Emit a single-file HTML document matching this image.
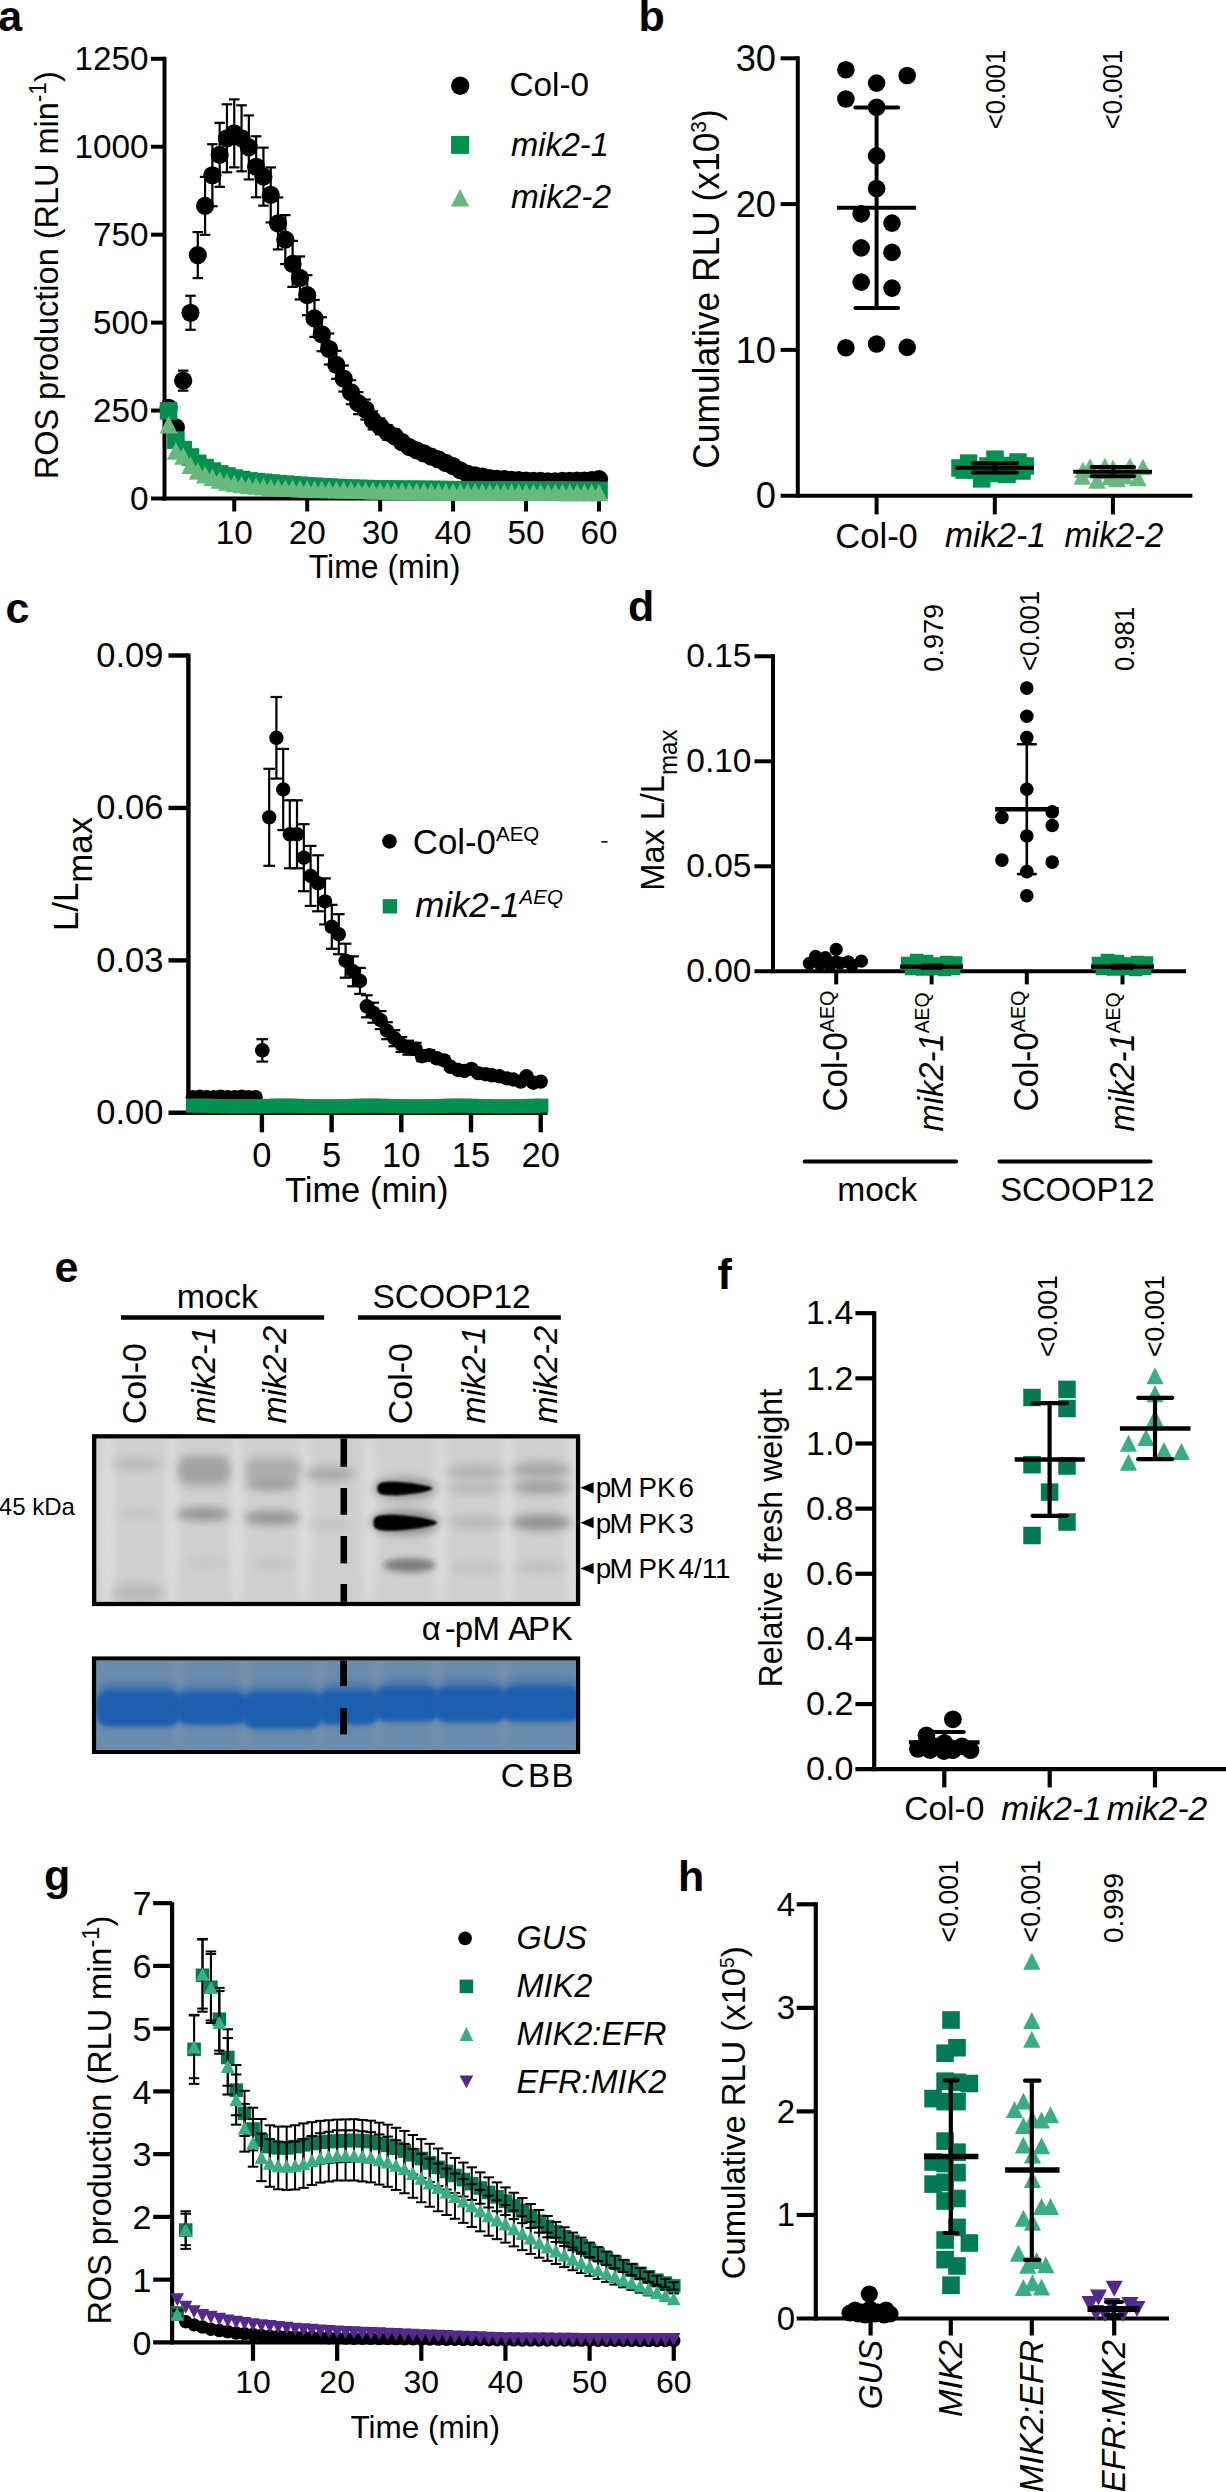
<!DOCTYPE html>
<html><head><meta charset="utf-8"><title>Figure</title>
<style>
html,body{margin:0;padding:0;background:#fff;width:1226px;height:2492px;overflow:hidden}
svg{display:block}
text{font-family:"Liberation Sans",sans-serif}
</style></head><body>
<svg width="1226" height="2492" viewBox="0 0 1226 2492">
<rect width="1226" height="2492" fill="#fff"/>
<text x="-1.8" y="30.5" font-size="43" font-weight="bold">a</text>
<line x1="164.5" y1="56.8" x2="164.5" y2="500.5" stroke="#000" stroke-width="4" stroke-linecap="butt"/>
<line x1="151" y1="498.5" x2="603" y2="498.5" stroke="#000" stroke-width="4" stroke-linecap="butt"/>
<text x="148.5" y="510.1" font-size="33.3" text-anchor="end">0</text>
<line x1="151" y1="410.56" x2="164.5" y2="410.56" stroke="#000" stroke-width="4" stroke-linecap="butt"/>
<text x="148.5" y="422.16" font-size="33.3" text-anchor="end">250</text>
<line x1="151" y1="322.62" x2="164.5" y2="322.62" stroke="#000" stroke-width="4" stroke-linecap="butt"/>
<text x="148.5" y="334.22" font-size="33.3" text-anchor="end">500</text>
<line x1="151" y1="234.68" x2="164.5" y2="234.68" stroke="#000" stroke-width="4" stroke-linecap="butt"/>
<text x="148.5" y="246.28" font-size="33.3" text-anchor="end">750</text>
<line x1="151" y1="146.74" x2="164.5" y2="146.74" stroke="#000" stroke-width="4" stroke-linecap="butt"/>
<text x="148.5" y="158.34" font-size="33.3" text-anchor="end">1000</text>
<line x1="151" y1="58.8" x2="164.5" y2="58.8" stroke="#000" stroke-width="4" stroke-linecap="butt"/>
<text x="148.5" y="70.4" font-size="33.3" text-anchor="end">1250</text>
<line x1="234.25" y1="498.5" x2="234.25" y2="511.5" stroke="#000" stroke-width="4" stroke-linecap="butt"/>
<text x="234.25" y="544.4" font-size="33.3" text-anchor="middle">10</text>
<line x1="307.2" y1="498.5" x2="307.2" y2="511.5" stroke="#000" stroke-width="4" stroke-linecap="butt"/>
<text x="307.2" y="544.4" font-size="33.3" text-anchor="middle">20</text>
<line x1="380.15" y1="498.5" x2="380.15" y2="511.5" stroke="#000" stroke-width="4" stroke-linecap="butt"/>
<text x="380.15" y="544.4" font-size="33.3" text-anchor="middle">30</text>
<line x1="453.1" y1="498.5" x2="453.1" y2="511.5" stroke="#000" stroke-width="4" stroke-linecap="butt"/>
<text x="453.1" y="544.4" font-size="33.3" text-anchor="middle">40</text>
<line x1="526.05" y1="498.5" x2="526.05" y2="511.5" stroke="#000" stroke-width="4" stroke-linecap="butt"/>
<text x="526.05" y="544.4" font-size="33.3" text-anchor="middle">50</text>
<line x1="599" y1="498.5" x2="599" y2="511.5" stroke="#000" stroke-width="4" stroke-linecap="butt"/>
<text x="599" y="544.4" font-size="33.3" text-anchor="middle">60</text>
<text transform="translate(384.5 577.8) scale(0.9610 1)" font-size="33.3" text-anchor="middle">Time (min)</text>
<text transform="translate(58 275.2) rotate(-90) scale(0.9750 1)" font-size="33.3" text-anchor="middle">ROS production (RLU min<tspan font-size="23.4" dy="-12.4">-1</tspan><tspan dy="12.4">)</tspan></text>
<line x1="168.59" y1="404.75" x2="168.59" y2="410.75" stroke="#000" stroke-width="2.2" stroke-linecap="butt"/>
<line x1="163.34" y1="404.75" x2="173.84" y2="404.75" stroke="#000" stroke-width="2.2" stroke-linecap="butt"/>
<line x1="163.34" y1="410.75" x2="173.84" y2="410.75" stroke="#000" stroke-width="2.2" stroke-linecap="butt"/>
<line x1="175.89" y1="424.44" x2="175.89" y2="430.44" stroke="#000" stroke-width="2.2" stroke-linecap="butt"/>
<line x1="170.64" y1="424.44" x2="181.14" y2="424.44" stroke="#000" stroke-width="2.2" stroke-linecap="butt"/>
<line x1="170.64" y1="430.44" x2="181.14" y2="430.44" stroke="#000" stroke-width="2.2" stroke-linecap="butt"/>
<line x1="183.19" y1="370.66" x2="183.19" y2="390.66" stroke="#000" stroke-width="2.2" stroke-linecap="butt"/>
<line x1="177.94" y1="370.66" x2="188.44" y2="370.66" stroke="#000" stroke-width="2.2" stroke-linecap="butt"/>
<line x1="177.94" y1="390.66" x2="188.44" y2="390.66" stroke="#000" stroke-width="2.2" stroke-linecap="butt"/>
<line x1="190.48" y1="295.77" x2="190.48" y2="329.77" stroke="#000" stroke-width="2.2" stroke-linecap="butt"/>
<line x1="185.23" y1="295.77" x2="195.73" y2="295.77" stroke="#000" stroke-width="2.2" stroke-linecap="butt"/>
<line x1="185.23" y1="329.77" x2="195.73" y2="329.77" stroke="#000" stroke-width="2.2" stroke-linecap="butt"/>
<line x1="197.78" y1="232.08" x2="197.78" y2="278.08" stroke="#000" stroke-width="2.2" stroke-linecap="butt"/>
<line x1="192.53" y1="232.08" x2="203.03" y2="232.08" stroke="#000" stroke-width="2.2" stroke-linecap="butt"/>
<line x1="192.53" y1="278.08" x2="203.03" y2="278.08" stroke="#000" stroke-width="2.2" stroke-linecap="butt"/>
<line x1="205.07" y1="176.84" x2="205.07" y2="234.84" stroke="#000" stroke-width="2.2" stroke-linecap="butt"/>
<line x1="199.82" y1="176.84" x2="210.32" y2="176.84" stroke="#000" stroke-width="2.2" stroke-linecap="butt"/>
<line x1="199.82" y1="234.84" x2="210.32" y2="234.84" stroke="#000" stroke-width="2.2" stroke-linecap="butt"/>
<line x1="212.37" y1="144.23" x2="212.37" y2="206.23" stroke="#000" stroke-width="2.2" stroke-linecap="butt"/>
<line x1="207.12" y1="144.23" x2="217.62" y2="144.23" stroke="#000" stroke-width="2.2" stroke-linecap="butt"/>
<line x1="207.12" y1="206.23" x2="217.62" y2="206.23" stroke="#000" stroke-width="2.2" stroke-linecap="butt"/>
<line x1="219.66" y1="122.83" x2="219.66" y2="186.83" stroke="#000" stroke-width="2.2" stroke-linecap="butt"/>
<line x1="214.41" y1="122.83" x2="224.91" y2="122.83" stroke="#000" stroke-width="2.2" stroke-linecap="butt"/>
<line x1="214.41" y1="186.83" x2="224.91" y2="186.83" stroke="#000" stroke-width="2.2" stroke-linecap="butt"/>
<line x1="226.96" y1="104.3" x2="226.96" y2="172.3" stroke="#000" stroke-width="2.2" stroke-linecap="butt"/>
<line x1="221.71" y1="104.3" x2="232.21" y2="104.3" stroke="#000" stroke-width="2.2" stroke-linecap="butt"/>
<line x1="221.71" y1="172.3" x2="232.21" y2="172.3" stroke="#000" stroke-width="2.2" stroke-linecap="butt"/>
<line x1="234.25" y1="99.37" x2="234.25" y2="167.37" stroke="#000" stroke-width="2.2" stroke-linecap="butt"/>
<line x1="229" y1="99.37" x2="239.5" y2="99.37" stroke="#000" stroke-width="2.2" stroke-linecap="butt"/>
<line x1="229" y1="167.37" x2="239.5" y2="167.37" stroke="#000" stroke-width="2.2" stroke-linecap="butt"/>
<line x1="241.55" y1="105.3" x2="241.55" y2="171.3" stroke="#000" stroke-width="2.2" stroke-linecap="butt"/>
<line x1="236.3" y1="105.3" x2="246.8" y2="105.3" stroke="#000" stroke-width="2.2" stroke-linecap="butt"/>
<line x1="236.3" y1="171.3" x2="246.8" y2="171.3" stroke="#000" stroke-width="2.2" stroke-linecap="butt"/>
<line x1="248.84" y1="115.44" x2="248.84" y2="179.44" stroke="#000" stroke-width="2.2" stroke-linecap="butt"/>
<line x1="243.59" y1="115.44" x2="254.09" y2="115.44" stroke="#000" stroke-width="2.2" stroke-linecap="butt"/>
<line x1="243.59" y1="179.44" x2="254.09" y2="179.44" stroke="#000" stroke-width="2.2" stroke-linecap="butt"/>
<line x1="256.13" y1="136.29" x2="256.13" y2="197.29" stroke="#000" stroke-width="2.2" stroke-linecap="butt"/>
<line x1="250.88" y1="136.29" x2="261.38" y2="136.29" stroke="#000" stroke-width="2.2" stroke-linecap="butt"/>
<line x1="250.88" y1="197.29" x2="261.38" y2="197.29" stroke="#000" stroke-width="2.2" stroke-linecap="butt"/>
<line x1="263.43" y1="147.64" x2="263.43" y2="205.64" stroke="#000" stroke-width="2.2" stroke-linecap="butt"/>
<line x1="258.18" y1="147.64" x2="268.68" y2="147.64" stroke="#000" stroke-width="2.2" stroke-linecap="butt"/>
<line x1="258.18" y1="205.64" x2="268.68" y2="205.64" stroke="#000" stroke-width="2.2" stroke-linecap="butt"/>
<line x1="270.73" y1="167.43" x2="270.73" y2="222.43" stroke="#000" stroke-width="2.2" stroke-linecap="butt"/>
<line x1="265.48" y1="167.43" x2="275.98" y2="167.43" stroke="#000" stroke-width="2.2" stroke-linecap="butt"/>
<line x1="265.48" y1="222.43" x2="275.98" y2="222.43" stroke="#000" stroke-width="2.2" stroke-linecap="butt"/>
<line x1="278.02" y1="197.42" x2="278.02" y2="249.42" stroke="#000" stroke-width="2.2" stroke-linecap="butt"/>
<line x1="272.77" y1="197.42" x2="283.27" y2="197.42" stroke="#000" stroke-width="2.2" stroke-linecap="butt"/>
<line x1="272.77" y1="249.42" x2="283.27" y2="249.42" stroke="#000" stroke-width="2.2" stroke-linecap="butt"/>
<line x1="285.31" y1="215.1" x2="285.31" y2="264.1" stroke="#000" stroke-width="2.2" stroke-linecap="butt"/>
<line x1="280.06" y1="215.1" x2="290.56" y2="215.1" stroke="#000" stroke-width="2.2" stroke-linecap="butt"/>
<line x1="280.06" y1="264.1" x2="290.56" y2="264.1" stroke="#000" stroke-width="2.2" stroke-linecap="butt"/>
<line x1="292.61" y1="240.88" x2="292.61" y2="286.88" stroke="#000" stroke-width="2.2" stroke-linecap="butt"/>
<line x1="287.36" y1="240.88" x2="297.86" y2="240.88" stroke="#000" stroke-width="2.2" stroke-linecap="butt"/>
<line x1="287.36" y1="286.88" x2="297.86" y2="286.88" stroke="#000" stroke-width="2.2" stroke-linecap="butt"/>
<line x1="299.9" y1="256.45" x2="299.9" y2="299.45" stroke="#000" stroke-width="2.2" stroke-linecap="butt"/>
<line x1="294.65" y1="256.45" x2="305.15" y2="256.45" stroke="#000" stroke-width="2.2" stroke-linecap="butt"/>
<line x1="294.65" y1="299.45" x2="305.15" y2="299.45" stroke="#000" stroke-width="2.2" stroke-linecap="butt"/>
<line x1="307.2" y1="275.18" x2="307.2" y2="315.18" stroke="#000" stroke-width="2.2" stroke-linecap="butt"/>
<line x1="301.95" y1="275.18" x2="312.45" y2="275.18" stroke="#000" stroke-width="2.2" stroke-linecap="butt"/>
<line x1="301.95" y1="315.18" x2="312.45" y2="315.18" stroke="#000" stroke-width="2.2" stroke-linecap="butt"/>
<line x1="314.5" y1="299.9" x2="314.5" y2="336.9" stroke="#000" stroke-width="2.2" stroke-linecap="butt"/>
<line x1="309.25" y1="299.9" x2="319.75" y2="299.9" stroke="#000" stroke-width="2.2" stroke-linecap="butt"/>
<line x1="309.25" y1="336.9" x2="319.75" y2="336.9" stroke="#000" stroke-width="2.2" stroke-linecap="butt"/>
<line x1="321.79" y1="317.23" x2="321.79" y2="351.23" stroke="#000" stroke-width="2.2" stroke-linecap="butt"/>
<line x1="316.54" y1="317.23" x2="327.04" y2="317.23" stroke="#000" stroke-width="2.2" stroke-linecap="butt"/>
<line x1="316.54" y1="351.23" x2="327.04" y2="351.23" stroke="#000" stroke-width="2.2" stroke-linecap="butt"/>
<line x1="329.09" y1="333.5" x2="329.09" y2="364.5" stroke="#000" stroke-width="2.2" stroke-linecap="butt"/>
<line x1="323.84" y1="333.5" x2="334.34" y2="333.5" stroke="#000" stroke-width="2.2" stroke-linecap="butt"/>
<line x1="323.84" y1="364.5" x2="334.34" y2="364.5" stroke="#000" stroke-width="2.2" stroke-linecap="butt"/>
<line x1="336.38" y1="350.83" x2="336.38" y2="378.83" stroke="#000" stroke-width="2.2" stroke-linecap="butt"/>
<line x1="331.13" y1="350.83" x2="341.63" y2="350.83" stroke="#000" stroke-width="2.2" stroke-linecap="butt"/>
<line x1="331.13" y1="378.83" x2="341.63" y2="378.83" stroke="#000" stroke-width="2.2" stroke-linecap="butt"/>
<line x1="343.68" y1="365.55" x2="343.68" y2="391.55" stroke="#000" stroke-width="2.2" stroke-linecap="butt"/>
<line x1="338.43" y1="365.55" x2="348.93" y2="365.55" stroke="#000" stroke-width="2.2" stroke-linecap="butt"/>
<line x1="338.43" y1="391.55" x2="348.93" y2="391.55" stroke="#000" stroke-width="2.2" stroke-linecap="butt"/>
<line x1="350.97" y1="380.27" x2="350.97" y2="404.27" stroke="#000" stroke-width="2.2" stroke-linecap="butt"/>
<line x1="345.72" y1="380.27" x2="356.22" y2="380.27" stroke="#000" stroke-width="2.2" stroke-linecap="butt"/>
<line x1="345.72" y1="404.27" x2="356.22" y2="404.27" stroke="#000" stroke-width="2.2" stroke-linecap="butt"/>
<line x1="358.26" y1="392.17" x2="358.26" y2="414.17" stroke="#000" stroke-width="2.2" stroke-linecap="butt"/>
<line x1="353.01" y1="392.17" x2="363.51" y2="392.17" stroke="#000" stroke-width="2.2" stroke-linecap="butt"/>
<line x1="353.01" y1="414.17" x2="363.51" y2="414.17" stroke="#000" stroke-width="2.2" stroke-linecap="butt"/>
<line x1="365.56" y1="399.5" x2="365.56" y2="419.5" stroke="#000" stroke-width="2.2" stroke-linecap="butt"/>
<line x1="360.31" y1="399.5" x2="370.81" y2="399.5" stroke="#000" stroke-width="2.2" stroke-linecap="butt"/>
<line x1="360.31" y1="419.5" x2="370.81" y2="419.5" stroke="#000" stroke-width="2.2" stroke-linecap="butt"/>
<line x1="372.86" y1="411.41" x2="372.86" y2="429.41" stroke="#000" stroke-width="2.2" stroke-linecap="butt"/>
<line x1="367.61" y1="411.41" x2="378.11" y2="411.41" stroke="#000" stroke-width="2.2" stroke-linecap="butt"/>
<line x1="367.61" y1="429.41" x2="378.11" y2="429.41" stroke="#000" stroke-width="2.2" stroke-linecap="butt"/>
<line x1="380.15" y1="418.39" x2="380.15" y2="434.39" stroke="#000" stroke-width="2.2" stroke-linecap="butt"/>
<line x1="374.9" y1="418.39" x2="385.4" y2="418.39" stroke="#000" stroke-width="2.2" stroke-linecap="butt"/>
<line x1="374.9" y1="434.39" x2="385.4" y2="434.39" stroke="#000" stroke-width="2.2" stroke-linecap="butt"/>
<line x1="387.45" y1="425.04" x2="387.45" y2="439.7" stroke="#000" stroke-width="2.2" stroke-linecap="butt"/>
<line x1="382.2" y1="425.04" x2="392.7" y2="425.04" stroke="#000" stroke-width="2.2" stroke-linecap="butt"/>
<line x1="382.2" y1="439.7" x2="392.7" y2="439.7" stroke="#000" stroke-width="2.2" stroke-linecap="butt"/>
<line x1="394.74" y1="429.57" x2="394.74" y2="442.91" stroke="#000" stroke-width="2.2" stroke-linecap="butt"/>
<line x1="389.49" y1="429.57" x2="399.99" y2="429.57" stroke="#000" stroke-width="2.2" stroke-linecap="butt"/>
<line x1="389.49" y1="442.91" x2="399.99" y2="442.91" stroke="#000" stroke-width="2.2" stroke-linecap="butt"/>
<line x1="402.03" y1="436.22" x2="402.03" y2="448.22" stroke="#000" stroke-width="2.2" stroke-linecap="butt"/>
<line x1="396.78" y1="436.22" x2="407.28" y2="436.22" stroke="#000" stroke-width="2.2" stroke-linecap="butt"/>
<line x1="396.78" y1="448.22" x2="407.28" y2="448.22" stroke="#000" stroke-width="2.2" stroke-linecap="butt"/>
<line x1="409.33" y1="441.81" x2="409.33" y2="452.48" stroke="#000" stroke-width="2.2" stroke-linecap="butt"/>
<line x1="404.08" y1="441.81" x2="414.58" y2="441.81" stroke="#000" stroke-width="2.2" stroke-linecap="butt"/>
<line x1="404.08" y1="452.48" x2="414.58" y2="452.48" stroke="#000" stroke-width="2.2" stroke-linecap="butt"/>
<line x1="416.62" y1="445.64" x2="416.62" y2="454.98" stroke="#000" stroke-width="2.2" stroke-linecap="butt"/>
<line x1="411.38" y1="445.64" x2="421.88" y2="445.64" stroke="#000" stroke-width="2.2" stroke-linecap="butt"/>
<line x1="411.38" y1="454.98" x2="421.88" y2="454.98" stroke="#000" stroke-width="2.2" stroke-linecap="butt"/>
<line x1="423.92" y1="449.47" x2="423.92" y2="457.47" stroke="#000" stroke-width="2.2" stroke-linecap="butt"/>
<line x1="418.67" y1="449.47" x2="429.17" y2="449.47" stroke="#000" stroke-width="2.2" stroke-linecap="butt"/>
<line x1="418.67" y1="457.47" x2="429.17" y2="457.47" stroke="#000" stroke-width="2.2" stroke-linecap="butt"/>
<line x1="431.22" y1="452.89" x2="431.22" y2="460.39" stroke="#000" stroke-width="2.2" stroke-linecap="butt"/>
<line x1="425.97" y1="452.89" x2="436.47" y2="452.89" stroke="#000" stroke-width="2.2" stroke-linecap="butt"/>
<line x1="425.97" y1="460.39" x2="436.47" y2="460.39" stroke="#000" stroke-width="2.2" stroke-linecap="butt"/>
<line x1="438.51" y1="455.95" x2="438.51" y2="462.95" stroke="#000" stroke-width="2.2" stroke-linecap="butt"/>
<line x1="433.26" y1="455.95" x2="443.76" y2="455.95" stroke="#000" stroke-width="2.2" stroke-linecap="butt"/>
<line x1="433.26" y1="462.95" x2="443.76" y2="462.95" stroke="#000" stroke-width="2.2" stroke-linecap="butt"/>
<line x1="445.81" y1="459.72" x2="445.81" y2="466.22" stroke="#000" stroke-width="2.2" stroke-linecap="butt"/>
<line x1="440.56" y1="459.72" x2="451.06" y2="459.72" stroke="#000" stroke-width="2.2" stroke-linecap="butt"/>
<line x1="440.56" y1="466.22" x2="451.06" y2="466.22" stroke="#000" stroke-width="2.2" stroke-linecap="butt"/>
<line x1="453.1" y1="463.14" x2="453.1" y2="469.14" stroke="#000" stroke-width="2.2" stroke-linecap="butt"/>
<line x1="447.85" y1="463.14" x2="458.35" y2="463.14" stroke="#000" stroke-width="2.2" stroke-linecap="butt"/>
<line x1="447.85" y1="469.14" x2="458.35" y2="469.14" stroke="#000" stroke-width="2.2" stroke-linecap="butt"/>
<line x1="460.39" y1="467.41" x2="460.39" y2="473.31" stroke="#000" stroke-width="2.2" stroke-linecap="butt"/>
<line x1="455.14" y1="467.41" x2="465.64" y2="467.41" stroke="#000" stroke-width="2.2" stroke-linecap="butt"/>
<line x1="455.14" y1="473.31" x2="465.64" y2="473.31" stroke="#000" stroke-width="2.2" stroke-linecap="butt"/>
<line x1="467.69" y1="470.98" x2="467.69" y2="476.78" stroke="#000" stroke-width="2.2" stroke-linecap="butt"/>
<line x1="462.44" y1="470.98" x2="472.94" y2="470.98" stroke="#000" stroke-width="2.2" stroke-linecap="butt"/>
<line x1="462.44" y1="476.78" x2="472.94" y2="476.78" stroke="#000" stroke-width="2.2" stroke-linecap="butt"/>
<line x1="474.99" y1="472.43" x2="474.99" y2="478.13" stroke="#000" stroke-width="2.2" stroke-linecap="butt"/>
<line x1="469.74" y1="472.43" x2="480.24" y2="472.43" stroke="#000" stroke-width="2.2" stroke-linecap="butt"/>
<line x1="469.74" y1="478.13" x2="480.24" y2="478.13" stroke="#000" stroke-width="2.2" stroke-linecap="butt"/>
<line x1="482.28" y1="473.89" x2="482.28" y2="479.49" stroke="#000" stroke-width="2.2" stroke-linecap="butt"/>
<line x1="477.03" y1="473.89" x2="487.53" y2="473.89" stroke="#000" stroke-width="2.2" stroke-linecap="butt"/>
<line x1="477.03" y1="479.49" x2="487.53" y2="479.49" stroke="#000" stroke-width="2.2" stroke-linecap="butt"/>
<line x1="489.57" y1="475.35" x2="489.57" y2="480.85" stroke="#000" stroke-width="2.2" stroke-linecap="butt"/>
<line x1="484.32" y1="475.35" x2="494.82" y2="475.35" stroke="#000" stroke-width="2.2" stroke-linecap="butt"/>
<line x1="484.32" y1="480.85" x2="494.82" y2="480.85" stroke="#000" stroke-width="2.2" stroke-linecap="butt"/>
<line x1="496.87" y1="476.1" x2="496.87" y2="481.5" stroke="#000" stroke-width="2.2" stroke-linecap="butt"/>
<line x1="491.62" y1="476.1" x2="502.12" y2="476.1" stroke="#000" stroke-width="2.2" stroke-linecap="butt"/>
<line x1="491.62" y1="481.5" x2="502.12" y2="481.5" stroke="#000" stroke-width="2.2" stroke-linecap="butt"/>
<line x1="504.17" y1="476.5" x2="504.17" y2="481.8" stroke="#000" stroke-width="2.2" stroke-linecap="butt"/>
<line x1="498.92" y1="476.5" x2="509.42" y2="476.5" stroke="#000" stroke-width="2.2" stroke-linecap="butt"/>
<line x1="498.92" y1="481.8" x2="509.42" y2="481.8" stroke="#000" stroke-width="2.2" stroke-linecap="butt"/>
<line x1="511.46" y1="477.26" x2="511.46" y2="482.46" stroke="#000" stroke-width="2.2" stroke-linecap="butt"/>
<line x1="506.21" y1="477.26" x2="516.71" y2="477.26" stroke="#000" stroke-width="2.2" stroke-linecap="butt"/>
<line x1="506.21" y1="482.46" x2="516.71" y2="482.46" stroke="#000" stroke-width="2.2" stroke-linecap="butt"/>
<line x1="518.75" y1="477.66" x2="518.75" y2="482.76" stroke="#000" stroke-width="2.2" stroke-linecap="butt"/>
<line x1="513.5" y1="477.66" x2="524" y2="477.66" stroke="#000" stroke-width="2.2" stroke-linecap="butt"/>
<line x1="513.5" y1="482.76" x2="524" y2="482.76" stroke="#000" stroke-width="2.2" stroke-linecap="butt"/>
<line x1="526.05" y1="478.06" x2="526.05" y2="483.06" stroke="#000" stroke-width="2.2" stroke-linecap="butt"/>
<line x1="520.8" y1="478.06" x2="531.3" y2="478.06" stroke="#000" stroke-width="2.2" stroke-linecap="butt"/>
<line x1="520.8" y1="483.06" x2="531.3" y2="483.06" stroke="#000" stroke-width="2.2" stroke-linecap="butt"/>
<line x1="533.35" y1="478.46" x2="533.35" y2="483.36" stroke="#000" stroke-width="2.2" stroke-linecap="butt"/>
<line x1="528.1" y1="478.46" x2="538.6" y2="478.46" stroke="#000" stroke-width="2.2" stroke-linecap="butt"/>
<line x1="528.1" y1="483.36" x2="538.6" y2="483.36" stroke="#000" stroke-width="2.2" stroke-linecap="butt"/>
<line x1="540.64" y1="478.51" x2="540.64" y2="483.31" stroke="#000" stroke-width="2.2" stroke-linecap="butt"/>
<line x1="535.39" y1="478.51" x2="545.89" y2="478.51" stroke="#000" stroke-width="2.2" stroke-linecap="butt"/>
<line x1="535.39" y1="483.31" x2="545.89" y2="483.31" stroke="#000" stroke-width="2.2" stroke-linecap="butt"/>
<line x1="547.93" y1="478.91" x2="547.93" y2="483.61" stroke="#000" stroke-width="2.2" stroke-linecap="butt"/>
<line x1="542.68" y1="478.91" x2="553.18" y2="478.91" stroke="#000" stroke-width="2.2" stroke-linecap="butt"/>
<line x1="542.68" y1="483.61" x2="553.18" y2="483.61" stroke="#000" stroke-width="2.2" stroke-linecap="butt"/>
<line x1="555.23" y1="478.96" x2="555.23" y2="483.56" stroke="#000" stroke-width="2.2" stroke-linecap="butt"/>
<line x1="549.98" y1="478.96" x2="560.48" y2="478.96" stroke="#000" stroke-width="2.2" stroke-linecap="butt"/>
<line x1="549.98" y1="483.56" x2="560.48" y2="483.56" stroke="#000" stroke-width="2.2" stroke-linecap="butt"/>
<line x1="562.53" y1="478.66" x2="562.53" y2="483.16" stroke="#000" stroke-width="2.2" stroke-linecap="butt"/>
<line x1="557.28" y1="478.66" x2="567.78" y2="478.66" stroke="#000" stroke-width="2.2" stroke-linecap="butt"/>
<line x1="557.28" y1="483.16" x2="567.78" y2="483.16" stroke="#000" stroke-width="2.2" stroke-linecap="butt"/>
<line x1="569.82" y1="478.71" x2="569.82" y2="483.11" stroke="#000" stroke-width="2.2" stroke-linecap="butt"/>
<line x1="564.57" y1="478.71" x2="575.07" y2="478.71" stroke="#000" stroke-width="2.2" stroke-linecap="butt"/>
<line x1="564.57" y1="483.11" x2="575.07" y2="483.11" stroke="#000" stroke-width="2.2" stroke-linecap="butt"/>
<line x1="577.12" y1="478.41" x2="577.12" y2="482.71" stroke="#000" stroke-width="2.2" stroke-linecap="butt"/>
<line x1="571.87" y1="478.41" x2="582.37" y2="478.41" stroke="#000" stroke-width="2.2" stroke-linecap="butt"/>
<line x1="571.87" y1="482.71" x2="582.37" y2="482.71" stroke="#000" stroke-width="2.2" stroke-linecap="butt"/>
<line x1="584.41" y1="478.46" x2="584.41" y2="482.66" stroke="#000" stroke-width="2.2" stroke-linecap="butt"/>
<line x1="579.16" y1="478.46" x2="589.66" y2="478.46" stroke="#000" stroke-width="2.2" stroke-linecap="butt"/>
<line x1="579.16" y1="482.66" x2="589.66" y2="482.66" stroke="#000" stroke-width="2.2" stroke-linecap="butt"/>
<line x1="591.7" y1="478.16" x2="591.7" y2="482.26" stroke="#000" stroke-width="2.2" stroke-linecap="butt"/>
<line x1="586.45" y1="478.16" x2="596.95" y2="478.16" stroke="#000" stroke-width="2.2" stroke-linecap="butt"/>
<line x1="586.45" y1="482.26" x2="596.95" y2="482.26" stroke="#000" stroke-width="2.2" stroke-linecap="butt"/>
<line x1="599" y1="477.15" x2="599" y2="481.15" stroke="#000" stroke-width="2.2" stroke-linecap="butt"/>
<line x1="593.75" y1="477.15" x2="604.25" y2="477.15" stroke="#000" stroke-width="2.2" stroke-linecap="butt"/>
<line x1="593.75" y1="481.15" x2="604.25" y2="481.15" stroke="#000" stroke-width="2.2" stroke-linecap="butt"/>
<circle cx="168.59" cy="407.75" r="9.1" fill="#000"/>
<circle cx="175.89" cy="427.44" r="9.1" fill="#000"/>
<circle cx="183.19" cy="380.66" r="9.1" fill="#000"/>
<circle cx="190.48" cy="312.77" r="9.1" fill="#000"/>
<circle cx="197.78" cy="255.08" r="9.1" fill="#000"/>
<circle cx="205.07" cy="205.84" r="9.1" fill="#000"/>
<circle cx="212.37" cy="175.23" r="9.1" fill="#000"/>
<circle cx="219.66" cy="154.83" r="9.1" fill="#000"/>
<circle cx="226.96" cy="138.3" r="9.1" fill="#000"/>
<circle cx="234.25" cy="133.37" r="9.1" fill="#000"/>
<circle cx="241.55" cy="138.3" r="9.1" fill="#000"/>
<circle cx="248.84" cy="147.44" r="9.1" fill="#000"/>
<circle cx="256.13" cy="166.79" r="9.1" fill="#000"/>
<circle cx="263.43" cy="176.64" r="9.1" fill="#000"/>
<circle cx="270.73" cy="194.93" r="9.1" fill="#000"/>
<circle cx="278.02" cy="223.42" r="9.1" fill="#000"/>
<circle cx="285.31" cy="239.6" r="9.1" fill="#000"/>
<circle cx="292.61" cy="263.88" r="9.1" fill="#000"/>
<circle cx="299.9" cy="277.95" r="9.1" fill="#000"/>
<circle cx="307.2" cy="295.18" r="9.1" fill="#000"/>
<circle cx="314.5" cy="318.4" r="9.1" fill="#000"/>
<circle cx="321.79" cy="334.23" r="9.1" fill="#000"/>
<circle cx="329.09" cy="349" r="9.1" fill="#000"/>
<circle cx="336.38" cy="364.83" r="9.1" fill="#000"/>
<circle cx="343.68" cy="378.55" r="9.1" fill="#000"/>
<circle cx="350.97" cy="392.27" r="9.1" fill="#000"/>
<circle cx="358.26" cy="403.17" r="9.1" fill="#000"/>
<circle cx="365.56" cy="409.5" r="9.1" fill="#000"/>
<circle cx="372.86" cy="420.41" r="9.1" fill="#000"/>
<circle cx="380.15" cy="426.39" r="9.1" fill="#000"/>
<circle cx="387.45" cy="432.37" r="9.1" fill="#000"/>
<circle cx="394.74" cy="436.24" r="9.1" fill="#000"/>
<circle cx="402.03" cy="442.22" r="9.1" fill="#000"/>
<circle cx="409.33" cy="447.14" r="9.1" fill="#000"/>
<circle cx="416.62" cy="450.31" r="9.1" fill="#000"/>
<circle cx="423.92" cy="453.47" r="9.1" fill="#000"/>
<circle cx="431.22" cy="456.64" r="9.1" fill="#000"/>
<circle cx="438.51" cy="459.45" r="9.1" fill="#000"/>
<circle cx="445.81" cy="462.97" r="9.1" fill="#000"/>
<circle cx="453.1" cy="466.14" r="9.1" fill="#000"/>
<circle cx="460.39" cy="470.36" r="9.1" fill="#000"/>
<circle cx="467.69" cy="473.88" r="9.1" fill="#000"/>
<circle cx="474.99" cy="475.28" r="9.1" fill="#000"/>
<circle cx="482.28" cy="476.69" r="9.1" fill="#000"/>
<circle cx="489.57" cy="478.1" r="9.1" fill="#000"/>
<circle cx="496.87" cy="478.8" r="9.1" fill="#000"/>
<circle cx="504.17" cy="479.15" r="9.1" fill="#000"/>
<circle cx="511.46" cy="479.86" r="9.1" fill="#000"/>
<circle cx="518.75" cy="480.21" r="9.1" fill="#000"/>
<circle cx="526.05" cy="480.56" r="9.1" fill="#000"/>
<circle cx="533.35" cy="480.91" r="9.1" fill="#000"/>
<circle cx="540.64" cy="480.91" r="9.1" fill="#000"/>
<circle cx="547.93" cy="481.26" r="9.1" fill="#000"/>
<circle cx="555.23" cy="481.26" r="9.1" fill="#000"/>
<circle cx="562.53" cy="480.91" r="9.1" fill="#000"/>
<circle cx="569.82" cy="480.91" r="9.1" fill="#000"/>
<circle cx="577.12" cy="480.56" r="9.1" fill="#000"/>
<circle cx="584.41" cy="480.56" r="9.1" fill="#000"/>
<circle cx="591.7" cy="480.21" r="9.1" fill="#000"/>
<circle cx="599" cy="479.15" r="9.1" fill="#000"/>
<rect x="159.79" y="402.11" width="17.6" height="17.6" fill="#029050"/>
<rect x="167.09" y="431.31" width="17.6" height="17.6" fill="#029050"/>
<rect x="174.38" y="440.81" width="17.6" height="17.6" fill="#029050"/>
<rect x="181.68" y="448.19" width="17.6" height="17.6" fill="#029050"/>
<rect x="188.97" y="454.52" width="17.6" height="17.6" fill="#029050"/>
<rect x="196.27" y="458.75" width="17.6" height="17.6" fill="#029050"/>
<rect x="203.56" y="462.26" width="17.6" height="17.6" fill="#029050"/>
<rect x="210.86" y="465.08" width="17.6" height="17.6" fill="#029050"/>
<rect x="218.16" y="467.19" width="17.6" height="17.6" fill="#029050"/>
<rect x="225.45" y="469.3" width="17.6" height="17.6" fill="#029050"/>
<rect x="232.75" y="470.7" width="17.6" height="17.6" fill="#029050"/>
<rect x="240.04" y="472.11" width="17.6" height="17.6" fill="#029050"/>
<rect x="247.33" y="472.82" width="17.6" height="17.6" fill="#029050"/>
<rect x="254.63" y="473.52" width="17.6" height="17.6" fill="#029050"/>
<rect x="261.93" y="474.22" width="17.6" height="17.6" fill="#029050"/>
<rect x="269.22" y="474.79" width="17.6" height="17.6" fill="#029050"/>
<rect x="276.51" y="475.35" width="17.6" height="17.6" fill="#029050"/>
<rect x="283.81" y="475.91" width="17.6" height="17.6" fill="#029050"/>
<rect x="291.1" y="476.47" width="17.6" height="17.6" fill="#029050"/>
<rect x="298.4" y="477.04" width="17.6" height="17.6" fill="#029050"/>
<rect x="305.69" y="477.46" width="17.6" height="17.6" fill="#029050"/>
<rect x="312.99" y="477.88" width="17.6" height="17.6" fill="#029050"/>
<rect x="320.29" y="478.3" width="17.6" height="17.6" fill="#029050"/>
<rect x="327.58" y="478.73" width="17.6" height="17.6" fill="#029050"/>
<rect x="334.88" y="479.15" width="17.6" height="17.6" fill="#029050"/>
<rect x="342.17" y="479.36" width="17.6" height="17.6" fill="#029050"/>
<rect x="349.46" y="479.57" width="17.6" height="17.6" fill="#029050"/>
<rect x="356.76" y="479.78" width="17.6" height="17.6" fill="#029050"/>
<rect x="364.06" y="479.99" width="17.6" height="17.6" fill="#029050"/>
<rect x="371.35" y="480.2" width="17.6" height="17.6" fill="#029050"/>
<rect x="378.65" y="480.27" width="17.6" height="17.6" fill="#029050"/>
<rect x="385.94" y="480.34" width="17.6" height="17.6" fill="#029050"/>
<rect x="393.23" y="480.41" width="17.6" height="17.6" fill="#029050"/>
<rect x="400.53" y="480.48" width="17.6" height="17.6" fill="#029050"/>
<rect x="407.82" y="480.55" width="17.6" height="17.6" fill="#029050"/>
<rect x="415.12" y="480.62" width="17.6" height="17.6" fill="#029050"/>
<rect x="422.42" y="480.69" width="17.6" height="17.6" fill="#029050"/>
<rect x="429.71" y="480.77" width="17.6" height="17.6" fill="#029050"/>
<rect x="437" y="480.84" width="17.6" height="17.6" fill="#029050"/>
<rect x="444.3" y="480.91" width="17.6" height="17.6" fill="#029050"/>
<rect x="451.59" y="480.94" width="17.6" height="17.6" fill="#029050"/>
<rect x="458.89" y="480.98" width="17.6" height="17.6" fill="#029050"/>
<rect x="466.19" y="481.01" width="17.6" height="17.6" fill="#029050"/>
<rect x="473.48" y="481.05" width="17.6" height="17.6" fill="#029050"/>
<rect x="480.77" y="481.08" width="17.6" height="17.6" fill="#029050"/>
<rect x="488.07" y="481.12" width="17.6" height="17.6" fill="#029050"/>
<rect x="495.37" y="481.15" width="17.6" height="17.6" fill="#029050"/>
<rect x="502.66" y="481.19" width="17.6" height="17.6" fill="#029050"/>
<rect x="509.95" y="481.22" width="17.6" height="17.6" fill="#029050"/>
<rect x="517.25" y="481.26" width="17.6" height="17.6" fill="#029050"/>
<rect x="524.55" y="481.29" width="17.6" height="17.6" fill="#029050"/>
<rect x="531.84" y="481.33" width="17.6" height="17.6" fill="#029050"/>
<rect x="539.13" y="481.36" width="17.6" height="17.6" fill="#029050"/>
<rect x="546.43" y="481.4" width="17.6" height="17.6" fill="#029050"/>
<rect x="553.73" y="481.43" width="17.6" height="17.6" fill="#029050"/>
<rect x="561.02" y="481.47" width="17.6" height="17.6" fill="#029050"/>
<rect x="568.32" y="481.5" width="17.6" height="17.6" fill="#029050"/>
<rect x="575.61" y="481.54" width="17.6" height="17.6" fill="#029050"/>
<rect x="582.9" y="481.57" width="17.6" height="17.6" fill="#029050"/>
<rect x="590.2" y="481.61" width="17.6" height="17.6" fill="#029050"/>
<polygon points="168.59,415.83 177.59,433.43 159.59,433.43" fill="#68b97d"/>
<polygon points="175.89,442.21 184.89,459.81 166.89,459.81" fill="#68b97d"/>
<polygon points="183.19,447.14 192.19,464.74 174.19,464.74" fill="#68b97d"/>
<polygon points="190.48,456.28 199.48,473.88 181.48,473.88" fill="#68b97d"/>
<polygon points="197.78,462.26 206.78,479.86 188.78,479.86" fill="#68b97d"/>
<polygon points="205.07,465.78 214.07,483.38 196.07,483.38" fill="#68b97d"/>
<polygon points="212.37,468.59 221.37,486.19 203.37,486.19" fill="#68b97d"/>
<polygon points="219.66,471.06 228.66,488.66 210.66,488.66" fill="#68b97d"/>
<polygon points="226.96,473.17 235.96,490.77 217.96,490.77" fill="#68b97d"/>
<polygon points="234.25,474.57 243.25,492.17 225.25,492.17" fill="#68b97d"/>
<polygon points="241.55,475.63 250.55,493.23 232.55,493.23" fill="#68b97d"/>
<polygon points="248.84,476.68 257.84,494.28 239.84,494.28" fill="#68b97d"/>
<polygon points="256.13,477.27 265.13,494.87 247.13,494.87" fill="#68b97d"/>
<polygon points="263.43,477.86 272.43,495.46 254.43,495.46" fill="#68b97d"/>
<polygon points="270.73,478.44 279.73,496.04 261.73,496.04" fill="#68b97d"/>
<polygon points="278.02,478.8 287.02,496.4 269.02,496.4" fill="#68b97d"/>
<polygon points="285.31,479.15 294.31,496.75 276.31,496.75" fill="#68b97d"/>
<polygon points="292.61,479.5 301.61,497.1 283.61,497.1" fill="#68b97d"/>
<polygon points="299.9,479.85 308.9,497.45 290.9,497.45" fill="#68b97d"/>
<polygon points="307.2,480.2 316.2,497.8 298.2,497.8" fill="#68b97d"/>
<polygon points="314.5,480.38 323.5,497.98 305.5,497.98" fill="#68b97d"/>
<polygon points="321.79,480.55 330.79,498.15 312.79,498.15" fill="#68b97d"/>
<polygon points="329.09,480.73 338.09,498.33 320.09,498.33" fill="#68b97d"/>
<polygon points="336.38,480.91 345.38,498.51 327.38,498.51" fill="#68b97d"/>
<polygon points="343.68,481.08 352.68,498.68 334.68,498.68" fill="#68b97d"/>
<polygon points="350.97,481.26 359.97,498.86 341.97,498.86" fill="#68b97d"/>
<polygon points="358.26,481.43 367.26,499.03 349.26,499.03" fill="#68b97d"/>
<polygon points="365.56,481.61 374.56,499.21 356.56,499.21" fill="#68b97d"/>
<polygon points="372.86,481.79 381.86,499.39 363.86,499.39" fill="#68b97d"/>
<polygon points="380.15,481.96 389.15,499.56 371.15,499.56" fill="#68b97d"/>
<polygon points="387.45,482.07 396.45,499.67 378.45,499.67" fill="#68b97d"/>
<polygon points="394.74,482.17 403.74,499.77 385.74,499.77" fill="#68b97d"/>
<polygon points="402.03,482.28 411.03,499.88 393.03,499.88" fill="#68b97d"/>
<polygon points="409.33,482.38 418.33,499.98 400.33,499.98" fill="#68b97d"/>
<polygon points="416.62,482.49 425.62,500.09 407.62,500.09" fill="#68b97d"/>
<polygon points="423.92,482.59 432.92,500.19 414.92,500.19" fill="#68b97d"/>
<polygon points="431.22,482.7 440.22,500.3 422.22,500.3" fill="#68b97d"/>
<polygon points="438.51,482.81 447.51,500.41 429.51,500.41" fill="#68b97d"/>
<polygon points="445.81,482.91 454.81,500.51 436.81,500.51" fill="#68b97d"/>
<polygon points="453.1,483.02 462.1,500.62 444.1,500.62" fill="#68b97d"/>
<polygon points="460.39,483.05 469.39,500.65 451.39,500.65" fill="#68b97d"/>
<polygon points="467.69,483.09 476.69,500.69 458.69,500.69" fill="#68b97d"/>
<polygon points="474.99,483.12 483.99,500.72 465.99,500.72" fill="#68b97d"/>
<polygon points="482.28,483.16 491.28,500.76 473.28,500.76" fill="#68b97d"/>
<polygon points="489.57,483.19 498.57,500.79 480.57,500.79" fill="#68b97d"/>
<polygon points="496.87,483.23 505.87,500.83 487.87,500.83" fill="#68b97d"/>
<polygon points="504.17,483.26 513.16,500.86 495.17,500.86" fill="#68b97d"/>
<polygon points="511.46,483.3 520.46,500.9 502.46,500.9" fill="#68b97d"/>
<polygon points="518.75,483.33 527.75,500.93 509.75,500.93" fill="#68b97d"/>
<polygon points="526.05,483.37 535.05,500.97 517.05,500.97" fill="#68b97d"/>
<polygon points="533.35,483.4 542.35,501 524.35,501" fill="#68b97d"/>
<polygon points="540.64,483.44 549.64,501.04 531.64,501.04" fill="#68b97d"/>
<polygon points="547.93,483.47 556.93,501.07 538.93,501.07" fill="#68b97d"/>
<polygon points="555.23,483.51 564.23,501.11 546.23,501.11" fill="#68b97d"/>
<polygon points="562.53,483.54 571.53,501.14 553.53,501.14" fill="#68b97d"/>
<polygon points="569.82,483.58 578.82,501.18 560.82,501.18" fill="#68b97d"/>
<polygon points="577.12,483.61 586.12,501.21 568.12,501.21" fill="#68b97d"/>
<polygon points="584.41,483.65 593.41,501.25 575.41,501.25" fill="#68b97d"/>
<polygon points="591.7,483.68 600.7,501.28 582.7,501.28" fill="#68b97d"/>
<polygon points="599,483.72 608,501.32 590,501.32" fill="#68b97d"/>
<circle cx="460.2" cy="85.7" r="9.2" fill="#000"/>
<rect x="451.1" y="135.9" width="18" height="18" fill="#029050"/>
<polygon points="460.1,188.9 469.2,206.5 451,206.5" fill="#68b97d"/>
<text x="509.5" y="96.4" font-size="33.3">Col-0</text>
<text transform="translate(511 156.2) scale(0.9800 1)" font-size="33.3" font-style="italic">mik2-1</text>
<text x="511" y="208.3" font-size="33.3" font-style="italic">mik2-2</text>
<text x="638.5" y="30.8" font-size="43" font-weight="bold">b</text>
<line x1="797.8" y1="56.2" x2="797.8" y2="497.7" stroke="#000" stroke-width="4" stroke-linecap="butt"/>
<line x1="780.6" y1="495.7" x2="1192.4" y2="495.7" stroke="#000" stroke-width="4" stroke-linecap="butt"/>
<text x="776" y="508.3" font-size="36.3" text-anchor="end">0</text>
<line x1="780.6" y1="349.9" x2="797.8" y2="349.9" stroke="#000" stroke-width="4" stroke-linecap="butt"/>
<text x="776" y="362.5" font-size="36.3" text-anchor="end">10</text>
<line x1="780.6" y1="204.1" x2="797.8" y2="204.1" stroke="#000" stroke-width="4" stroke-linecap="butt"/>
<text x="776" y="216.7" font-size="36.3" text-anchor="end">20</text>
<line x1="780.6" y1="58.3" x2="797.8" y2="58.3" stroke="#000" stroke-width="4" stroke-linecap="butt"/>
<text x="776" y="70.9" font-size="36.3" text-anchor="end">30</text>
<line x1="876.6" y1="495.7" x2="876.6" y2="514.4" stroke="#000" stroke-width="4" stroke-linecap="butt"/>
<line x1="994.8" y1="495.7" x2="994.8" y2="514.4" stroke="#000" stroke-width="4" stroke-linecap="butt"/>
<line x1="1112.9" y1="495.7" x2="1112.9" y2="514.4" stroke="#000" stroke-width="4" stroke-linecap="butt"/>
<text x="876.6" y="547.6" font-size="34.5" text-anchor="middle">Col-0</text>
<text transform="translate(995.4 546.6) scale(0.9750 1)" font-size="34.5" text-anchor="middle" font-style="italic">mik2-1</text>
<text transform="translate(1113.9 546.6) scale(0.9570 1)" font-size="34.5" text-anchor="middle" font-style="italic">mik2-2</text>
<text transform="translate(718.7 289) rotate(-90) scale(0.9750 1)" font-size="36.3" text-anchor="middle">Cumulative RLU (x10<tspan font-size="21.5" dy="-12.3">3</tspan><tspan dy="12.3">)</tspan></text>
<text transform="translate(1004.9 89.5) rotate(-90) scale(0.9250 1)" font-size="27.9" text-anchor="middle">&lt;0.001</text>
<text transform="translate(1122 89.5) rotate(-90) scale(0.9250 1)" font-size="27.9" text-anchor="middle">&lt;0.001</text>
<circle cx="845.9" cy="69.8" r="8.8" fill="#000"/>
<circle cx="876.6" cy="83.1" r="8.8" fill="#000"/>
<circle cx="907.2" cy="75.5" r="8.8" fill="#000"/>
<circle cx="845.9" cy="99" r="8.8" fill="#000"/>
<circle cx="876.6" cy="107.2" r="8.8" fill="#000"/>
<circle cx="876.6" cy="155.9" r="8.8" fill="#000"/>
<circle cx="876.6" cy="188.5" r="8.8" fill="#000"/>
<circle cx="861.2" cy="213.9" r="8.8" fill="#000"/>
<circle cx="892" cy="223.1" r="8.8" fill="#000"/>
<circle cx="861.2" cy="247.9" r="8.8" fill="#000"/>
<circle cx="892" cy="252.4" r="8.8" fill="#000"/>
<circle cx="861.2" cy="282.1" r="8.8" fill="#000"/>
<circle cx="892" cy="288.1" r="8.8" fill="#000"/>
<circle cx="845.9" cy="347.7" r="8.8" fill="#000"/>
<circle cx="876.6" cy="344" r="8.8" fill="#000"/>
<circle cx="907.2" cy="347.4" r="8.8" fill="#000"/>
<line x1="837" y1="207.7" x2="916.1" y2="207.7" stroke="#000" stroke-width="4" stroke-linecap="butt"/>
<line x1="876.6" y1="107.6" x2="876.6" y2="307.9" stroke="#000" stroke-width="4" stroke-linecap="butt"/>
<line x1="855.4" y1="107.6" x2="898.1" y2="107.6" stroke="#000" stroke-width="4" stroke-linecap="round"/>
<line x1="855.4" y1="307.9" x2="898.1" y2="307.9" stroke="#000" stroke-width="4" stroke-linecap="round"/>
<rect x="986.25" y="450.45" width="17.5" height="17.5" fill="#029050"/>
<rect x="959.85" y="454.35" width="17.5" height="17.5" fill="#029050"/>
<rect x="955.35" y="461.35" width="17.5" height="17.5" fill="#029050"/>
<rect x="972.95" y="470.15" width="17.5" height="17.5" fill="#029050"/>
<rect x="1016.45" y="457.25" width="17.5" height="17.5" fill="#029050"/>
<rect x="1001.25" y="456.75" width="17.5" height="17.5" fill="#029050"/>
<rect x="991.25" y="462.25" width="17.5" height="17.5" fill="#029050"/>
<rect x="966.25" y="461.25" width="17.5" height="17.5" fill="#029050"/>
<rect x="1013.25" y="462.25" width="17.5" height="17.5" fill="#029050"/>
<rect x="979.25" y="457.25" width="17.5" height="17.5" fill="#029050"/>
<rect x="998.25" y="465.75" width="17.5" height="17.5" fill="#029050"/>
<rect x="1009.25" y="453.25" width="17.5" height="17.5" fill="#029050"/>
<rect x="976.25" y="461.25" width="17.5" height="17.5" fill="#029050"/>
<rect x="986.25" y="464.75" width="17.5" height="17.5" fill="#029050"/>
<rect x="951.25" y="459.25" width="17.5" height="17.5" fill="#029050"/>
<line x1="955.2" y1="467.7" x2="1033.9" y2="467.7" stroke="#000" stroke-width="4" stroke-linecap="butt"/>
<line x1="994.8" y1="463.2" x2="994.8" y2="472.6" stroke="#000" stroke-width="4" stroke-linecap="butt"/>
<line x1="973.1" y1="463.2" x2="1016.8" y2="463.2" stroke="#000" stroke-width="4" stroke-linecap="round"/>
<line x1="973.1" y1="472.6" x2="1016.8" y2="472.6" stroke="#000" stroke-width="4" stroke-linecap="round"/>
<polygon points="1082.2,468.25 1090.95,484.75 1073.45,484.75" fill="#68b97d"/>
<polygon points="1090,458.35 1098.75,474.85 1081.25,474.85" fill="#68b97d"/>
<polygon points="1102,462.75 1110.75,479.25 1093.25,479.25" fill="#68b97d"/>
<polygon points="1113,459.75 1121.75,476.25 1104.25,476.25" fill="#68b97d"/>
<polygon points="1120,464.75 1128.75,481.25 1111.25,481.25" fill="#68b97d"/>
<polygon points="1132,461.75 1140.75,478.25 1123.25,478.25" fill="#68b97d"/>
<polygon points="1143,458.75 1151.75,475.25 1134.25,475.25" fill="#68b97d"/>
<polygon points="1097,472.25 1105.75,488.75 1088.25,488.75" fill="#68b97d"/>
<polygon points="1110,468.75 1118.75,485.25 1101.25,485.25" fill="#68b97d"/>
<polygon points="1125,467.75 1133.75,484.25 1116.25,484.25" fill="#68b97d"/>
<polygon points="1138,469.75 1146.75,486.25 1129.25,486.25" fill="#68b97d"/>
<polygon points="1083,461.75 1091.75,478.25 1074.25,478.25" fill="#68b97d"/>
<polygon points="1105,457.75 1113.75,474.25 1096.25,474.25" fill="#68b97d"/>
<polygon points="1117,470.75 1125.75,487.25 1108.25,487.25" fill="#68b97d"/>
<polygon points="1130,457.75 1138.75,474.25 1121.25,474.25" fill="#68b97d"/>
<line x1="1073.2" y1="471.8" x2="1152" y2="471.8" stroke="#000" stroke-width="4" stroke-linecap="butt"/>
<line x1="1112.9" y1="467.1" x2="1112.9" y2="476.2" stroke="#000" stroke-width="4" stroke-linecap="butt"/>
<line x1="1091.6" y1="467.1" x2="1134" y2="467.1" stroke="#000" stroke-width="4" stroke-linecap="round"/>
<line x1="1091.6" y1="476.2" x2="1134" y2="476.2" stroke="#000" stroke-width="4" stroke-linecap="round"/>
<text x="5.5" y="622.5" font-size="43" font-weight="bold">c</text>
<line x1="188.4" y1="653.5" x2="188.4" y2="1114.8" stroke="#000" stroke-width="4.4" stroke-linecap="butt"/>
<line x1="168.5" y1="1112.8" x2="547.5" y2="1112.8" stroke="#000" stroke-width="4.4" stroke-linecap="butt"/>
<text x="163.5" y="1124.3" font-size="34.5" text-anchor="end">0.00</text>
<line x1="168.5" y1="960.37" x2="188.4" y2="960.37" stroke="#000" stroke-width="4.4" stroke-linecap="butt"/>
<text x="163.5" y="971.87" font-size="34.5" text-anchor="end">0.03</text>
<line x1="168.5" y1="807.93" x2="188.4" y2="807.93" stroke="#000" stroke-width="4.4" stroke-linecap="butt"/>
<text x="163.5" y="819.43" font-size="34.5" text-anchor="end">0.06</text>
<line x1="168.5" y1="655.5" x2="188.4" y2="655.5" stroke="#000" stroke-width="4.4" stroke-linecap="butt"/>
<text x="163.5" y="667" font-size="34.5" text-anchor="end">0.09</text>
<line x1="261.9" y1="1112.8" x2="261.9" y2="1132.3" stroke="#000" stroke-width="4.4" stroke-linecap="butt"/>
<text x="261.9" y="1166.5" font-size="34.5" text-anchor="middle">0</text>
<line x1="331.6" y1="1112.8" x2="331.6" y2="1132.3" stroke="#000" stroke-width="4.4" stroke-linecap="butt"/>
<text x="331.6" y="1166.5" font-size="34.5" text-anchor="middle">5</text>
<line x1="401.3" y1="1112.8" x2="401.3" y2="1132.3" stroke="#000" stroke-width="4.4" stroke-linecap="butt"/>
<text x="401.3" y="1166.5" font-size="34.5" text-anchor="middle">10</text>
<line x1="471" y1="1112.8" x2="471" y2="1132.3" stroke="#000" stroke-width="4.4" stroke-linecap="butt"/>
<text x="471" y="1166.5" font-size="34.5" text-anchor="middle">15</text>
<line x1="540.7" y1="1112.8" x2="540.7" y2="1132.3" stroke="#000" stroke-width="4.4" stroke-linecap="butt"/>
<text x="540.7" y="1166.5" font-size="34.5" text-anchor="middle">20</text>
<text x="366.7" y="1201.5" font-size="34.5" text-anchor="middle">Time (min)</text>
<text transform="translate(77.8 874) rotate(-90)" font-size="34.8" text-anchor="middle">L/L<tspan dy="13.7">max</tspan></text>
<circle cx="192.9" cy="1097.2" r="7.2" fill="#000"/>
<circle cx="199.87" cy="1096.6" r="7.2" fill="#000"/>
<circle cx="206.84" cy="1097.2" r="7.2" fill="#000"/>
<circle cx="213.81" cy="1097.2" r="7.2" fill="#000"/>
<circle cx="220.78" cy="1096.6" r="7.2" fill="#000"/>
<circle cx="227.75" cy="1097.2" r="7.2" fill="#000"/>
<circle cx="234.72" cy="1097.2" r="7.2" fill="#000"/>
<circle cx="241.69" cy="1096.6" r="7.2" fill="#000"/>
<circle cx="248.66" cy="1097.2" r="7.2" fill="#000"/>
<circle cx="255.63" cy="1097.2" r="7.2" fill="#000"/>
<line x1="262.3" y1="1039.2" x2="262.3" y2="1061.6" stroke="#000" stroke-width="2.2" stroke-linecap="butt"/>
<line x1="256.45" y1="1039.2" x2="268.15" y2="1039.2" stroke="#000" stroke-width="2.2" stroke-linecap="butt"/>
<line x1="256.45" y1="1061.6" x2="268.15" y2="1061.6" stroke="#000" stroke-width="2.2" stroke-linecap="butt"/>
<circle cx="262.3" cy="1050.4" r="7.3" fill="#000"/>
<line x1="269.2" y1="768.8" x2="269.2" y2="865.8" stroke="#000" stroke-width="2.2" stroke-linecap="butt"/>
<line x1="263.35" y1="768.8" x2="275.05" y2="768.8" stroke="#000" stroke-width="2.2" stroke-linecap="butt"/>
<line x1="263.35" y1="865.8" x2="275.05" y2="865.8" stroke="#000" stroke-width="2.2" stroke-linecap="butt"/>
<line x1="276.4" y1="697" x2="276.4" y2="778.6" stroke="#000" stroke-width="2.2" stroke-linecap="butt"/>
<line x1="270.55" y1="697" x2="282.25" y2="697" stroke="#000" stroke-width="2.2" stroke-linecap="butt"/>
<line x1="270.55" y1="778.6" x2="282.25" y2="778.6" stroke="#000" stroke-width="2.2" stroke-linecap="butt"/>
<line x1="283.2" y1="748.9" x2="283.2" y2="830.1" stroke="#000" stroke-width="2.2" stroke-linecap="butt"/>
<line x1="277.35" y1="748.9" x2="289.05" y2="748.9" stroke="#000" stroke-width="2.2" stroke-linecap="butt"/>
<line x1="277.35" y1="830.1" x2="289.05" y2="830.1" stroke="#000" stroke-width="2.2" stroke-linecap="butt"/>
<line x1="289.8" y1="800.3" x2="289.8" y2="868.3" stroke="#000" stroke-width="2.2" stroke-linecap="butt"/>
<line x1="283.95" y1="800.3" x2="295.65" y2="800.3" stroke="#000" stroke-width="2.2" stroke-linecap="butt"/>
<line x1="283.95" y1="868.3" x2="295.65" y2="868.3" stroke="#000" stroke-width="2.2" stroke-linecap="butt"/>
<line x1="297" y1="800.3" x2="297" y2="868.3" stroke="#000" stroke-width="2.2" stroke-linecap="butt"/>
<line x1="291.15" y1="800.3" x2="302.85" y2="800.3" stroke="#000" stroke-width="2.2" stroke-linecap="butt"/>
<line x1="291.15" y1="868.3" x2="302.85" y2="868.3" stroke="#000" stroke-width="2.2" stroke-linecap="butt"/>
<line x1="303.8" y1="824.2" x2="303.8" y2="891.2" stroke="#000" stroke-width="2.2" stroke-linecap="butt"/>
<line x1="297.95" y1="824.2" x2="309.65" y2="824.2" stroke="#000" stroke-width="2.2" stroke-linecap="butt"/>
<line x1="297.95" y1="891.2" x2="309.65" y2="891.2" stroke="#000" stroke-width="2.2" stroke-linecap="butt"/>
<line x1="310.6" y1="845.9" x2="310.6" y2="905.9" stroke="#000" stroke-width="2.2" stroke-linecap="butt"/>
<line x1="304.75" y1="845.9" x2="316.45" y2="845.9" stroke="#000" stroke-width="2.2" stroke-linecap="butt"/>
<line x1="304.75" y1="905.9" x2="316.45" y2="905.9" stroke="#000" stroke-width="2.2" stroke-linecap="butt"/>
<line x1="318" y1="855.3" x2="318" y2="911.3" stroke="#000" stroke-width="2.2" stroke-linecap="butt"/>
<line x1="312.15" y1="855.3" x2="323.85" y2="855.3" stroke="#000" stroke-width="2.2" stroke-linecap="butt"/>
<line x1="312.15" y1="911.3" x2="323.85" y2="911.3" stroke="#000" stroke-width="2.2" stroke-linecap="butt"/>
<line x1="325" y1="878.4" x2="325" y2="924.4" stroke="#000" stroke-width="2.2" stroke-linecap="butt"/>
<line x1="319.15" y1="878.4" x2="330.85" y2="878.4" stroke="#000" stroke-width="2.2" stroke-linecap="butt"/>
<line x1="319.15" y1="924.4" x2="330.85" y2="924.4" stroke="#000" stroke-width="2.2" stroke-linecap="butt"/>
<line x1="331.8" y1="904.8" x2="331.8" y2="948.8" stroke="#000" stroke-width="2.2" stroke-linecap="butt"/>
<line x1="325.95" y1="904.8" x2="337.65" y2="904.8" stroke="#000" stroke-width="2.2" stroke-linecap="butt"/>
<line x1="325.95" y1="948.8" x2="337.65" y2="948.8" stroke="#000" stroke-width="2.2" stroke-linecap="butt"/>
<line x1="338.8" y1="914.2" x2="338.8" y2="954.2" stroke="#000" stroke-width="2.2" stroke-linecap="butt"/>
<line x1="332.95" y1="914.2" x2="344.65" y2="914.2" stroke="#000" stroke-width="2.2" stroke-linecap="butt"/>
<line x1="332.95" y1="954.2" x2="344.65" y2="954.2" stroke="#000" stroke-width="2.2" stroke-linecap="butt"/>
<line x1="345.6" y1="943.7" x2="345.6" y2="977.7" stroke="#000" stroke-width="2.2" stroke-linecap="butt"/>
<line x1="339.75" y1="943.7" x2="351.45" y2="943.7" stroke="#000" stroke-width="2.2" stroke-linecap="butt"/>
<line x1="339.75" y1="977.7" x2="351.45" y2="977.7" stroke="#000" stroke-width="2.2" stroke-linecap="butt"/>
<line x1="353" y1="956.3" x2="353" y2="986.3" stroke="#000" stroke-width="2.2" stroke-linecap="butt"/>
<line x1="347.15" y1="956.3" x2="358.85" y2="956.3" stroke="#000" stroke-width="2.2" stroke-linecap="butt"/>
<line x1="347.15" y1="986.3" x2="358.85" y2="986.3" stroke="#000" stroke-width="2.2" stroke-linecap="butt"/>
<line x1="360" y1="967.9" x2="360" y2="993.9" stroke="#000" stroke-width="2.2" stroke-linecap="butt"/>
<line x1="354.15" y1="967.9" x2="365.85" y2="967.9" stroke="#000" stroke-width="2.2" stroke-linecap="butt"/>
<line x1="354.15" y1="993.9" x2="365.85" y2="993.9" stroke="#000" stroke-width="2.2" stroke-linecap="butt"/>
<line x1="366.8" y1="995.3" x2="366.8" y2="1017.3" stroke="#000" stroke-width="2.2" stroke-linecap="butt"/>
<line x1="360.95" y1="995.3" x2="372.65" y2="995.3" stroke="#000" stroke-width="2.2" stroke-linecap="butt"/>
<line x1="360.95" y1="1017.3" x2="372.65" y2="1017.3" stroke="#000" stroke-width="2.2" stroke-linecap="butt"/>
<line x1="373.2" y1="1002.7" x2="373.2" y2="1022.7" stroke="#000" stroke-width="2.2" stroke-linecap="butt"/>
<line x1="367.35" y1="1002.7" x2="379.05" y2="1002.7" stroke="#000" stroke-width="2.2" stroke-linecap="butt"/>
<line x1="367.35" y1="1022.7" x2="379.05" y2="1022.7" stroke="#000" stroke-width="2.2" stroke-linecap="butt"/>
<line x1="380.6" y1="1011.1" x2="380.6" y2="1029.1" stroke="#000" stroke-width="2.2" stroke-linecap="butt"/>
<line x1="374.75" y1="1011.1" x2="386.45" y2="1011.1" stroke="#000" stroke-width="2.2" stroke-linecap="butt"/>
<line x1="374.75" y1="1029.1" x2="386.45" y2="1029.1" stroke="#000" stroke-width="2.2" stroke-linecap="butt"/>
<line x1="387" y1="1022.2" x2="387" y2="1039.2" stroke="#000" stroke-width="2.2" stroke-linecap="butt"/>
<line x1="381.15" y1="1022.2" x2="392.85" y2="1022.2" stroke="#000" stroke-width="2.2" stroke-linecap="butt"/>
<line x1="381.15" y1="1039.2" x2="392.85" y2="1039.2" stroke="#000" stroke-width="2.2" stroke-linecap="butt"/>
<line x1="394.4" y1="1030.2" x2="394.4" y2="1046.2" stroke="#000" stroke-width="2.2" stroke-linecap="butt"/>
<line x1="388.55" y1="1030.2" x2="400.25" y2="1030.2" stroke="#000" stroke-width="2.2" stroke-linecap="butt"/>
<line x1="388.55" y1="1046.2" x2="400.25" y2="1046.2" stroke="#000" stroke-width="2.2" stroke-linecap="butt"/>
<line x1="401.4" y1="1037" x2="401.4" y2="1052" stroke="#000" stroke-width="2.2" stroke-linecap="butt"/>
<line x1="395.55" y1="1037" x2="407.25" y2="1037" stroke="#000" stroke-width="2.2" stroke-linecap="butt"/>
<line x1="395.55" y1="1052" x2="407.25" y2="1052" stroke="#000" stroke-width="2.2" stroke-linecap="butt"/>
<line x1="408.2" y1="1040.7" x2="408.2" y2="1054.7" stroke="#000" stroke-width="2.2" stroke-linecap="butt"/>
<line x1="402.35" y1="1040.7" x2="414.05" y2="1040.7" stroke="#000" stroke-width="2.2" stroke-linecap="butt"/>
<line x1="402.35" y1="1054.7" x2="414.05" y2="1054.7" stroke="#000" stroke-width="2.2" stroke-linecap="butt"/>
<line x1="415.6" y1="1042.8" x2="415.6" y2="1054.8" stroke="#000" stroke-width="2.2" stroke-linecap="butt"/>
<line x1="409.75" y1="1042.8" x2="421.45" y2="1042.8" stroke="#000" stroke-width="2.2" stroke-linecap="butt"/>
<line x1="409.75" y1="1054.8" x2="421.45" y2="1054.8" stroke="#000" stroke-width="2.2" stroke-linecap="butt"/>
<line x1="422" y1="1051.2" x2="422" y2="1061.2" stroke="#000" stroke-width="2.2" stroke-linecap="butt"/>
<line x1="416.15" y1="1051.2" x2="427.85" y2="1051.2" stroke="#000" stroke-width="2.2" stroke-linecap="butt"/>
<line x1="416.15" y1="1061.2" x2="427.85" y2="1061.2" stroke="#000" stroke-width="2.2" stroke-linecap="butt"/>
<line x1="429.4" y1="1050.1" x2="429.4" y2="1060.1" stroke="#000" stroke-width="2.2" stroke-linecap="butt"/>
<line x1="423.55" y1="1050.1" x2="435.25" y2="1050.1" stroke="#000" stroke-width="2.2" stroke-linecap="butt"/>
<line x1="423.55" y1="1060.1" x2="435.25" y2="1060.1" stroke="#000" stroke-width="2.2" stroke-linecap="butt"/>
<line x1="436.8" y1="1054.3" x2="436.8" y2="1062.3" stroke="#000" stroke-width="2.2" stroke-linecap="butt"/>
<line x1="430.95" y1="1054.3" x2="442.65" y2="1054.3" stroke="#000" stroke-width="2.2" stroke-linecap="butt"/>
<line x1="430.95" y1="1062.3" x2="442.65" y2="1062.3" stroke="#000" stroke-width="2.2" stroke-linecap="butt"/>
<line x1="444.2" y1="1056.4" x2="444.2" y2="1064.4" stroke="#000" stroke-width="2.2" stroke-linecap="butt"/>
<line x1="438.35" y1="1056.4" x2="450.05" y2="1056.4" stroke="#000" stroke-width="2.2" stroke-linecap="butt"/>
<line x1="438.35" y1="1064.4" x2="450.05" y2="1064.4" stroke="#000" stroke-width="2.2" stroke-linecap="butt"/>
<line x1="450.6" y1="1063.8" x2="450.6" y2="1069.8" stroke="#000" stroke-width="2.2" stroke-linecap="butt"/>
<line x1="444.75" y1="1063.8" x2="456.45" y2="1063.8" stroke="#000" stroke-width="2.2" stroke-linecap="butt"/>
<line x1="444.75" y1="1069.8" x2="456.45" y2="1069.8" stroke="#000" stroke-width="2.2" stroke-linecap="butt"/>
<line x1="458" y1="1067" x2="458" y2="1073" stroke="#000" stroke-width="2.2" stroke-linecap="butt"/>
<line x1="452.15" y1="1067" x2="463.85" y2="1067" stroke="#000" stroke-width="2.2" stroke-linecap="butt"/>
<line x1="452.15" y1="1073" x2="463.85" y2="1073" stroke="#000" stroke-width="2.2" stroke-linecap="butt"/>
<line x1="464.4" y1="1068" x2="464.4" y2="1074" stroke="#000" stroke-width="2.2" stroke-linecap="butt"/>
<line x1="458.55" y1="1068" x2="470.25" y2="1068" stroke="#000" stroke-width="2.2" stroke-linecap="butt"/>
<line x1="458.55" y1="1074" x2="470.25" y2="1074" stroke="#000" stroke-width="2.2" stroke-linecap="butt"/>
<line x1="471.4" y1="1065.9" x2="471.4" y2="1071.9" stroke="#000" stroke-width="2.2" stroke-linecap="butt"/>
<line x1="465.55" y1="1065.9" x2="477.25" y2="1065.9" stroke="#000" stroke-width="2.2" stroke-linecap="butt"/>
<line x1="465.55" y1="1071.9" x2="477.25" y2="1071.9" stroke="#000" stroke-width="2.2" stroke-linecap="butt"/>
<line x1="478.2" y1="1070.1" x2="478.2" y2="1076.1" stroke="#000" stroke-width="2.2" stroke-linecap="butt"/>
<line x1="472.35" y1="1070.1" x2="484.05" y2="1070.1" stroke="#000" stroke-width="2.2" stroke-linecap="butt"/>
<line x1="472.35" y1="1076.1" x2="484.05" y2="1076.1" stroke="#000" stroke-width="2.2" stroke-linecap="butt"/>
<line x1="485.6" y1="1071.2" x2="485.6" y2="1077.2" stroke="#000" stroke-width="2.2" stroke-linecap="butt"/>
<line x1="479.75" y1="1071.2" x2="491.45" y2="1071.2" stroke="#000" stroke-width="2.2" stroke-linecap="butt"/>
<line x1="479.75" y1="1077.2" x2="491.45" y2="1077.2" stroke="#000" stroke-width="2.2" stroke-linecap="butt"/>
<line x1="492" y1="1072.3" x2="492" y2="1078.3" stroke="#000" stroke-width="2.2" stroke-linecap="butt"/>
<line x1="486.15" y1="1072.3" x2="497.85" y2="1072.3" stroke="#000" stroke-width="2.2" stroke-linecap="butt"/>
<line x1="486.15" y1="1078.3" x2="497.85" y2="1078.3" stroke="#000" stroke-width="2.2" stroke-linecap="butt"/>
<line x1="499.4" y1="1073.3" x2="499.4" y2="1079.3" stroke="#000" stroke-width="2.2" stroke-linecap="butt"/>
<line x1="493.55" y1="1073.3" x2="505.25" y2="1073.3" stroke="#000" stroke-width="2.2" stroke-linecap="butt"/>
<line x1="493.55" y1="1079.3" x2="505.25" y2="1079.3" stroke="#000" stroke-width="2.2" stroke-linecap="butt"/>
<line x1="506.8" y1="1075.4" x2="506.8" y2="1081.4" stroke="#000" stroke-width="2.2" stroke-linecap="butt"/>
<line x1="500.95" y1="1075.4" x2="512.65" y2="1075.4" stroke="#000" stroke-width="2.2" stroke-linecap="butt"/>
<line x1="500.95" y1="1081.4" x2="512.65" y2="1081.4" stroke="#000" stroke-width="2.2" stroke-linecap="butt"/>
<line x1="513.2" y1="1076.5" x2="513.2" y2="1082.5" stroke="#000" stroke-width="2.2" stroke-linecap="butt"/>
<line x1="507.35" y1="1076.5" x2="519.05" y2="1076.5" stroke="#000" stroke-width="2.2" stroke-linecap="butt"/>
<line x1="507.35" y1="1082.5" x2="519.05" y2="1082.5" stroke="#000" stroke-width="2.2" stroke-linecap="butt"/>
<line x1="520.6" y1="1078.6" x2="520.6" y2="1084.6" stroke="#000" stroke-width="2.2" stroke-linecap="butt"/>
<line x1="514.75" y1="1078.6" x2="526.45" y2="1078.6" stroke="#000" stroke-width="2.2" stroke-linecap="butt"/>
<line x1="514.75" y1="1084.6" x2="526.45" y2="1084.6" stroke="#000" stroke-width="2.2" stroke-linecap="butt"/>
<line x1="526.5" y1="1073.3" x2="526.5" y2="1079.3" stroke="#000" stroke-width="2.2" stroke-linecap="butt"/>
<line x1="520.65" y1="1073.3" x2="532.35" y2="1073.3" stroke="#000" stroke-width="2.2" stroke-linecap="butt"/>
<line x1="520.65" y1="1079.3" x2="532.35" y2="1079.3" stroke="#000" stroke-width="2.2" stroke-linecap="butt"/>
<line x1="533.3" y1="1079.7" x2="533.3" y2="1085.7" stroke="#000" stroke-width="2.2" stroke-linecap="butt"/>
<line x1="527.45" y1="1079.7" x2="539.15" y2="1079.7" stroke="#000" stroke-width="2.2" stroke-linecap="butt"/>
<line x1="527.45" y1="1085.7" x2="539.15" y2="1085.7" stroke="#000" stroke-width="2.2" stroke-linecap="butt"/>
<line x1="540.7" y1="1078.6" x2="540.7" y2="1084.6" stroke="#000" stroke-width="2.2" stroke-linecap="butt"/>
<line x1="534.85" y1="1078.6" x2="546.55" y2="1078.6" stroke="#000" stroke-width="2.2" stroke-linecap="butt"/>
<line x1="534.85" y1="1084.6" x2="546.55" y2="1084.6" stroke="#000" stroke-width="2.2" stroke-linecap="butt"/>
<circle cx="269.2" cy="817.3" r="7.2" fill="#000"/>
<circle cx="276.4" cy="737.8" r="7.2" fill="#000"/>
<circle cx="283.2" cy="789.5" r="7.2" fill="#000"/>
<circle cx="289.8" cy="834.3" r="7.2" fill="#000"/>
<circle cx="297" cy="834.3" r="7.2" fill="#000"/>
<circle cx="303.8" cy="857.7" r="7.2" fill="#000"/>
<circle cx="310.6" cy="875.9" r="7.2" fill="#000"/>
<circle cx="318" cy="883.3" r="7.2" fill="#000"/>
<circle cx="325" cy="901.4" r="7.2" fill="#000"/>
<circle cx="331.8" cy="926.8" r="7.2" fill="#000"/>
<circle cx="338.8" cy="934.2" r="7.2" fill="#000"/>
<circle cx="345.6" cy="960.7" r="7.2" fill="#000"/>
<circle cx="353" cy="971.3" r="7.2" fill="#000"/>
<circle cx="360" cy="980.9" r="7.2" fill="#000"/>
<circle cx="366.8" cy="1006.3" r="7.2" fill="#000"/>
<circle cx="373.2" cy="1012.7" r="7.2" fill="#000"/>
<circle cx="380.6" cy="1020.1" r="7.2" fill="#000"/>
<circle cx="387" cy="1030.7" r="7.2" fill="#000"/>
<circle cx="394.4" cy="1038.2" r="7.2" fill="#000"/>
<circle cx="401.4" cy="1044.5" r="7.2" fill="#000"/>
<circle cx="408.2" cy="1047.7" r="7.2" fill="#000"/>
<circle cx="415.6" cy="1048.8" r="7.2" fill="#000"/>
<circle cx="422" cy="1056.2" r="7.2" fill="#000"/>
<circle cx="429.4" cy="1055.1" r="7.2" fill="#000"/>
<circle cx="436.8" cy="1058.3" r="7.2" fill="#000"/>
<circle cx="444.2" cy="1060.4" r="7.2" fill="#000"/>
<circle cx="450.6" cy="1066.8" r="7.2" fill="#000"/>
<circle cx="458" cy="1070" r="7.2" fill="#000"/>
<circle cx="464.4" cy="1071" r="7.2" fill="#000"/>
<circle cx="471.4" cy="1068.9" r="7.2" fill="#000"/>
<circle cx="478.2" cy="1073.1" r="7.2" fill="#000"/>
<circle cx="485.6" cy="1074.2" r="7.2" fill="#000"/>
<circle cx="492" cy="1075.3" r="7.2" fill="#000"/>
<circle cx="499.4" cy="1076.3" r="7.2" fill="#000"/>
<circle cx="506.8" cy="1078.4" r="7.2" fill="#000"/>
<circle cx="513.2" cy="1079.5" r="7.2" fill="#000"/>
<circle cx="520.6" cy="1081.6" r="7.2" fill="#000"/>
<circle cx="526.5" cy="1076.3" r="7.2" fill="#000"/>
<circle cx="533.3" cy="1082.7" r="7.2" fill="#000"/>
<circle cx="540.7" cy="1081.6" r="7.2" fill="#000"/>
<rect x="185.9" y="1098.61" width="14" height="14" fill="#029050"/>
<rect x="192.87" y="1098.61" width="14" height="14" fill="#029050"/>
<rect x="199.84" y="1098.71" width="14" height="14" fill="#029050"/>
<rect x="206.81" y="1098.88" width="14" height="14" fill="#029050"/>
<rect x="213.78" y="1099.08" width="14" height="14" fill="#029050"/>
<rect x="220.75" y="1099.26" width="14" height="14" fill="#029050"/>
<rect x="227.72" y="1099.37" width="14" height="14" fill="#029050"/>
<rect x="234.69" y="1099.4" width="14" height="14" fill="#029050"/>
<rect x="241.66" y="1099.33" width="14" height="14" fill="#029050"/>
<rect x="248.63" y="1099.17" width="14" height="14" fill="#029050"/>
<rect x="255.6" y="1098.98" width="14" height="14" fill="#029050"/>
<rect x="262.57" y="1098.79" width="14" height="14" fill="#029050"/>
<rect x="269.54" y="1098.65" width="14" height="14" fill="#029050"/>
<rect x="276.51" y="1098.6" width="14" height="14" fill="#029050"/>
<rect x="283.48" y="1098.65" width="14" height="14" fill="#029050"/>
<rect x="290.45" y="1098.78" width="14" height="14" fill="#029050"/>
<rect x="297.42" y="1098.96" width="14" height="14" fill="#029050"/>
<rect x="304.39" y="1099.16" width="14" height="14" fill="#029050"/>
<rect x="311.36" y="1099.32" width="14" height="14" fill="#029050"/>
<rect x="318.33" y="1099.39" width="14" height="14" fill="#029050"/>
<rect x="325.3" y="1099.38" width="14" height="14" fill="#029050"/>
<rect x="332.27" y="1099.27" width="14" height="14" fill="#029050"/>
<rect x="339.24" y="1099.09" width="14" height="14" fill="#029050"/>
<rect x="346.21" y="1098.89" width="14" height="14" fill="#029050"/>
<rect x="353.18" y="1098.72" width="14" height="14" fill="#029050"/>
<rect x="360.15" y="1098.62" width="14" height="14" fill="#029050"/>
<rect x="367.12" y="1098.61" width="14" height="14" fill="#029050"/>
<rect x="374.09" y="1098.69" width="14" height="14" fill="#029050"/>
<rect x="381.06" y="1098.85" width="14" height="14" fill="#029050"/>
<rect x="388.03" y="1099.05" width="14" height="14" fill="#029050"/>
<rect x="395" y="1099.23" width="14" height="14" fill="#029050"/>
<rect x="401.97" y="1099.36" width="14" height="14" fill="#029050"/>
<rect x="408.94" y="1099.4" width="14" height="14" fill="#029050"/>
<rect x="415.91" y="1099.34" width="14" height="14" fill="#029050"/>
<rect x="422.88" y="1099.2" width="14" height="14" fill="#029050"/>
<rect x="429.85" y="1099.01" width="14" height="14" fill="#029050"/>
<rect x="436.82" y="1098.81" width="14" height="14" fill="#029050"/>
<rect x="443.79" y="1098.67" width="14" height="14" fill="#029050"/>
<rect x="450.76" y="1098.6" width="14" height="14" fill="#029050"/>
<rect x="457.73" y="1098.63" width="14" height="14" fill="#029050"/>
<rect x="464.7" y="1098.76" width="14" height="14" fill="#029050"/>
<rect x="471.67" y="1098.94" width="14" height="14" fill="#029050"/>
<rect x="478.64" y="1099.13" width="14" height="14" fill="#029050"/>
<rect x="485.61" y="1099.3" width="14" height="14" fill="#029050"/>
<rect x="492.58" y="1099.39" width="14" height="14" fill="#029050"/>
<rect x="499.55" y="1099.39" width="14" height="14" fill="#029050"/>
<rect x="506.52" y="1099.29" width="14" height="14" fill="#029050"/>
<rect x="513.49" y="1099.12" width="14" height="14" fill="#029050"/>
<rect x="520.46" y="1098.92" width="14" height="14" fill="#029050"/>
<rect x="527.43" y="1098.74" width="14" height="14" fill="#029050"/>
<rect x="534.4" y="1098.63" width="14" height="14" fill="#029050"/>
<circle cx="389.5" cy="841.4" r="7.3" fill="#000"/>
<rect x="382.7" y="899.1" width="14.4" height="14.4" fill="#029050"/>
<text x="412.8" y="853.7" font-size="34.8">Col-0<tspan font-size="20.5" dy="-13">AEQ</tspan></text>
<text x="415.2" y="917.3" font-size="34.8" font-style="italic">mik2-1<tspan font-size="20.5" dy="-13">AEQ</tspan></text>
<line x1="601.5" y1="841.8" x2="607.5" y2="841.8" stroke="#000" stroke-width="1.6" stroke-linecap="butt"/>
<text x="628" y="620.5" font-size="43" font-weight="bold">d</text>
<line x1="773" y1="654.3" x2="773" y2="973.3" stroke="#000" stroke-width="4" stroke-linecap="butt"/>
<line x1="754.5" y1="971.3" x2="1186" y2="971.3" stroke="#000" stroke-width="4" stroke-linecap="butt"/>
<text x="751.5" y="982.3" font-size="33.5" text-anchor="end">0.00</text>
<line x1="754.5" y1="866.3" x2="773" y2="866.3" stroke="#000" stroke-width="4" stroke-linecap="butt"/>
<text x="751.5" y="877.3" font-size="33.5" text-anchor="end">0.05</text>
<line x1="754.5" y1="761.3" x2="773" y2="761.3" stroke="#000" stroke-width="4" stroke-linecap="butt"/>
<text x="751.5" y="772.3" font-size="33.5" text-anchor="end">0.10</text>
<line x1="754.5" y1="656.3" x2="773" y2="656.3" stroke="#000" stroke-width="4" stroke-linecap="butt"/>
<text x="751.5" y="667.3" font-size="33.5" text-anchor="end">0.15</text>
<line x1="836.2" y1="971.3" x2="836.2" y2="984.4" stroke="#000" stroke-width="4" stroke-linecap="butt"/>
<line x1="931.6" y1="971.3" x2="931.6" y2="984.4" stroke="#000" stroke-width="4" stroke-linecap="butt"/>
<line x1="1026.8" y1="971.3" x2="1026.8" y2="984.4" stroke="#000" stroke-width="4" stroke-linecap="butt"/>
<line x1="1122.5" y1="971.3" x2="1122.5" y2="984.4" stroke="#000" stroke-width="4" stroke-linecap="butt"/>
<text transform="translate(847.3 1111.5) rotate(-90) scale(0.9620 1)" font-size="34.5">Col-0<tspan font-size="20.5" dy="-13.5">AEQ</tspan></text>
<text transform="translate(942.5 1131.5) rotate(-90) scale(0.9480 1)" font-size="34.5" font-style="italic">mik2-1<tspan font-size="20.5" dy="-13.5" font-style="normal">AEQ</tspan></text>
<text transform="translate(1038 1111.5) rotate(-90) scale(0.9620 1)" font-size="34.5">Col-0<tspan font-size="20.5" dy="-13.5">AEQ</tspan></text>
<text transform="translate(1133.5 1131.5) rotate(-90) scale(0.9480 1)" font-size="34.5" font-style="italic">mik2-1<tspan font-size="20.5" dy="-13.5" font-style="normal">AEQ</tspan></text>
<line x1="804.7" y1="1161.5" x2="956" y2="1161.5" stroke="#000" stroke-width="4.2" stroke-linecap="round"/>
<line x1="999.5" y1="1161.5" x2="1150.5" y2="1161.5" stroke="#000" stroke-width="4.2" stroke-linecap="round"/>
<text x="877.3" y="1201.1" font-size="33.5" text-anchor="middle">mock</text>
<text transform="translate(1077.4 1201.1) scale(0.9760 1)" font-size="33.5" text-anchor="middle">SCOOP12</text>
<text transform="translate(664.1 810) rotate(-90) scale(0.9700 1)" font-size="33.5" text-anchor="middle">Max L/L<tspan font-size="25" dy="12.8">max</tspan></text>
<text transform="translate(943 637.8) rotate(-90) scale(0.9850 1)" font-size="27.5" text-anchor="middle">0.979</text>
<text transform="translate(1038.5 630.9) rotate(-90) scale(0.9480 1)" font-size="27.5" text-anchor="middle">&lt;0.001</text>
<text transform="translate(1133.5 638.9) rotate(-90) scale(0.9360 1)" font-size="27.5" text-anchor="middle">0.981</text>
<circle cx="1026.8" cy="688.1" r="6.8" fill="#000"/>
<circle cx="1026.8" cy="716.3" r="6.8" fill="#000"/>
<circle cx="1026.8" cy="737.5" r="6.8" fill="#000"/>
<circle cx="1026.8" cy="789.2" r="6.8" fill="#000"/>
<circle cx="1001.9" cy="817.4" r="6.8" fill="#000"/>
<circle cx="1052.2" cy="811.9" r="6.8" fill="#000"/>
<circle cx="1052.2" cy="825.5" r="6.8" fill="#000"/>
<circle cx="1026.8" cy="836" r="6.8" fill="#000"/>
<circle cx="1001.9" cy="860.1" r="6.8" fill="#000"/>
<circle cx="1052.2" cy="862.1" r="6.8" fill="#000"/>
<circle cx="1026.8" cy="871.6" r="6.8" fill="#000"/>
<circle cx="1026.8" cy="895.7" r="6.8" fill="#000"/>
<line x1="995.2" y1="809.2" x2="1058.7" y2="809.2" stroke="#000" stroke-width="4.4" stroke-linecap="butt"/>
<line x1="1026.8" y1="744.2" x2="1026.8" y2="874.1" stroke="#000" stroke-width="2.6" stroke-linecap="butt"/>
<line x1="1018.1" y1="744.2" x2="1035.7" y2="744.2" stroke="#000" stroke-width="2.6" stroke-linecap="round"/>
<line x1="1018.1" y1="874.1" x2="1035.7" y2="874.1" stroke="#000" stroke-width="2.6" stroke-linecap="round"/>
<circle cx="836.2" cy="949.4" r="6.6" fill="#000"/>
<circle cx="815.6" cy="956.3" r="6.6" fill="#000"/>
<circle cx="825.4" cy="957.7" r="6.6" fill="#000"/>
<circle cx="848.2" cy="961.9" r="6.6" fill="#000"/>
<circle cx="861.4" cy="961.2" r="6.6" fill="#000"/>
<circle cx="809.4" cy="963.3" r="6.6" fill="#000"/>
<circle cx="820" cy="964" r="6.6" fill="#000"/>
<circle cx="830" cy="964.5" r="6.6" fill="#000"/>
<circle cx="840" cy="963" r="6.6" fill="#000"/>
<circle cx="852" cy="965" r="6.6" fill="#000"/>
<circle cx="836" cy="962" r="6.6" fill="#000"/>
<line x1="808" y1="965.5" x2="864" y2="965.5" stroke="#000" stroke-width="3" stroke-linecap="butt"/>
<rect x="900.85" y="956.75" width="13.5" height="13.5" fill="#029050"/>
<rect x="909.85" y="953.75" width="13.5" height="13.5" fill="#029050"/>
<rect x="919.85" y="954.75" width="13.5" height="13.5" fill="#029050"/>
<rect x="929.85" y="957.25" width="13.5" height="13.5" fill="#029050"/>
<rect x="939.85" y="955.75" width="13.5" height="13.5" fill="#029050"/>
<rect x="948.85" y="956.25" width="13.5" height="13.5" fill="#029050"/>
<rect x="904.85" y="961.75" width="13.5" height="13.5" fill="#029050"/>
<rect x="915.85" y="962.25" width="13.5" height="13.5" fill="#029050"/>
<rect x="927.85" y="961.75" width="13.5" height="13.5" fill="#029050"/>
<rect x="937.85" y="962.75" width="13.5" height="13.5" fill="#029050"/>
<rect x="946.85" y="961.55" width="13.5" height="13.5" fill="#029050"/>
<rect x="924.85" y="959.75" width="13.5" height="13.5" fill="#029050"/>
<rect x="911.85" y="958.25" width="13.5" height="13.5" fill="#029050"/>
<rect x="934.85" y="958.75" width="13.5" height="13.5" fill="#029050"/>
<line x1="900.1" y1="966.7" x2="963.1" y2="966.7" stroke="#000" stroke-width="4.2" stroke-linecap="butt"/>
<line x1="920.6" y1="966.7" x2="942.6" y2="966.7" stroke="#000" stroke-width="6" stroke-linecap="butt"/>
<rect x="1091.75" y="956.75" width="13.5" height="13.5" fill="#029050"/>
<rect x="1100.75" y="953.75" width="13.5" height="13.5" fill="#029050"/>
<rect x="1110.75" y="954.75" width="13.5" height="13.5" fill="#029050"/>
<rect x="1120.75" y="957.25" width="13.5" height="13.5" fill="#029050"/>
<rect x="1130.75" y="955.75" width="13.5" height="13.5" fill="#029050"/>
<rect x="1139.75" y="956.25" width="13.5" height="13.5" fill="#029050"/>
<rect x="1095.75" y="961.75" width="13.5" height="13.5" fill="#029050"/>
<rect x="1106.75" y="962.25" width="13.5" height="13.5" fill="#029050"/>
<rect x="1118.75" y="961.75" width="13.5" height="13.5" fill="#029050"/>
<rect x="1128.75" y="962.75" width="13.5" height="13.5" fill="#029050"/>
<rect x="1137.75" y="961.55" width="13.5" height="13.5" fill="#029050"/>
<rect x="1115.75" y="959.75" width="13.5" height="13.5" fill="#029050"/>
<rect x="1102.75" y="958.25" width="13.5" height="13.5" fill="#029050"/>
<rect x="1125.75" y="958.75" width="13.5" height="13.5" fill="#029050"/>
<line x1="1091" y1="966.7" x2="1154" y2="966.7" stroke="#000" stroke-width="4.2" stroke-linecap="butt"/>
<line x1="1111.5" y1="966.7" x2="1133.5" y2="966.7" stroke="#000" stroke-width="6" stroke-linecap="butt"/>
<defs>
<filter id="b1" x="-50%" y="-50%" width="200%" height="200%"><feGaussianBlur stdDeviation="1.2"/></filter>
<filter id="b2" x="-50%" y="-50%" width="200%" height="200%"><feGaussianBlur stdDeviation="2"/></filter>
<filter id="b3" x="-50%" y="-50%" width="200%" height="200%"><feGaussianBlur stdDeviation="3.2"/></filter>
<filter id="b5" x="-50%" y="-50%" width="200%" height="200%"><feGaussianBlur stdDeviation="5"/></filter>
<filter id="b8" x="-50%" y="-50%" width="200%" height="200%"><feGaussianBlur stdDeviation="8"/></filter>
<clipPath id="cb1"><rect x="96" y="1438.5" width="480.2" height="163.3"/></clipPath>
<clipPath id="cb2"><rect x="96" y="1660.6" width="480.2" height="89.2"/></clipPath>
<linearGradient id="gcbb" x1="0" y1="0" x2="0" y2="1">
<stop offset="0" stop-color="#6f8fae"/><stop offset="1" stop-color="#6a8db0"/></linearGradient>
</defs>
<text x="54.5" y="1282" font-size="43" font-weight="bold">e</text>
<text x="217.4" y="1308.1" font-size="34" text-anchor="middle">mock</text>
<text x="451.6" y="1308.1" font-size="33.5" text-anchor="middle">SCOOP12</text>
<line x1="121" y1="1317.5" x2="324.1" y2="1317.5" stroke="#000" stroke-width="4.6" stroke-linecap="butt"/>
<line x1="358" y1="1317.5" x2="560.8" y2="1317.5" stroke="#000" stroke-width="4.6" stroke-linecap="butt"/>
<text transform="translate(145.5 1424.3) rotate(-90)" font-size="34">Col-0</text>
<text transform="translate(214.8 1423.5) rotate(-90) scale(0.9500 1)" font-size="34" font-style="italic">mik2-1</text>
<text transform="translate(285.8 1423.5) rotate(-90) scale(0.9580 1)" font-size="34" font-style="italic">mik2-2</text>
<text transform="translate(411.8 1424.3) rotate(-90)" font-size="34">Col-0</text>
<text transform="translate(484.8 1423.5) rotate(-90) scale(0.9500 1)" font-size="34" font-style="italic">mik2-1</text>
<text transform="translate(556.6 1423.5) rotate(-90) scale(0.9580 1)" font-size="34" font-style="italic">mik2-2</text>
<g clip-path="url(#cb1)">
<rect x="96" y="1438.5" width="480.2" height="163.3" fill="#cfcfcf"/>
<ellipse cx="108" cy="1520" rx="7" ry="95" fill="#dddddd" filter="url(#b5)"/>
<ellipse cx="172" cy="1520" rx="7" ry="95" fill="#dddddd" filter="url(#b5)"/>
<ellipse cx="237" cy="1520" rx="7" ry="95" fill="#dddddd" filter="url(#b5)"/>
<ellipse cx="305" cy="1520" rx="7" ry="95" fill="#dddddd" filter="url(#b5)"/>
<ellipse cx="370" cy="1520" rx="7" ry="95" fill="#dddddd" filter="url(#b5)"/>
<ellipse cx="440" cy="1520" rx="7" ry="95" fill="#dddddd" filter="url(#b5)"/>
<ellipse cx="508" cy="1520" rx="7" ry="95" fill="#dddddd" filter="url(#b5)"/>
<ellipse cx="572" cy="1520" rx="7" ry="95" fill="#dddddd" filter="url(#b5)"/>
<ellipse cx="137" cy="1464" rx="25" ry="7" fill="#bbbbbb" filter="url(#b5)"/>
<ellipse cx="139" cy="1514" rx="22" ry="4.5" fill="#c2c2c2" filter="url(#b5)"/>
<ellipse cx="138" cy="1593" rx="26" ry="10" fill="#b9b9b9" filter="url(#b5)"/>
<rect x="178" y="1456" width="52" height="29" rx="9" fill="#a2a2a2" filter="url(#b5)"/>
<ellipse cx="203.3" cy="1514" rx="27" ry="6" fill="#8c8c8c" filter="url(#b5)"/>
<ellipse cx="205" cy="1562" rx="22" ry="6" fill="#c8c8c8" filter="url(#b5)"/>
<rect x="246" y="1458" width="54" height="22" rx="8" fill="#acacac" filter="url(#b5)"/>
<ellipse cx="272" cy="1484" rx="27" ry="6" fill="#999999" filter="url(#b5)"/>
<ellipse cx="272" cy="1518" rx="28" ry="6.5" fill="#8f8f8f" filter="url(#b5)"/>
<ellipse cx="274" cy="1564" rx="22" ry="6" fill="#c5c5c5" filter="url(#b5)"/>
<ellipse cx="330" cy="1474" rx="25" ry="7.5" fill="#a9a9a9" filter="url(#b5)"/>
<ellipse cx="330" cy="1525" rx="21" ry="5" fill="#c2c2c2" filter="url(#b5)"/>
<ellipse cx="476" cy="1472" rx="30" ry="7.5" fill="#b3b3b3" filter="url(#b5)"/>
<ellipse cx="476" cy="1488" rx="29" ry="5.5" fill="#b8b8b8" filter="url(#b5)"/>
<ellipse cx="476" cy="1522.4" rx="29" ry="6" fill="#b6b6b6" filter="url(#b5)"/>
<ellipse cx="476" cy="1567.5" rx="26" ry="6" fill="#c2c2c2" filter="url(#b5)"/>
<ellipse cx="541.4" cy="1470" rx="30" ry="8" fill="#a6a6a6" filter="url(#b5)"/>
<ellipse cx="541.4" cy="1487.2" rx="29" ry="6" fill="#999999" filter="url(#b5)"/>
<ellipse cx="541.4" cy="1522.4" rx="30" ry="7.5" fill="#8e8e8e" filter="url(#b5)"/>
<ellipse cx="541.4" cy="1567" rx="26" ry="6" fill="#bfbfbf" filter="url(#b5)"/>
<ellipse cx="405" cy="1488.3" rx="32" ry="11" fill="#999999" filter="url(#b5)"/>
<ellipse cx="405" cy="1522.6" rx="34" ry="12" fill="#8a8a8a" filter="url(#b5)"/>
<path d="M 377.3 1488.6 C 377.3 1481.8 383.3 1481.8 396.58 1481.8 C 410.58 1482.48 432.4 1485.88 432.4 1488.6 C 432.4 1491.32 410.58 1494.72 396.58 1495.4 C 383.3 1495.4 377.3 1495.4 377.3 1488.6 Z" fill="#000" filter="url(#b1)"/>
<path d="M 373.5 1522.8 C 373.5 1514.8 379.5 1514.8 395.73 1514.8 C 409.73 1515.6 437 1519.6 437 1522.8 C 437 1526 409.73 1530 395.73 1530.8 C 379.5 1530.8 373.5 1530.8 373.5 1522.8 Z" fill="#000" filter="url(#b1)"/>
<ellipse cx="409.5" cy="1565.3" rx="26" ry="7" fill="#7c7c7c" filter="url(#b3)"/>
</g>
<rect x="94.15" y="1436.35" width="483.95" height="167.6" fill="none" stroke="#000" stroke-width="4.3"/>
<line x1="343.8" y1="1438.5" x2="343.8" y2="1466.8" stroke="#000" stroke-width="6.6" stroke-linecap="butt"/>
<line x1="343.8" y1="1488" x2="343.8" y2="1514.8" stroke="#000" stroke-width="6.6" stroke-linecap="butt"/>
<line x1="343.8" y1="1536" x2="343.8" y2="1563.4" stroke="#000" stroke-width="6.6" stroke-linecap="butt"/>
<line x1="343.8" y1="1584" x2="343.8" y2="1601.8" stroke="#000" stroke-width="6.6" stroke-linecap="butt"/>
<polygon points="580.4,1487.8 593.6,1482.2 593.6,1493.4" fill="#000"/>
<polygon points="580.4,1522.7 593.6,1517.1 593.6,1528.3" fill="#000"/>
<polygon points="580.4,1568.5 593.6,1562.9 593.6,1574.1" fill="#000"/>
<text x="595.8" y="1497.2" font-size="27.8">p<tspan x="609.5">M</tspan><tspan x="638.5">PK</tspan><tspan x="678.5">6</tspan></text>
<text x="595.8" y="1532.8" font-size="27.8">p<tspan x="609.5">M</tspan><tspan x="638.5">PK</tspan><tspan x="678.5">3</tspan></text>
<text x="595.8" y="1577.9" font-size="27.8">p<tspan x="609.5">M</tspan><tspan x="638.5">PK</tspan><tspan x="678.5">4/11</tspan></text>
<text x="-1.2" y="1514.7" font-size="24">45 kDa</text>
<text x="421.8" y="1640" font-size="33">&#945;<tspan x="444.7">-</tspan><tspan x="454.8">p</tspan><tspan x="472.5">M</tspan><tspan x="508.3">A</tspan><tspan x="527.9">P</tspan><tspan x="550.7">K</tspan></text>
<g clip-path="url(#cb2)">
<rect x="96" y="1660.6" width="480.2" height="89.2" fill="#6a8bab"/>
<ellipse cx="178" cy="1700" rx="5" ry="55" fill="#8299ad" filter="url(#b5)" opacity="0.7"/>
<ellipse cx="245" cy="1700" rx="5" ry="55" fill="#8299ad" filter="url(#b5)" opacity="0.7"/>
<ellipse cx="320" cy="1700" rx="5" ry="55" fill="#8299ad" filter="url(#b5)" opacity="0.7"/>
<ellipse cx="377" cy="1700" rx="5" ry="55" fill="#8299ad" filter="url(#b5)" opacity="0.7"/>
<ellipse cx="437" cy="1700" rx="5" ry="55" fill="#8299ad" filter="url(#b5)" opacity="0.7"/>
<ellipse cx="504" cy="1700" rx="5" ry="55" fill="#8299ad" filter="url(#b5)" opacity="0.7"/>
<rect x="98" y="1685" width="81" height="39" rx="12" ry="12" fill="#2a68b0" filter="url(#b5)" opacity="0.8"/>
<rect x="177" y="1687" width="69" height="35" rx="12" ry="12" fill="#2a68b0" filter="url(#b5)" opacity="0.8"/>
<rect x="244" y="1687" width="77" height="39" rx="12" ry="12" fill="#2a68b0" filter="url(#b5)" opacity="0.8"/>
<rect x="319" y="1685" width="59" height="37" rx="12" ry="12" fill="#2a68b0" filter="url(#b5)" opacity="0.8"/>
<rect x="376" y="1682" width="62" height="37" rx="12" ry="12" fill="#2a68b0" filter="url(#b5)" opacity="0.8"/>
<rect x="436" y="1682" width="69" height="38" rx="12" ry="12" fill="#2a68b0" filter="url(#b5)" opacity="0.8"/>
<rect x="503" y="1681" width="76" height="38" rx="12" ry="12" fill="#2a68b0" filter="url(#b5)" opacity="0.8"/>
<rect x="97" y="1691" width="83" height="35" rx="11" ry="11" fill="#1d5eaf" filter="url(#b2)"/>
<rect x="176" y="1693" width="71" height="31" rx="11" ry="11" fill="#1d5eaf" filter="url(#b2)"/>
<rect x="243" y="1693" width="79" height="35" rx="11" ry="11" fill="#1d5eaf" filter="url(#b2)"/>
<rect x="318" y="1691" width="61" height="33" rx="11" ry="11" fill="#1d5eaf" filter="url(#b2)"/>
<rect x="375" y="1688" width="64" height="33" rx="11" ry="11" fill="#1d5eaf" filter="url(#b2)"/>
<rect x="435" y="1688" width="71" height="34" rx="11" ry="11" fill="#1d5eaf" filter="url(#b2)"/>
<rect x="502" y="1687" width="78" height="34" rx="11" ry="11" fill="#1d5eaf" filter="url(#b2)"/>
</g>
<rect x="94" y="1658.5" width="484.1" height="93.4" fill="none" stroke="#000" stroke-width="4.2"/>
<line x1="343.6" y1="1660.6" x2="343.6" y2="1686.2" stroke="#000" stroke-width="6.8" stroke-linecap="butt"/>
<line x1="343.6" y1="1708" x2="343.6" y2="1734.4" stroke="#000" stroke-width="6.8" stroke-linecap="butt"/>
<text x="500.8" y="1786.8" font-size="33">C<tspan x="527.9">B</tspan><tspan x="551.6">B</tspan></text>
<text x="717.5" y="1289.3" font-size="43" font-weight="bold">f</text>
<line x1="874.2" y1="1311.2" x2="874.2" y2="1771.2" stroke="#000" stroke-width="4.2" stroke-linecap="butt"/>
<line x1="855.4" y1="1769.2" x2="1226" y2="1769.2" stroke="#000" stroke-width="4.2" stroke-linecap="butt"/>
<text x="853.3" y="1780.4" font-size="34" text-anchor="end">0.0</text>
<line x1="855.4" y1="1704.06" x2="874.2" y2="1704.06" stroke="#000" stroke-width="4.2" stroke-linecap="butt"/>
<text x="853.3" y="1715.26" font-size="34" text-anchor="end">0.2</text>
<line x1="855.4" y1="1638.91" x2="874.2" y2="1638.91" stroke="#000" stroke-width="4.2" stroke-linecap="butt"/>
<text x="853.3" y="1650.11" font-size="34" text-anchor="end">0.4</text>
<line x1="855.4" y1="1573.77" x2="874.2" y2="1573.77" stroke="#000" stroke-width="4.2" stroke-linecap="butt"/>
<text x="853.3" y="1584.97" font-size="34" text-anchor="end">0.6</text>
<line x1="855.4" y1="1508.63" x2="874.2" y2="1508.63" stroke="#000" stroke-width="4.2" stroke-linecap="butt"/>
<text x="853.3" y="1519.83" font-size="34" text-anchor="end">0.8</text>
<line x1="855.4" y1="1443.49" x2="874.2" y2="1443.49" stroke="#000" stroke-width="4.2" stroke-linecap="butt"/>
<text x="853.3" y="1454.69" font-size="34" text-anchor="end">1.0</text>
<line x1="855.4" y1="1378.34" x2="874.2" y2="1378.34" stroke="#000" stroke-width="4.2" stroke-linecap="butt"/>
<text x="853.3" y="1389.54" font-size="34" text-anchor="end">1.2</text>
<line x1="855.4" y1="1313.2" x2="874.2" y2="1313.2" stroke="#000" stroke-width="4.2" stroke-linecap="butt"/>
<text x="853.3" y="1324.4" font-size="34" text-anchor="end">1.4</text>
<line x1="944.3" y1="1769.2" x2="944.3" y2="1787.4" stroke="#000" stroke-width="4.2" stroke-linecap="butt"/>
<line x1="1049.7" y1="1769.2" x2="1049.7" y2="1787.4" stroke="#000" stroke-width="4.2" stroke-linecap="butt"/>
<line x1="1155" y1="1769.2" x2="1155" y2="1787.4" stroke="#000" stroke-width="4.2" stroke-linecap="butt"/>
<text x="944.3" y="1820.3" font-size="33.5" text-anchor="middle">Col-0</text>
<text x="1051.5" y="1820.3" font-size="33.5" text-anchor="middle" font-style="italic">mik2-1</text>
<text x="1157" y="1820.3" font-size="33.5" text-anchor="middle" font-style="italic">mik2-2</text>
<text transform="translate(782 1538.2) rotate(-90) scale(0.9610 1)" font-size="33.5" text-anchor="middle">Relative fresh weight</text>
<text transform="translate(1057.1 1316.2) rotate(-90) scale(0.9450 1)" font-size="28" text-anchor="middle">&lt;0.001</text>
<text transform="translate(1164 1316.2) rotate(-90) scale(0.9450 1)" font-size="28" text-anchor="middle">&lt;0.001</text>
<circle cx="952.9" cy="1719.3" r="8.9" fill="#000"/>
<circle cx="926.4" cy="1735.5" r="8.9" fill="#000"/>
<circle cx="917.9" cy="1748.9" r="8.9" fill="#000"/>
<circle cx="935.3" cy="1746.3" r="8.9" fill="#000"/>
<circle cx="944.4" cy="1743.1" r="8.9" fill="#000"/>
<circle cx="952.9" cy="1750.2" r="8.9" fill="#000"/>
<circle cx="962" cy="1746.3" r="8.9" fill="#000"/>
<circle cx="970.5" cy="1750.2" r="8.9" fill="#000"/>
<circle cx="930" cy="1750" r="8.9" fill="#000"/>
<circle cx="944" cy="1751" r="8.9" fill="#000"/>
<line x1="908.9" y1="1742.4" x2="979.6" y2="1742.4" stroke="#000" stroke-width="4.4" stroke-linecap="butt"/>
<line x1="931.4" y1="1732" x2="963.7" y2="1732" stroke="#000" stroke-width="4.2" stroke-linecap="round"/>
<line x1="944.4" y1="1732" x2="944.4" y2="1742" stroke="#000" stroke-width="4.2" stroke-linecap="butt"/>
<rect x="1023.25" y="1388.75" width="17.5" height="17.5" fill="#027a56"/>
<rect x="1058.25" y="1380.65" width="17.5" height="17.5" fill="#027a56"/>
<rect x="1058.25" y="1399.75" width="17.5" height="17.5" fill="#027a56"/>
<rect x="1023.25" y="1455.95" width="17.5" height="17.5" fill="#027a56"/>
<rect x="1058.25" y="1457.25" width="17.5" height="17.5" fill="#027a56"/>
<rect x="1040.85" y="1483.35" width="17.5" height="17.5" fill="#027a56"/>
<rect x="1058.25" y="1513.25" width="17.5" height="17.5" fill="#027a56"/>
<rect x="1023.25" y="1526.75" width="17.5" height="17.5" fill="#027a56"/>
<line x1="1014.7" y1="1459.5" x2="1084.8" y2="1459.5" stroke="#000" stroke-width="4.6" stroke-linecap="butt"/>
<line x1="1049.6" y1="1403.2" x2="1049.6" y2="1515.8" stroke="#000" stroke-width="4.2" stroke-linecap="butt"/>
<line x1="1032.5" y1="1403.2" x2="1066.8" y2="1403.2" stroke="#000" stroke-width="4.2" stroke-linecap="round"/>
<line x1="1032.5" y1="1515.8" x2="1066.8" y2="1515.8" stroke="#000" stroke-width="4.2" stroke-linecap="round"/>
<polygon points="1155,1367.3 1163.6,1384.3 1146.4,1384.3" fill="#3aae83"/>
<polygon points="1155,1385.2 1163.6,1402.2 1146.4,1402.2" fill="#3aae83"/>
<polygon points="1155,1409.5 1163.6,1426.5 1146.4,1426.5" fill="#3aae83"/>
<polygon points="1146,1429.1 1154.6,1446.1 1137.4,1446.1" fill="#3aae83"/>
<polygon points="1128.5,1434.7 1137.1,1451.7 1119.9,1451.7" fill="#3aae83"/>
<polygon points="1164,1442.1 1172.6,1459.1 1155.4,1459.1" fill="#3aae83"/>
<polygon points="1181.4,1443 1190,1460 1172.8,1460" fill="#3aae83"/>
<polygon points="1128.5,1453.8 1137.1,1470.8 1119.9,1470.8" fill="#3aae83"/>
<line x1="1119.9" y1="1428.5" x2="1190.5" y2="1428.5" stroke="#000" stroke-width="4.6" stroke-linecap="butt"/>
<line x1="1155" y1="1397.8" x2="1155" y2="1459.2" stroke="#000" stroke-width="4.2" stroke-linecap="butt"/>
<line x1="1138.2" y1="1397.8" x2="1172.2" y2="1397.8" stroke="#000" stroke-width="4.2" stroke-linecap="round"/>
<line x1="1138.2" y1="1459.2" x2="1172.2" y2="1459.2" stroke="#000" stroke-width="4.2" stroke-linecap="round"/>
<text x="44" y="1890" font-size="43" font-weight="bold">g</text>
<line x1="172.1" y1="1902.2" x2="172.1" y2="2344.4" stroke="#000" stroke-width="4.2" stroke-linecap="butt"/>
<line x1="153.2" y1="2342.4" x2="679.5" y2="2342.4" stroke="#000" stroke-width="4.2" stroke-linecap="butt"/>
<text x="151.5" y="2354.6" font-size="34" text-anchor="end">0</text>
<line x1="153.2" y1="2279.65" x2="172.1" y2="2279.65" stroke="#000" stroke-width="4.2" stroke-linecap="butt"/>
<text x="151.5" y="2291.85" font-size="34" text-anchor="end">1</text>
<line x1="153.2" y1="2216.9" x2="172.1" y2="2216.9" stroke="#000" stroke-width="4.2" stroke-linecap="butt"/>
<text x="151.5" y="2229.1" font-size="34" text-anchor="end">2</text>
<line x1="153.2" y1="2154.15" x2="172.1" y2="2154.15" stroke="#000" stroke-width="4.2" stroke-linecap="butt"/>
<text x="151.5" y="2166.35" font-size="34" text-anchor="end">3</text>
<line x1="153.2" y1="2091.4" x2="172.1" y2="2091.4" stroke="#000" stroke-width="4.2" stroke-linecap="butt"/>
<text x="151.5" y="2103.6" font-size="34" text-anchor="end">4</text>
<line x1="153.2" y1="2028.65" x2="172.1" y2="2028.65" stroke="#000" stroke-width="4.2" stroke-linecap="butt"/>
<text x="151.5" y="2040.85" font-size="34" text-anchor="end">5</text>
<line x1="153.2" y1="1965.9" x2="172.1" y2="1965.9" stroke="#000" stroke-width="4.2" stroke-linecap="butt"/>
<text x="151.5" y="1978.1" font-size="34" text-anchor="end">6</text>
<line x1="153.2" y1="1903.15" x2="172.1" y2="1903.15" stroke="#000" stroke-width="4.2" stroke-linecap="butt"/>
<text x="151.5" y="1915.35" font-size="34" text-anchor="end">7</text>
<line x1="253" y1="2342.4" x2="253" y2="2360.8" stroke="#000" stroke-width="4.2" stroke-linecap="butt"/>
<text x="253" y="2393.1" font-size="32" text-anchor="middle">10</text>
<line x1="337.15" y1="2342.4" x2="337.15" y2="2360.8" stroke="#000" stroke-width="4.2" stroke-linecap="butt"/>
<text x="337.15" y="2393.1" font-size="32" text-anchor="middle">20</text>
<line x1="421.3" y1="2342.4" x2="421.3" y2="2360.8" stroke="#000" stroke-width="4.2" stroke-linecap="butt"/>
<text x="421.3" y="2393.1" font-size="32" text-anchor="middle">30</text>
<line x1="505.45" y1="2342.4" x2="505.45" y2="2360.8" stroke="#000" stroke-width="4.2" stroke-linecap="butt"/>
<text x="505.45" y="2393.1" font-size="32" text-anchor="middle">40</text>
<line x1="589.6" y1="2342.4" x2="589.6" y2="2360.8" stroke="#000" stroke-width="4.2" stroke-linecap="butt"/>
<text x="589.6" y="2393.1" font-size="32" text-anchor="middle">50</text>
<line x1="673.75" y1="2342.4" x2="673.75" y2="2360.8" stroke="#000" stroke-width="4.2" stroke-linecap="butt"/>
<text x="673.75" y="2393.1" font-size="32" text-anchor="middle">60</text>
<text transform="translate(425.2 2438.4) scale(0.9850 1)" font-size="32" text-anchor="middle">Time (min)</text>
<text transform="translate(110.8 2120.1) rotate(-90) scale(0.9750 1)" font-size="33.3" text-anchor="middle">ROS production (RLU min<tspan font-size="24.4" dy="-12.3">-1</tspan><tspan dy="12.3">)</tspan></text>
<circle cx="177.26" cy="2314.16" r="6.7" fill="#000"/>
<circle cx="185.68" cy="2321.69" r="6.7" fill="#000"/>
<circle cx="194.09" cy="2324.83" r="6.7" fill="#000"/>
<circle cx="202.51" cy="2327.03" r="6.7" fill="#000"/>
<circle cx="210.92" cy="2329.22" r="6.7" fill="#000"/>
<circle cx="219.34" cy="2330.48" r="6.7" fill="#000"/>
<circle cx="227.75" cy="2331.73" r="6.7" fill="#000"/>
<circle cx="236.17" cy="2332.99" r="6.7" fill="#000"/>
<circle cx="244.58" cy="2333.77" r="6.7" fill="#000"/>
<circle cx="253" cy="2334.56" r="6.7" fill="#000"/>
<circle cx="261.41" cy="2335.34" r="6.7" fill="#000"/>
<circle cx="269.83" cy="2336.12" r="6.7" fill="#000"/>
<circle cx="278.25" cy="2336.36" r="6.7" fill="#000"/>
<circle cx="286.66" cy="2336.6" r="6.7" fill="#000"/>
<circle cx="295.07" cy="2336.83" r="6.7" fill="#000"/>
<circle cx="303.49" cy="2337.07" r="6.7" fill="#000"/>
<circle cx="311.9" cy="2337.3" r="6.7" fill="#000"/>
<circle cx="320.32" cy="2337.54" r="6.7" fill="#000"/>
<circle cx="328.74" cy="2337.77" r="6.7" fill="#000"/>
<circle cx="337.15" cy="2338.01" r="6.7" fill="#000"/>
<circle cx="345.56" cy="2338.1" r="6.7" fill="#000"/>
<circle cx="353.98" cy="2338.2" r="6.7" fill="#000"/>
<circle cx="362.39" cy="2338.29" r="6.7" fill="#000"/>
<circle cx="370.81" cy="2338.38" r="6.7" fill="#000"/>
<circle cx="379.22" cy="2338.48" r="6.7" fill="#000"/>
<circle cx="387.64" cy="2338.57" r="6.7" fill="#000"/>
<circle cx="396.05" cy="2338.67" r="6.7" fill="#000"/>
<circle cx="404.47" cy="2338.76" r="6.7" fill="#000"/>
<circle cx="412.88" cy="2338.85" r="6.7" fill="#000"/>
<circle cx="421.3" cy="2338.95" r="6.7" fill="#000"/>
<circle cx="429.71" cy="2339.04" r="6.7" fill="#000"/>
<circle cx="438.13" cy="2339.14" r="6.7" fill="#000"/>
<circle cx="446.54" cy="2339.23" r="6.7" fill="#000"/>
<circle cx="454.96" cy="2339.33" r="6.7" fill="#000"/>
<circle cx="463.38" cy="2339.42" r="6.7" fill="#000"/>
<circle cx="471.79" cy="2339.51" r="6.7" fill="#000"/>
<circle cx="480.2" cy="2339.61" r="6.7" fill="#000"/>
<circle cx="488.62" cy="2339.7" r="6.7" fill="#000"/>
<circle cx="497.03" cy="2339.8" r="6.7" fill="#000"/>
<circle cx="505.45" cy="2339.89" r="6.7" fill="#000"/>
<circle cx="513.87" cy="2339.92" r="6.7" fill="#000"/>
<circle cx="522.28" cy="2339.95" r="6.7" fill="#000"/>
<circle cx="530.69" cy="2339.98" r="6.7" fill="#000"/>
<circle cx="539.11" cy="2340.02" r="6.7" fill="#000"/>
<circle cx="547.52" cy="2340.05" r="6.7" fill="#000"/>
<circle cx="555.94" cy="2340.08" r="6.7" fill="#000"/>
<circle cx="564.35" cy="2340.11" r="6.7" fill="#000"/>
<circle cx="572.77" cy="2340.14" r="6.7" fill="#000"/>
<circle cx="581.18" cy="2340.17" r="6.7" fill="#000"/>
<circle cx="589.6" cy="2340.2" r="6.7" fill="#000"/>
<circle cx="598.01" cy="2340.24" r="6.7" fill="#000"/>
<circle cx="606.43" cy="2340.27" r="6.7" fill="#000"/>
<circle cx="614.84" cy="2340.3" r="6.7" fill="#000"/>
<circle cx="623.26" cy="2340.33" r="6.7" fill="#000"/>
<circle cx="631.67" cy="2340.36" r="6.7" fill="#000"/>
<circle cx="640.09" cy="2340.39" r="6.7" fill="#000"/>
<circle cx="648.5" cy="2340.42" r="6.7" fill="#000"/>
<circle cx="656.92" cy="2340.45" r="6.7" fill="#000"/>
<circle cx="665.33" cy="2340.49" r="6.7" fill="#000"/>
<circle cx="673.75" cy="2340.52" r="6.7" fill="#000"/>
<polygon points="177.26,2306.23 183.96,2293.23 170.56,2293.23" fill="#53298c"/>
<polygon points="185.68,2313.76 192.38,2300.76 178.98,2300.76" fill="#53298c"/>
<polygon points="194.09,2318.15 200.79,2305.15 187.4,2305.15" fill="#53298c"/>
<polygon points="202.51,2321.92 209.21,2308.92 195.81,2308.92" fill="#53298c"/>
<polygon points="210.92,2323.8 217.62,2310.8 204.22,2310.8" fill="#53298c"/>
<polygon points="219.34,2325.68 226.04,2312.68 212.64,2312.68" fill="#53298c"/>
<polygon points="227.75,2327.57 234.45,2314.57 221.06,2314.57" fill="#53298c"/>
<polygon points="236.17,2328.82 242.87,2315.82 229.47,2315.82" fill="#53298c"/>
<polygon points="244.58,2330.08 251.28,2317.08 237.88,2317.08" fill="#53298c"/>
<polygon points="253,2331.33 259.7,2318.33 246.3,2318.33" fill="#53298c"/>
<polygon points="261.41,2332.21 268.11,2319.21 254.71,2319.21" fill="#53298c"/>
<polygon points="269.83,2333.09 276.53,2320.09 263.13,2320.09" fill="#53298c"/>
<polygon points="278.25,2333.97 284.94,2320.97 271.55,2320.97" fill="#53298c"/>
<polygon points="286.66,2334.84 293.36,2321.84 279.96,2321.84" fill="#53298c"/>
<polygon points="295.07,2335.72 301.77,2322.72 288.38,2322.72" fill="#53298c"/>
<polygon points="303.49,2336.29 310.19,2323.29 296.79,2323.29" fill="#53298c"/>
<polygon points="311.9,2336.85 318.6,2323.85 305.2,2323.85" fill="#53298c"/>
<polygon points="320.32,2337.42 327.02,2324.42 313.62,2324.42" fill="#53298c"/>
<polygon points="328.74,2337.98 335.44,2324.98 322.04,2324.98" fill="#53298c"/>
<polygon points="337.15,2338.55 343.85,2325.55 330.45,2325.55" fill="#53298c"/>
<polygon points="345.56,2338.91 352.26,2325.91 338.86,2325.91" fill="#53298c"/>
<polygon points="353.98,2339.27 360.68,2326.27 347.28,2326.27" fill="#53298c"/>
<polygon points="362.39,2339.64 369.09,2326.64 355.69,2326.64" fill="#53298c"/>
<polygon points="370.81,2340 377.51,2327 364.11,2327" fill="#53298c"/>
<polygon points="379.22,2340.37 385.92,2327.37 372.52,2327.37" fill="#53298c"/>
<polygon points="387.64,2340.73 394.34,2327.73 380.94,2327.73" fill="#53298c"/>
<polygon points="396.05,2341.09 402.75,2328.09 389.35,2328.09" fill="#53298c"/>
<polygon points="404.47,2341.46 411.17,2328.46 397.77,2328.46" fill="#53298c"/>
<polygon points="412.88,2341.82 419.58,2328.82 406.19,2328.82" fill="#53298c"/>
<polygon points="421.3,2342.19 428,2329.19 414.6,2329.19" fill="#53298c"/>
<polygon points="429.71,2342.49 436.41,2329.49 423.01,2329.49" fill="#53298c"/>
<polygon points="438.13,2342.8 444.83,2329.8 431.43,2329.8" fill="#53298c"/>
<polygon points="446.54,2343.11 453.24,2330.11 439.84,2330.11" fill="#53298c"/>
<polygon points="454.96,2343.42 461.66,2330.42 448.26,2330.42" fill="#53298c"/>
<polygon points="463.38,2343.72 470.07,2330.72 456.68,2330.72" fill="#53298c"/>
<polygon points="471.79,2344.03 478.49,2331.03 465.09,2331.03" fill="#53298c"/>
<polygon points="480.2,2344.34 486.9,2331.34 473.5,2331.34" fill="#53298c"/>
<polygon points="488.62,2344.65 495.32,2331.65 481.92,2331.65" fill="#53298c"/>
<polygon points="497.03,2344.95 503.73,2331.95 490.33,2331.95" fill="#53298c"/>
<polygon points="505.45,2345.26 512.15,2332.26 498.75,2332.26" fill="#53298c"/>
<polygon points="513.87,2345.33 520.57,2332.33 507.17,2332.33" fill="#53298c"/>
<polygon points="522.28,2345.4 528.98,2332.4 515.58,2332.4" fill="#53298c"/>
<polygon points="530.69,2345.47 537.39,2332.47 523.99,2332.47" fill="#53298c"/>
<polygon points="539.11,2345.54 545.81,2332.54 532.41,2332.54" fill="#53298c"/>
<polygon points="547.52,2345.61 554.23,2332.61 540.82,2332.61" fill="#53298c"/>
<polygon points="555.94,2345.67 562.64,2332.67 549.24,2332.67" fill="#53298c"/>
<polygon points="564.35,2345.74 571.05,2332.74 557.65,2332.74" fill="#53298c"/>
<polygon points="572.77,2345.81 579.47,2332.81 566.07,2332.81" fill="#53298c"/>
<polygon points="581.18,2345.88 587.88,2332.88 574.48,2332.88" fill="#53298c"/>
<polygon points="589.6,2345.95 596.3,2332.95 582.9,2332.95" fill="#53298c"/>
<polygon points="598.01,2345.96 604.72,2332.96 591.31,2332.96" fill="#53298c"/>
<polygon points="606.43,2345.96 613.13,2332.96 599.73,2332.96" fill="#53298c"/>
<polygon points="614.84,2345.97 621.54,2332.97 608.14,2332.97" fill="#53298c"/>
<polygon points="623.26,2345.98 629.96,2332.98 616.56,2332.98" fill="#53298c"/>
<polygon points="631.67,2345.98 638.38,2332.98 624.97,2332.98" fill="#53298c"/>
<polygon points="640.09,2345.99 646.79,2332.99 633.39,2332.99" fill="#53298c"/>
<polygon points="648.5,2345.99 655.21,2332.99 641.8,2332.99" fill="#53298c"/>
<polygon points="656.92,2346 663.62,2333 650.22,2333" fill="#53298c"/>
<polygon points="665.33,2346.01 672.03,2333.01 658.63,2333.01" fill="#53298c"/>
<polygon points="673.75,2346.01 680.45,2333.01 667.05,2333.01" fill="#53298c"/>
<rect x="170.46" y="2306.11" width="13.6" height="13.6" fill="#027a56"/>
<rect x="178.88" y="2223.28" width="13.6" height="13.6" fill="#027a56"/>
<rect x="187.29" y="2042.56" width="13.6" height="13.6" fill="#027a56"/>
<rect x="195.71" y="1968.51" width="13.6" height="13.6" fill="#027a56"/>
<rect x="204.12" y="1980.44" width="13.6" height="13.6" fill="#027a56"/>
<rect x="212.54" y="2012.44" width="13.6" height="13.6" fill="#027a56"/>
<rect x="220.95" y="2050.72" width="13.6" height="13.6" fill="#027a56"/>
<rect x="229.37" y="2083.34" width="13.6" height="13.6" fill="#027a56"/>
<rect x="237.78" y="2106.56" width="13.6" height="13.6" fill="#027a56"/>
<rect x="246.2" y="2122.25" width="13.6" height="13.6" fill="#027a56"/>
<rect x="254.61" y="2133.55" width="13.6" height="13.6" fill="#027a56"/>
<rect x="263.03" y="2139.82" width="13.6" height="13.6" fill="#027a56"/>
<rect x="271.44" y="2141.07" width="13.6" height="13.6" fill="#027a56"/>
<rect x="279.86" y="2141.07" width="13.6" height="13.6" fill="#027a56"/>
<rect x="288.27" y="2139.82" width="13.6" height="13.6" fill="#027a56"/>
<rect x="296.69" y="2137.94" width="13.6" height="13.6" fill="#027a56"/>
<rect x="305.1" y="2136.68" width="13.6" height="13.6" fill="#027a56"/>
<rect x="313.52" y="2135.43" width="13.6" height="13.6" fill="#027a56"/>
<rect x="321.94" y="2134.8" width="13.6" height="13.6" fill="#027a56"/>
<rect x="330.35" y="2134.17" width="13.6" height="13.6" fill="#027a56"/>
<rect x="338.76" y="2133.86" width="13.6" height="13.6" fill="#027a56"/>
<rect x="347.18" y="2133.55" width="13.6" height="13.6" fill="#027a56"/>
<rect x="355.59" y="2134.17" width="13.6" height="13.6" fill="#027a56"/>
<rect x="364.01" y="2134.8" width="13.6" height="13.6" fill="#027a56"/>
<rect x="372.42" y="2136.68" width="13.6" height="13.6" fill="#027a56"/>
<rect x="380.84" y="2138.57" width="13.6" height="13.6" fill="#027a56"/>
<rect x="389.25" y="2141.39" width="13.6" height="13.6" fill="#027a56"/>
<rect x="397.67" y="2144.21" width="13.6" height="13.6" fill="#027a56"/>
<rect x="406.08" y="2147.98" width="13.6" height="13.6" fill="#027a56"/>
<rect x="414.5" y="2151.74" width="13.6" height="13.6" fill="#027a56"/>
<rect x="422.91" y="2156.13" width="13.6" height="13.6" fill="#027a56"/>
<rect x="431.33" y="2160.53" width="13.6" height="13.6" fill="#027a56"/>
<rect x="439.74" y="2164.61" width="13.6" height="13.6" fill="#027a56"/>
<rect x="448.16" y="2168.68" width="13.6" height="13.6" fill="#027a56"/>
<rect x="456.57" y="2172.76" width="13.6" height="13.6" fill="#027a56"/>
<rect x="464.99" y="2176.84" width="13.6" height="13.6" fill="#027a56"/>
<rect x="473.4" y="2181.23" width="13.6" height="13.6" fill="#027a56"/>
<rect x="481.82" y="2185.63" width="13.6" height="13.6" fill="#027a56"/>
<rect x="490.23" y="2190.02" width="13.6" height="13.6" fill="#027a56"/>
<rect x="498.65" y="2194.41" width="13.6" height="13.6" fill="#027a56"/>
<rect x="507.06" y="2199.12" width="13.6" height="13.6" fill="#027a56"/>
<rect x="515.48" y="2203.82" width="13.6" height="13.6" fill="#027a56"/>
<rect x="523.89" y="2209.16" width="13.6" height="13.6" fill="#027a56"/>
<rect x="532.31" y="2214.49" width="13.6" height="13.6" fill="#027a56"/>
<rect x="540.73" y="2219.83" width="13.6" height="13.6" fill="#027a56"/>
<rect x="549.14" y="2225.16" width="13.6" height="13.6" fill="#027a56"/>
<rect x="557.55" y="2229.87" width="13.6" height="13.6" fill="#027a56"/>
<rect x="565.97" y="2234.57" width="13.6" height="13.6" fill="#027a56"/>
<rect x="574.38" y="2238.96" width="13.6" height="13.6" fill="#027a56"/>
<rect x="582.8" y="2243.36" width="13.6" height="13.6" fill="#027a56"/>
<rect x="591.22" y="2247.44" width="13.6" height="13.6" fill="#027a56"/>
<rect x="599.63" y="2251.51" width="13.6" height="13.6" fill="#027a56"/>
<rect x="608.04" y="2255.28" width="13.6" height="13.6" fill="#027a56"/>
<rect x="616.46" y="2259.05" width="13.6" height="13.6" fill="#027a56"/>
<rect x="624.88" y="2262.81" width="13.6" height="13.6" fill="#027a56"/>
<rect x="633.29" y="2266.57" width="13.6" height="13.6" fill="#027a56"/>
<rect x="641.71" y="2270.03" width="13.6" height="13.6" fill="#027a56"/>
<rect x="650.12" y="2273.48" width="13.6" height="13.6" fill="#027a56"/>
<rect x="658.53" y="2276.3" width="13.6" height="13.6" fill="#027a56"/>
<rect x="666.95" y="2279.12" width="13.6" height="13.6" fill="#027a56"/>
<line x1="177.26" y1="2309.77" x2="177.26" y2="2316.05" stroke="#000" stroke-width="2" stroke-linecap="butt"/>
<line x1="172.01" y1="2309.77" x2="182.51" y2="2309.77" stroke="#000" stroke-width="2" stroke-linecap="butt"/>
<line x1="172.01" y1="2316.05" x2="182.51" y2="2316.05" stroke="#000" stroke-width="2" stroke-linecap="butt"/>
<line x1="185.68" y1="2211.25" x2="185.68" y2="2248.9" stroke="#000" stroke-width="2" stroke-linecap="butt"/>
<line x1="180.43" y1="2211.25" x2="190.93" y2="2211.25" stroke="#000" stroke-width="2" stroke-linecap="butt"/>
<line x1="180.43" y1="2248.9" x2="190.93" y2="2248.9" stroke="#000" stroke-width="2" stroke-linecap="butt"/>
<line x1="194.09" y1="2014.85" x2="194.09" y2="2083.87" stroke="#000" stroke-width="2" stroke-linecap="butt"/>
<line x1="188.84" y1="2014.85" x2="199.34" y2="2014.85" stroke="#000" stroke-width="2" stroke-linecap="butt"/>
<line x1="188.84" y1="2083.87" x2="199.34" y2="2083.87" stroke="#000" stroke-width="2" stroke-linecap="butt"/>
<line x1="202.51" y1="1938.92" x2="202.51" y2="2011.71" stroke="#000" stroke-width="2" stroke-linecap="butt"/>
<line x1="197.26" y1="1938.92" x2="207.76" y2="1938.92" stroke="#000" stroke-width="2" stroke-linecap="butt"/>
<line x1="197.26" y1="2011.71" x2="207.76" y2="2011.71" stroke="#000" stroke-width="2" stroke-linecap="butt"/>
<line x1="210.92" y1="1951.47" x2="210.92" y2="2023" stroke="#000" stroke-width="2" stroke-linecap="butt"/>
<line x1="205.67" y1="1951.47" x2="216.17" y2="1951.47" stroke="#000" stroke-width="2" stroke-linecap="butt"/>
<line x1="205.67" y1="2023" x2="216.17" y2="2023" stroke="#000" stroke-width="2" stroke-linecap="butt"/>
<line x1="219.34" y1="1987.86" x2="219.34" y2="2050.61" stroke="#000" stroke-width="2" stroke-linecap="butt"/>
<line x1="214.09" y1="1987.86" x2="224.59" y2="1987.86" stroke="#000" stroke-width="2" stroke-linecap="butt"/>
<line x1="214.09" y1="2050.61" x2="224.59" y2="2050.61" stroke="#000" stroke-width="2" stroke-linecap="butt"/>
<line x1="227.75" y1="2029.28" x2="227.75" y2="2085.75" stroke="#000" stroke-width="2" stroke-linecap="butt"/>
<line x1="222.5" y1="2029.28" x2="233" y2="2029.28" stroke="#000" stroke-width="2" stroke-linecap="butt"/>
<line x1="222.5" y1="2085.75" x2="233" y2="2085.75" stroke="#000" stroke-width="2" stroke-linecap="butt"/>
<line x1="236.17" y1="2065.05" x2="236.17" y2="2115.24" stroke="#000" stroke-width="2" stroke-linecap="butt"/>
<line x1="230.92" y1="2065.05" x2="241.42" y2="2065.05" stroke="#000" stroke-width="2" stroke-linecap="butt"/>
<line x1="230.92" y1="2115.24" x2="241.42" y2="2115.24" stroke="#000" stroke-width="2" stroke-linecap="butt"/>
<line x1="244.58" y1="2090.77" x2="244.58" y2="2135.95" stroke="#000" stroke-width="2" stroke-linecap="butt"/>
<line x1="239.33" y1="2090.77" x2="249.83" y2="2090.77" stroke="#000" stroke-width="2" stroke-linecap="butt"/>
<line x1="239.33" y1="2135.95" x2="249.83" y2="2135.95" stroke="#000" stroke-width="2" stroke-linecap="butt"/>
<line x1="253" y1="2107.72" x2="253" y2="2150.39" stroke="#000" stroke-width="2" stroke-linecap="butt"/>
<line x1="247.75" y1="2107.72" x2="258.25" y2="2107.72" stroke="#000" stroke-width="2" stroke-linecap="butt"/>
<line x1="247.75" y1="2150.39" x2="258.25" y2="2150.39" stroke="#000" stroke-width="2" stroke-linecap="butt"/>
<line x1="261.41" y1="2119.01" x2="261.41" y2="2161.68" stroke="#000" stroke-width="2" stroke-linecap="butt"/>
<line x1="256.16" y1="2119.01" x2="266.66" y2="2119.01" stroke="#000" stroke-width="2" stroke-linecap="butt"/>
<line x1="256.16" y1="2161.68" x2="266.66" y2="2161.68" stroke="#000" stroke-width="2" stroke-linecap="butt"/>
<line x1="269.83" y1="2125.28" x2="269.83" y2="2167.95" stroke="#000" stroke-width="2" stroke-linecap="butt"/>
<line x1="264.58" y1="2125.28" x2="275.08" y2="2125.28" stroke="#000" stroke-width="2" stroke-linecap="butt"/>
<line x1="264.58" y1="2167.95" x2="275.08" y2="2167.95" stroke="#000" stroke-width="2" stroke-linecap="butt"/>
<line x1="278.25" y1="2126.54" x2="278.25" y2="2169.21" stroke="#000" stroke-width="2" stroke-linecap="butt"/>
<line x1="273" y1="2126.54" x2="283.5" y2="2126.54" stroke="#000" stroke-width="2" stroke-linecap="butt"/>
<line x1="273" y1="2169.21" x2="283.5" y2="2169.21" stroke="#000" stroke-width="2" stroke-linecap="butt"/>
<line x1="286.66" y1="2126.54" x2="286.66" y2="2169.21" stroke="#000" stroke-width="2" stroke-linecap="butt"/>
<line x1="281.41" y1="2126.54" x2="291.91" y2="2126.54" stroke="#000" stroke-width="2" stroke-linecap="butt"/>
<line x1="281.41" y1="2169.21" x2="291.91" y2="2169.21" stroke="#000" stroke-width="2" stroke-linecap="butt"/>
<line x1="295.07" y1="2125.28" x2="295.07" y2="2167.95" stroke="#000" stroke-width="2" stroke-linecap="butt"/>
<line x1="289.82" y1="2125.28" x2="300.32" y2="2125.28" stroke="#000" stroke-width="2" stroke-linecap="butt"/>
<line x1="289.82" y1="2167.95" x2="300.32" y2="2167.95" stroke="#000" stroke-width="2" stroke-linecap="butt"/>
<line x1="303.49" y1="2123.4" x2="303.49" y2="2166.07" stroke="#000" stroke-width="2" stroke-linecap="butt"/>
<line x1="298.24" y1="2123.4" x2="308.74" y2="2123.4" stroke="#000" stroke-width="2" stroke-linecap="butt"/>
<line x1="298.24" y1="2166.07" x2="308.74" y2="2166.07" stroke="#000" stroke-width="2" stroke-linecap="butt"/>
<line x1="311.9" y1="2122.15" x2="311.9" y2="2164.82" stroke="#000" stroke-width="2" stroke-linecap="butt"/>
<line x1="306.65" y1="2122.15" x2="317.15" y2="2122.15" stroke="#000" stroke-width="2" stroke-linecap="butt"/>
<line x1="306.65" y1="2164.82" x2="317.15" y2="2164.82" stroke="#000" stroke-width="2" stroke-linecap="butt"/>
<line x1="320.32" y1="2120.89" x2="320.32" y2="2163.56" stroke="#000" stroke-width="2" stroke-linecap="butt"/>
<line x1="315.07" y1="2120.89" x2="325.57" y2="2120.89" stroke="#000" stroke-width="2" stroke-linecap="butt"/>
<line x1="315.07" y1="2163.56" x2="325.57" y2="2163.56" stroke="#000" stroke-width="2" stroke-linecap="butt"/>
<line x1="328.74" y1="2120.26" x2="328.74" y2="2162.93" stroke="#000" stroke-width="2" stroke-linecap="butt"/>
<line x1="323.49" y1="2120.26" x2="333.99" y2="2120.26" stroke="#000" stroke-width="2" stroke-linecap="butt"/>
<line x1="323.49" y1="2162.93" x2="333.99" y2="2162.93" stroke="#000" stroke-width="2" stroke-linecap="butt"/>
<line x1="337.15" y1="2119.64" x2="337.15" y2="2162.31" stroke="#000" stroke-width="2" stroke-linecap="butt"/>
<line x1="331.9" y1="2119.64" x2="342.4" y2="2119.64" stroke="#000" stroke-width="2" stroke-linecap="butt"/>
<line x1="331.9" y1="2162.31" x2="342.4" y2="2162.31" stroke="#000" stroke-width="2" stroke-linecap="butt"/>
<line x1="345.56" y1="2119.43" x2="345.56" y2="2161.89" stroke="#000" stroke-width="2" stroke-linecap="butt"/>
<line x1="340.31" y1="2119.43" x2="350.81" y2="2119.43" stroke="#000" stroke-width="2" stroke-linecap="butt"/>
<line x1="340.31" y1="2161.89" x2="350.81" y2="2161.89" stroke="#000" stroke-width="2" stroke-linecap="butt"/>
<line x1="353.98" y1="2119.22" x2="353.98" y2="2161.47" stroke="#000" stroke-width="2" stroke-linecap="butt"/>
<line x1="348.73" y1="2119.22" x2="359.23" y2="2119.22" stroke="#000" stroke-width="2" stroke-linecap="butt"/>
<line x1="348.73" y1="2161.47" x2="359.23" y2="2161.47" stroke="#000" stroke-width="2" stroke-linecap="butt"/>
<line x1="362.39" y1="2119.95" x2="362.39" y2="2161.99" stroke="#000" stroke-width="2" stroke-linecap="butt"/>
<line x1="357.14" y1="2119.95" x2="367.64" y2="2119.95" stroke="#000" stroke-width="2" stroke-linecap="butt"/>
<line x1="357.14" y1="2161.99" x2="367.64" y2="2161.99" stroke="#000" stroke-width="2" stroke-linecap="butt"/>
<line x1="370.81" y1="2120.68" x2="370.81" y2="2162.52" stroke="#000" stroke-width="2" stroke-linecap="butt"/>
<line x1="365.56" y1="2120.68" x2="376.06" y2="2120.68" stroke="#000" stroke-width="2" stroke-linecap="butt"/>
<line x1="365.56" y1="2162.52" x2="376.06" y2="2162.52" stroke="#000" stroke-width="2" stroke-linecap="butt"/>
<line x1="379.22" y1="2122.67" x2="379.22" y2="2164.29" stroke="#000" stroke-width="2" stroke-linecap="butt"/>
<line x1="373.97" y1="2122.67" x2="384.47" y2="2122.67" stroke="#000" stroke-width="2" stroke-linecap="butt"/>
<line x1="373.97" y1="2164.29" x2="384.47" y2="2164.29" stroke="#000" stroke-width="2" stroke-linecap="butt"/>
<line x1="387.64" y1="2124.66" x2="387.64" y2="2166.07" stroke="#000" stroke-width="2" stroke-linecap="butt"/>
<line x1="382.39" y1="2124.66" x2="392.89" y2="2124.66" stroke="#000" stroke-width="2" stroke-linecap="butt"/>
<line x1="382.39" y1="2166.07" x2="392.89" y2="2166.07" stroke="#000" stroke-width="2" stroke-linecap="butt"/>
<line x1="396.05" y1="2127.8" x2="396.05" y2="2168.58" stroke="#000" stroke-width="2" stroke-linecap="butt"/>
<line x1="390.8" y1="2127.8" x2="401.3" y2="2127.8" stroke="#000" stroke-width="2" stroke-linecap="butt"/>
<line x1="390.8" y1="2168.58" x2="401.3" y2="2168.58" stroke="#000" stroke-width="2" stroke-linecap="butt"/>
<line x1="404.47" y1="2130.93" x2="404.47" y2="2171.09" stroke="#000" stroke-width="2" stroke-linecap="butt"/>
<line x1="399.22" y1="2130.93" x2="409.72" y2="2130.93" stroke="#000" stroke-width="2" stroke-linecap="butt"/>
<line x1="399.22" y1="2171.09" x2="409.72" y2="2171.09" stroke="#000" stroke-width="2" stroke-linecap="butt"/>
<line x1="412.88" y1="2135.01" x2="412.88" y2="2174.54" stroke="#000" stroke-width="2" stroke-linecap="butt"/>
<line x1="407.63" y1="2135.01" x2="418.13" y2="2135.01" stroke="#000" stroke-width="2" stroke-linecap="butt"/>
<line x1="407.63" y1="2174.54" x2="418.13" y2="2174.54" stroke="#000" stroke-width="2" stroke-linecap="butt"/>
<line x1="421.3" y1="2139.09" x2="421.3" y2="2177.99" stroke="#000" stroke-width="2" stroke-linecap="butt"/>
<line x1="416.05" y1="2139.09" x2="426.55" y2="2139.09" stroke="#000" stroke-width="2" stroke-linecap="butt"/>
<line x1="416.05" y1="2177.99" x2="426.55" y2="2177.99" stroke="#000" stroke-width="2" stroke-linecap="butt"/>
<line x1="429.71" y1="2143.8" x2="429.71" y2="2182.07" stroke="#000" stroke-width="2" stroke-linecap="butt"/>
<line x1="424.46" y1="2143.8" x2="434.96" y2="2143.8" stroke="#000" stroke-width="2" stroke-linecap="butt"/>
<line x1="424.46" y1="2182.07" x2="434.96" y2="2182.07" stroke="#000" stroke-width="2" stroke-linecap="butt"/>
<line x1="438.13" y1="2148.5" x2="438.13" y2="2186.15" stroke="#000" stroke-width="2" stroke-linecap="butt"/>
<line x1="432.88" y1="2148.5" x2="443.38" y2="2148.5" stroke="#000" stroke-width="2" stroke-linecap="butt"/>
<line x1="432.88" y1="2186.15" x2="443.38" y2="2186.15" stroke="#000" stroke-width="2" stroke-linecap="butt"/>
<line x1="446.54" y1="2153.21" x2="446.54" y2="2189.6" stroke="#000" stroke-width="2" stroke-linecap="butt"/>
<line x1="441.29" y1="2153.21" x2="451.79" y2="2153.21" stroke="#000" stroke-width="2" stroke-linecap="butt"/>
<line x1="441.29" y1="2189.6" x2="451.79" y2="2189.6" stroke="#000" stroke-width="2" stroke-linecap="butt"/>
<line x1="454.96" y1="2157.91" x2="454.96" y2="2193.06" stroke="#000" stroke-width="2" stroke-linecap="butt"/>
<line x1="449.71" y1="2157.91" x2="460.21" y2="2157.91" stroke="#000" stroke-width="2" stroke-linecap="butt"/>
<line x1="449.71" y1="2193.06" x2="460.21" y2="2193.06" stroke="#000" stroke-width="2" stroke-linecap="butt"/>
<line x1="463.38" y1="2162.62" x2="463.38" y2="2196.51" stroke="#000" stroke-width="2" stroke-linecap="butt"/>
<line x1="458.12" y1="2162.62" x2="468.62" y2="2162.62" stroke="#000" stroke-width="2" stroke-linecap="butt"/>
<line x1="458.12" y1="2196.51" x2="468.62" y2="2196.51" stroke="#000" stroke-width="2" stroke-linecap="butt"/>
<line x1="471.79" y1="2167.33" x2="471.79" y2="2199.96" stroke="#000" stroke-width="2" stroke-linecap="butt"/>
<line x1="466.54" y1="2167.33" x2="477.04" y2="2167.33" stroke="#000" stroke-width="2" stroke-linecap="butt"/>
<line x1="466.54" y1="2199.96" x2="477.04" y2="2199.96" stroke="#000" stroke-width="2" stroke-linecap="butt"/>
<line x1="480.2" y1="2172.35" x2="480.2" y2="2203.72" stroke="#000" stroke-width="2" stroke-linecap="butt"/>
<line x1="474.95" y1="2172.35" x2="485.45" y2="2172.35" stroke="#000" stroke-width="2" stroke-linecap="butt"/>
<line x1="474.95" y1="2203.72" x2="485.45" y2="2203.72" stroke="#000" stroke-width="2" stroke-linecap="butt"/>
<line x1="488.62" y1="2177.37" x2="488.62" y2="2207.49" stroke="#000" stroke-width="2" stroke-linecap="butt"/>
<line x1="483.37" y1="2177.37" x2="493.87" y2="2177.37" stroke="#000" stroke-width="2" stroke-linecap="butt"/>
<line x1="483.37" y1="2207.49" x2="493.87" y2="2207.49" stroke="#000" stroke-width="2" stroke-linecap="butt"/>
<line x1="497.03" y1="2182.39" x2="497.03" y2="2211.25" stroke="#000" stroke-width="2" stroke-linecap="butt"/>
<line x1="491.78" y1="2182.39" x2="502.28" y2="2182.39" stroke="#000" stroke-width="2" stroke-linecap="butt"/>
<line x1="491.78" y1="2211.25" x2="502.28" y2="2211.25" stroke="#000" stroke-width="2" stroke-linecap="butt"/>
<line x1="505.45" y1="2187.41" x2="505.45" y2="2215.02" stroke="#000" stroke-width="2" stroke-linecap="butt"/>
<line x1="500.2" y1="2187.41" x2="510.7" y2="2187.41" stroke="#000" stroke-width="2" stroke-linecap="butt"/>
<line x1="500.2" y1="2215.02" x2="510.7" y2="2215.02" stroke="#000" stroke-width="2" stroke-linecap="butt"/>
<line x1="513.87" y1="2192.74" x2="513.87" y2="2219.1" stroke="#000" stroke-width="2" stroke-linecap="butt"/>
<line x1="508.62" y1="2192.74" x2="519.12" y2="2192.74" stroke="#000" stroke-width="2" stroke-linecap="butt"/>
<line x1="508.62" y1="2219.1" x2="519.12" y2="2219.1" stroke="#000" stroke-width="2" stroke-linecap="butt"/>
<line x1="522.28" y1="2198.07" x2="522.28" y2="2223.18" stroke="#000" stroke-width="2" stroke-linecap="butt"/>
<line x1="517.03" y1="2198.07" x2="527.53" y2="2198.07" stroke="#000" stroke-width="2" stroke-linecap="butt"/>
<line x1="517.03" y1="2223.18" x2="527.53" y2="2223.18" stroke="#000" stroke-width="2" stroke-linecap="butt"/>
<line x1="530.69" y1="2204.04" x2="530.69" y2="2227.88" stroke="#000" stroke-width="2" stroke-linecap="butt"/>
<line x1="525.44" y1="2204.04" x2="535.94" y2="2204.04" stroke="#000" stroke-width="2" stroke-linecap="butt"/>
<line x1="525.44" y1="2227.88" x2="535.94" y2="2227.88" stroke="#000" stroke-width="2" stroke-linecap="butt"/>
<line x1="539.11" y1="2210" x2="539.11" y2="2232.59" stroke="#000" stroke-width="2" stroke-linecap="butt"/>
<line x1="533.86" y1="2210" x2="544.36" y2="2210" stroke="#000" stroke-width="2" stroke-linecap="butt"/>
<line x1="533.86" y1="2232.59" x2="544.36" y2="2232.59" stroke="#000" stroke-width="2" stroke-linecap="butt"/>
<line x1="547.52" y1="2215.96" x2="547.52" y2="2237.29" stroke="#000" stroke-width="2" stroke-linecap="butt"/>
<line x1="542.27" y1="2215.96" x2="552.77" y2="2215.96" stroke="#000" stroke-width="2" stroke-linecap="butt"/>
<line x1="542.27" y1="2237.29" x2="552.77" y2="2237.29" stroke="#000" stroke-width="2" stroke-linecap="butt"/>
<line x1="555.94" y1="2221.92" x2="555.94" y2="2242" stroke="#000" stroke-width="2" stroke-linecap="butt"/>
<line x1="550.69" y1="2221.92" x2="561.19" y2="2221.92" stroke="#000" stroke-width="2" stroke-linecap="butt"/>
<line x1="550.69" y1="2242" x2="561.19" y2="2242" stroke="#000" stroke-width="2" stroke-linecap="butt"/>
<line x1="564.35" y1="2227.25" x2="564.35" y2="2246.08" stroke="#000" stroke-width="2" stroke-linecap="butt"/>
<line x1="559.1" y1="2227.25" x2="569.6" y2="2227.25" stroke="#000" stroke-width="2" stroke-linecap="butt"/>
<line x1="559.1" y1="2246.08" x2="569.6" y2="2246.08" stroke="#000" stroke-width="2" stroke-linecap="butt"/>
<line x1="572.77" y1="2232.59" x2="572.77" y2="2250.16" stroke="#000" stroke-width="2" stroke-linecap="butt"/>
<line x1="567.52" y1="2232.59" x2="578.02" y2="2232.59" stroke="#000" stroke-width="2" stroke-linecap="butt"/>
<line x1="567.52" y1="2250.16" x2="578.02" y2="2250.16" stroke="#000" stroke-width="2" stroke-linecap="butt"/>
<line x1="581.18" y1="2237.61" x2="581.18" y2="2253.92" stroke="#000" stroke-width="2" stroke-linecap="butt"/>
<line x1="575.93" y1="2237.61" x2="586.43" y2="2237.61" stroke="#000" stroke-width="2" stroke-linecap="butt"/>
<line x1="575.93" y1="2253.92" x2="586.43" y2="2253.92" stroke="#000" stroke-width="2" stroke-linecap="butt"/>
<line x1="589.6" y1="2242.63" x2="589.6" y2="2257.69" stroke="#000" stroke-width="2" stroke-linecap="butt"/>
<line x1="584.35" y1="2242.63" x2="594.85" y2="2242.63" stroke="#000" stroke-width="2" stroke-linecap="butt"/>
<line x1="584.35" y1="2257.69" x2="594.85" y2="2257.69" stroke="#000" stroke-width="2" stroke-linecap="butt"/>
<line x1="598.01" y1="2247.08" x2="598.01" y2="2261.39" stroke="#000" stroke-width="2" stroke-linecap="butt"/>
<line x1="592.76" y1="2247.08" x2="603.26" y2="2247.08" stroke="#000" stroke-width="2" stroke-linecap="butt"/>
<line x1="592.76" y1="2261.39" x2="603.26" y2="2261.39" stroke="#000" stroke-width="2" stroke-linecap="butt"/>
<line x1="606.43" y1="2251.54" x2="606.43" y2="2265.09" stroke="#000" stroke-width="2" stroke-linecap="butt"/>
<line x1="601.18" y1="2251.54" x2="611.68" y2="2251.54" stroke="#000" stroke-width="2" stroke-linecap="butt"/>
<line x1="601.18" y1="2265.09" x2="611.68" y2="2265.09" stroke="#000" stroke-width="2" stroke-linecap="butt"/>
<line x1="614.84" y1="2255.68" x2="614.84" y2="2268.48" stroke="#000" stroke-width="2" stroke-linecap="butt"/>
<line x1="609.59" y1="2255.68" x2="620.09" y2="2255.68" stroke="#000" stroke-width="2" stroke-linecap="butt"/>
<line x1="609.59" y1="2268.48" x2="620.09" y2="2268.48" stroke="#000" stroke-width="2" stroke-linecap="butt"/>
<line x1="623.26" y1="2259.82" x2="623.26" y2="2271.87" stroke="#000" stroke-width="2" stroke-linecap="butt"/>
<line x1="618.01" y1="2259.82" x2="628.51" y2="2259.82" stroke="#000" stroke-width="2" stroke-linecap="butt"/>
<line x1="618.01" y1="2271.87" x2="628.51" y2="2271.87" stroke="#000" stroke-width="2" stroke-linecap="butt"/>
<line x1="631.67" y1="2263.96" x2="631.67" y2="2275.26" stroke="#000" stroke-width="2" stroke-linecap="butt"/>
<line x1="626.42" y1="2263.96" x2="636.92" y2="2263.96" stroke="#000" stroke-width="2" stroke-linecap="butt"/>
<line x1="626.42" y1="2275.26" x2="636.92" y2="2275.26" stroke="#000" stroke-width="2" stroke-linecap="butt"/>
<line x1="640.09" y1="2268.1" x2="640.09" y2="2278.65" stroke="#000" stroke-width="2" stroke-linecap="butt"/>
<line x1="634.84" y1="2268.1" x2="645.34" y2="2268.1" stroke="#000" stroke-width="2" stroke-linecap="butt"/>
<line x1="634.84" y1="2278.65" x2="645.34" y2="2278.65" stroke="#000" stroke-width="2" stroke-linecap="butt"/>
<line x1="648.5" y1="2271.93" x2="648.5" y2="2281.72" stroke="#000" stroke-width="2" stroke-linecap="butt"/>
<line x1="643.25" y1="2271.93" x2="653.75" y2="2271.93" stroke="#000" stroke-width="2" stroke-linecap="butt"/>
<line x1="643.25" y1="2281.72" x2="653.75" y2="2281.72" stroke="#000" stroke-width="2" stroke-linecap="butt"/>
<line x1="656.92" y1="2275.76" x2="656.92" y2="2284.8" stroke="#000" stroke-width="2" stroke-linecap="butt"/>
<line x1="651.67" y1="2275.76" x2="662.17" y2="2275.76" stroke="#000" stroke-width="2" stroke-linecap="butt"/>
<line x1="651.67" y1="2284.8" x2="662.17" y2="2284.8" stroke="#000" stroke-width="2" stroke-linecap="butt"/>
<line x1="665.33" y1="2278.96" x2="665.33" y2="2287.24" stroke="#000" stroke-width="2" stroke-linecap="butt"/>
<line x1="660.08" y1="2278.96" x2="670.58" y2="2278.96" stroke="#000" stroke-width="2" stroke-linecap="butt"/>
<line x1="660.08" y1="2287.24" x2="670.58" y2="2287.24" stroke="#000" stroke-width="2" stroke-linecap="butt"/>
<line x1="673.75" y1="2282.16" x2="673.75" y2="2289.69" stroke="#000" stroke-width="2" stroke-linecap="butt"/>
<line x1="668.5" y1="2282.16" x2="679" y2="2282.16" stroke="#000" stroke-width="2" stroke-linecap="butt"/>
<line x1="668.5" y1="2289.69" x2="679" y2="2289.69" stroke="#000" stroke-width="2" stroke-linecap="butt"/>
<line x1="177.26" y1="2311.03" x2="177.26" y2="2317.3" stroke="#000" stroke-width="2" stroke-linecap="butt"/>
<line x1="172.01" y1="2311.03" x2="182.51" y2="2311.03" stroke="#000" stroke-width="2" stroke-linecap="butt"/>
<line x1="172.01" y1="2317.3" x2="182.51" y2="2317.3" stroke="#000" stroke-width="2" stroke-linecap="butt"/>
<line x1="185.68" y1="2213.76" x2="185.68" y2="2245.14" stroke="#000" stroke-width="2" stroke-linecap="butt"/>
<line x1="180.43" y1="2213.76" x2="190.93" y2="2213.76" stroke="#000" stroke-width="2" stroke-linecap="butt"/>
<line x1="180.43" y1="2245.14" x2="190.93" y2="2245.14" stroke="#000" stroke-width="2" stroke-linecap="butt"/>
<line x1="194.09" y1="2015.47" x2="194.09" y2="2078.22" stroke="#000" stroke-width="2" stroke-linecap="butt"/>
<line x1="188.84" y1="2015.47" x2="199.34" y2="2015.47" stroke="#000" stroke-width="2" stroke-linecap="butt"/>
<line x1="188.84" y1="2078.22" x2="199.34" y2="2078.22" stroke="#000" stroke-width="2" stroke-linecap="butt"/>
<line x1="202.51" y1="1939.55" x2="202.51" y2="2008.57" stroke="#000" stroke-width="2" stroke-linecap="butt"/>
<line x1="197.26" y1="1939.55" x2="207.76" y2="1939.55" stroke="#000" stroke-width="2" stroke-linecap="butt"/>
<line x1="197.26" y1="2008.57" x2="207.76" y2="2008.57" stroke="#000" stroke-width="2" stroke-linecap="butt"/>
<line x1="210.92" y1="1953.98" x2="210.92" y2="2020.49" stroke="#000" stroke-width="2" stroke-linecap="butt"/>
<line x1="205.67" y1="1953.98" x2="216.17" y2="1953.98" stroke="#000" stroke-width="2" stroke-linecap="butt"/>
<line x1="205.67" y1="2020.49" x2="216.17" y2="2020.49" stroke="#000" stroke-width="2" stroke-linecap="butt"/>
<line x1="219.34" y1="1991" x2="219.34" y2="2053.75" stroke="#000" stroke-width="2" stroke-linecap="butt"/>
<line x1="214.09" y1="1991" x2="224.59" y2="1991" stroke="#000" stroke-width="2" stroke-linecap="butt"/>
<line x1="214.09" y1="2053.75" x2="224.59" y2="2053.75" stroke="#000" stroke-width="2" stroke-linecap="butt"/>
<line x1="227.75" y1="2038.06" x2="227.75" y2="2094.54" stroke="#000" stroke-width="2" stroke-linecap="butt"/>
<line x1="222.5" y1="2038.06" x2="233" y2="2038.06" stroke="#000" stroke-width="2" stroke-linecap="butt"/>
<line x1="222.5" y1="2094.54" x2="233" y2="2094.54" stroke="#000" stroke-width="2" stroke-linecap="butt"/>
<line x1="236.17" y1="2074.46" x2="236.17" y2="2124.66" stroke="#000" stroke-width="2" stroke-linecap="butt"/>
<line x1="230.92" y1="2074.46" x2="241.42" y2="2074.46" stroke="#000" stroke-width="2" stroke-linecap="butt"/>
<line x1="230.92" y1="2124.66" x2="241.42" y2="2124.66" stroke="#000" stroke-width="2" stroke-linecap="butt"/>
<line x1="244.58" y1="2103.95" x2="244.58" y2="2151.64" stroke="#000" stroke-width="2" stroke-linecap="butt"/>
<line x1="239.33" y1="2103.95" x2="249.83" y2="2103.95" stroke="#000" stroke-width="2" stroke-linecap="butt"/>
<line x1="239.33" y1="2151.64" x2="249.83" y2="2151.64" stroke="#000" stroke-width="2" stroke-linecap="butt"/>
<line x1="253" y1="2119.01" x2="253" y2="2166.7" stroke="#000" stroke-width="2" stroke-linecap="butt"/>
<line x1="247.75" y1="2119.01" x2="258.25" y2="2119.01" stroke="#000" stroke-width="2" stroke-linecap="butt"/>
<line x1="247.75" y1="2166.7" x2="258.25" y2="2166.7" stroke="#000" stroke-width="2" stroke-linecap="butt"/>
<line x1="261.41" y1="2133.44" x2="261.41" y2="2181.13" stroke="#000" stroke-width="2" stroke-linecap="butt"/>
<line x1="256.16" y1="2133.44" x2="266.66" y2="2133.44" stroke="#000" stroke-width="2" stroke-linecap="butt"/>
<line x1="256.16" y1="2181.13" x2="266.66" y2="2181.13" stroke="#000" stroke-width="2" stroke-linecap="butt"/>
<line x1="269.83" y1="2139.09" x2="269.83" y2="2186.78" stroke="#000" stroke-width="2" stroke-linecap="butt"/>
<line x1="264.58" y1="2139.09" x2="275.08" y2="2139.09" stroke="#000" stroke-width="2" stroke-linecap="butt"/>
<line x1="264.58" y1="2186.78" x2="275.08" y2="2186.78" stroke="#000" stroke-width="2" stroke-linecap="butt"/>
<line x1="278.25" y1="2141.6" x2="278.25" y2="2189.29" stroke="#000" stroke-width="2" stroke-linecap="butt"/>
<line x1="273" y1="2141.6" x2="283.5" y2="2141.6" stroke="#000" stroke-width="2" stroke-linecap="butt"/>
<line x1="273" y1="2189.29" x2="283.5" y2="2189.29" stroke="#000" stroke-width="2" stroke-linecap="butt"/>
<line x1="286.66" y1="2142.23" x2="286.66" y2="2189.92" stroke="#000" stroke-width="2" stroke-linecap="butt"/>
<line x1="281.41" y1="2142.23" x2="291.91" y2="2142.23" stroke="#000" stroke-width="2" stroke-linecap="butt"/>
<line x1="281.41" y1="2189.92" x2="291.91" y2="2189.92" stroke="#000" stroke-width="2" stroke-linecap="butt"/>
<line x1="295.07" y1="2141.39" x2="295.07" y2="2189.5" stroke="#000" stroke-width="2" stroke-linecap="butt"/>
<line x1="289.82" y1="2141.39" x2="300.32" y2="2141.39" stroke="#000" stroke-width="2" stroke-linecap="butt"/>
<line x1="289.82" y1="2189.5" x2="300.32" y2="2189.5" stroke="#000" stroke-width="2" stroke-linecap="butt"/>
<line x1="303.49" y1="2139.3" x2="303.49" y2="2187.83" stroke="#000" stroke-width="2" stroke-linecap="butt"/>
<line x1="298.24" y1="2139.3" x2="308.74" y2="2139.3" stroke="#000" stroke-width="2" stroke-linecap="butt"/>
<line x1="298.24" y1="2187.83" x2="308.74" y2="2187.83" stroke="#000" stroke-width="2" stroke-linecap="butt"/>
<line x1="311.9" y1="2135.95" x2="311.9" y2="2184.9" stroke="#000" stroke-width="2" stroke-linecap="butt"/>
<line x1="306.65" y1="2135.95" x2="317.15" y2="2135.95" stroke="#000" stroke-width="2" stroke-linecap="butt"/>
<line x1="306.65" y1="2184.9" x2="317.15" y2="2184.9" stroke="#000" stroke-width="2" stroke-linecap="butt"/>
<line x1="320.32" y1="2133.23" x2="320.32" y2="2182.6" stroke="#000" stroke-width="2" stroke-linecap="butt"/>
<line x1="315.07" y1="2133.23" x2="325.57" y2="2133.23" stroke="#000" stroke-width="2" stroke-linecap="butt"/>
<line x1="315.07" y1="2182.6" x2="325.57" y2="2182.6" stroke="#000" stroke-width="2" stroke-linecap="butt"/>
<line x1="328.74" y1="2131.77" x2="328.74" y2="2181.55" stroke="#000" stroke-width="2" stroke-linecap="butt"/>
<line x1="323.49" y1="2131.77" x2="333.99" y2="2131.77" stroke="#000" stroke-width="2" stroke-linecap="butt"/>
<line x1="323.49" y1="2181.55" x2="333.99" y2="2181.55" stroke="#000" stroke-width="2" stroke-linecap="butt"/>
<line x1="337.15" y1="2130.31" x2="337.15" y2="2180.51" stroke="#000" stroke-width="2" stroke-linecap="butt"/>
<line x1="331.9" y1="2130.31" x2="342.4" y2="2130.31" stroke="#000" stroke-width="2" stroke-linecap="butt"/>
<line x1="331.9" y1="2180.51" x2="342.4" y2="2180.51" stroke="#000" stroke-width="2" stroke-linecap="butt"/>
<line x1="345.56" y1="2130.31" x2="345.56" y2="2180.51" stroke="#000" stroke-width="2" stroke-linecap="butt"/>
<line x1="340.31" y1="2130.31" x2="350.81" y2="2130.31" stroke="#000" stroke-width="2" stroke-linecap="butt"/>
<line x1="340.31" y1="2180.51" x2="350.81" y2="2180.51" stroke="#000" stroke-width="2" stroke-linecap="butt"/>
<line x1="353.98" y1="2130.31" x2="353.98" y2="2180.51" stroke="#000" stroke-width="2" stroke-linecap="butt"/>
<line x1="348.73" y1="2130.31" x2="359.23" y2="2130.31" stroke="#000" stroke-width="2" stroke-linecap="butt"/>
<line x1="348.73" y1="2180.51" x2="359.23" y2="2180.51" stroke="#000" stroke-width="2" stroke-linecap="butt"/>
<line x1="362.39" y1="2131.25" x2="362.39" y2="2181.45" stroke="#000" stroke-width="2" stroke-linecap="butt"/>
<line x1="357.14" y1="2131.25" x2="367.64" y2="2131.25" stroke="#000" stroke-width="2" stroke-linecap="butt"/>
<line x1="357.14" y1="2181.45" x2="367.64" y2="2181.45" stroke="#000" stroke-width="2" stroke-linecap="butt"/>
<line x1="370.81" y1="2132.19" x2="370.81" y2="2182.39" stroke="#000" stroke-width="2" stroke-linecap="butt"/>
<line x1="365.56" y1="2132.19" x2="376.06" y2="2132.19" stroke="#000" stroke-width="2" stroke-linecap="butt"/>
<line x1="365.56" y1="2182.39" x2="376.06" y2="2182.39" stroke="#000" stroke-width="2" stroke-linecap="butt"/>
<line x1="379.22" y1="2134.38" x2="379.22" y2="2184.58" stroke="#000" stroke-width="2" stroke-linecap="butt"/>
<line x1="373.97" y1="2134.38" x2="384.47" y2="2134.38" stroke="#000" stroke-width="2" stroke-linecap="butt"/>
<line x1="373.97" y1="2184.58" x2="384.47" y2="2184.58" stroke="#000" stroke-width="2" stroke-linecap="butt"/>
<line x1="387.64" y1="2136.58" x2="387.64" y2="2186.78" stroke="#000" stroke-width="2" stroke-linecap="butt"/>
<line x1="382.39" y1="2136.58" x2="392.89" y2="2136.58" stroke="#000" stroke-width="2" stroke-linecap="butt"/>
<line x1="382.39" y1="2186.78" x2="392.89" y2="2186.78" stroke="#000" stroke-width="2" stroke-linecap="butt"/>
<line x1="396.05" y1="2140.24" x2="396.05" y2="2190.02" stroke="#000" stroke-width="2" stroke-linecap="butt"/>
<line x1="390.8" y1="2140.24" x2="401.3" y2="2140.24" stroke="#000" stroke-width="2" stroke-linecap="butt"/>
<line x1="390.8" y1="2190.02" x2="401.3" y2="2190.02" stroke="#000" stroke-width="2" stroke-linecap="butt"/>
<line x1="404.47" y1="2143.9" x2="404.47" y2="2193.26" stroke="#000" stroke-width="2" stroke-linecap="butt"/>
<line x1="399.22" y1="2143.9" x2="409.72" y2="2143.9" stroke="#000" stroke-width="2" stroke-linecap="butt"/>
<line x1="399.22" y1="2193.26" x2="409.72" y2="2193.26" stroke="#000" stroke-width="2" stroke-linecap="butt"/>
<line x1="412.88" y1="2148.82" x2="412.88" y2="2197.76" stroke="#000" stroke-width="2" stroke-linecap="butt"/>
<line x1="407.63" y1="2148.82" x2="418.13" y2="2148.82" stroke="#000" stroke-width="2" stroke-linecap="butt"/>
<line x1="407.63" y1="2197.76" x2="418.13" y2="2197.76" stroke="#000" stroke-width="2" stroke-linecap="butt"/>
<line x1="421.3" y1="2153.73" x2="421.3" y2="2202.26" stroke="#000" stroke-width="2" stroke-linecap="butt"/>
<line x1="416.05" y1="2153.73" x2="426.55" y2="2153.73" stroke="#000" stroke-width="2" stroke-linecap="butt"/>
<line x1="416.05" y1="2202.26" x2="426.55" y2="2202.26" stroke="#000" stroke-width="2" stroke-linecap="butt"/>
<line x1="429.71" y1="2158.65" x2="429.71" y2="2206.76" stroke="#000" stroke-width="2" stroke-linecap="butt"/>
<line x1="424.46" y1="2158.65" x2="434.96" y2="2158.65" stroke="#000" stroke-width="2" stroke-linecap="butt"/>
<line x1="424.46" y1="2206.76" x2="434.96" y2="2206.76" stroke="#000" stroke-width="2" stroke-linecap="butt"/>
<line x1="438.13" y1="2163.56" x2="438.13" y2="2211.25" stroke="#000" stroke-width="2" stroke-linecap="butt"/>
<line x1="432.88" y1="2163.56" x2="443.38" y2="2163.56" stroke="#000" stroke-width="2" stroke-linecap="butt"/>
<line x1="432.88" y1="2211.25" x2="443.38" y2="2211.25" stroke="#000" stroke-width="2" stroke-linecap="butt"/>
<line x1="446.54" y1="2168.58" x2="446.54" y2="2215.02" stroke="#000" stroke-width="2" stroke-linecap="butt"/>
<line x1="441.29" y1="2168.58" x2="451.79" y2="2168.58" stroke="#000" stroke-width="2" stroke-linecap="butt"/>
<line x1="441.29" y1="2215.02" x2="451.79" y2="2215.02" stroke="#000" stroke-width="2" stroke-linecap="butt"/>
<line x1="454.96" y1="2173.6" x2="454.96" y2="2218.78" stroke="#000" stroke-width="2" stroke-linecap="butt"/>
<line x1="449.71" y1="2173.6" x2="460.21" y2="2173.6" stroke="#000" stroke-width="2" stroke-linecap="butt"/>
<line x1="449.71" y1="2218.78" x2="460.21" y2="2218.78" stroke="#000" stroke-width="2" stroke-linecap="butt"/>
<line x1="463.38" y1="2178.94" x2="463.38" y2="2222.86" stroke="#000" stroke-width="2" stroke-linecap="butt"/>
<line x1="458.12" y1="2178.94" x2="468.62" y2="2178.94" stroke="#000" stroke-width="2" stroke-linecap="butt"/>
<line x1="458.12" y1="2222.86" x2="468.62" y2="2222.86" stroke="#000" stroke-width="2" stroke-linecap="butt"/>
<line x1="471.79" y1="2184.27" x2="471.79" y2="2226.94" stroke="#000" stroke-width="2" stroke-linecap="butt"/>
<line x1="466.54" y1="2184.27" x2="477.04" y2="2184.27" stroke="#000" stroke-width="2" stroke-linecap="butt"/>
<line x1="466.54" y1="2226.94" x2="477.04" y2="2226.94" stroke="#000" stroke-width="2" stroke-linecap="butt"/>
<line x1="480.2" y1="2189.92" x2="480.2" y2="2231.33" stroke="#000" stroke-width="2" stroke-linecap="butt"/>
<line x1="474.95" y1="2189.92" x2="485.45" y2="2189.92" stroke="#000" stroke-width="2" stroke-linecap="butt"/>
<line x1="474.95" y1="2231.33" x2="485.45" y2="2231.33" stroke="#000" stroke-width="2" stroke-linecap="butt"/>
<line x1="488.62" y1="2195.57" x2="488.62" y2="2235.72" stroke="#000" stroke-width="2" stroke-linecap="butt"/>
<line x1="483.37" y1="2195.57" x2="493.87" y2="2195.57" stroke="#000" stroke-width="2" stroke-linecap="butt"/>
<line x1="483.37" y1="2235.72" x2="493.87" y2="2235.72" stroke="#000" stroke-width="2" stroke-linecap="butt"/>
<line x1="497.03" y1="2200.27" x2="497.03" y2="2239.18" stroke="#000" stroke-width="2" stroke-linecap="butt"/>
<line x1="491.78" y1="2200.27" x2="502.28" y2="2200.27" stroke="#000" stroke-width="2" stroke-linecap="butt"/>
<line x1="491.78" y1="2239.18" x2="502.28" y2="2239.18" stroke="#000" stroke-width="2" stroke-linecap="butt"/>
<line x1="505.45" y1="2204.98" x2="505.45" y2="2242.63" stroke="#000" stroke-width="2" stroke-linecap="butt"/>
<line x1="500.2" y1="2204.98" x2="510.7" y2="2204.98" stroke="#000" stroke-width="2" stroke-linecap="butt"/>
<line x1="500.2" y1="2242.63" x2="510.7" y2="2242.63" stroke="#000" stroke-width="2" stroke-linecap="butt"/>
<line x1="513.87" y1="2210.62" x2="513.87" y2="2246.39" stroke="#000" stroke-width="2" stroke-linecap="butt"/>
<line x1="508.62" y1="2210.62" x2="519.12" y2="2210.62" stroke="#000" stroke-width="2" stroke-linecap="butt"/>
<line x1="508.62" y1="2246.39" x2="519.12" y2="2246.39" stroke="#000" stroke-width="2" stroke-linecap="butt"/>
<line x1="522.28" y1="2216.27" x2="522.28" y2="2250.16" stroke="#000" stroke-width="2" stroke-linecap="butt"/>
<line x1="517.03" y1="2216.27" x2="527.53" y2="2216.27" stroke="#000" stroke-width="2" stroke-linecap="butt"/>
<line x1="517.03" y1="2250.16" x2="527.53" y2="2250.16" stroke="#000" stroke-width="2" stroke-linecap="butt"/>
<line x1="530.69" y1="2221.92" x2="530.69" y2="2253.92" stroke="#000" stroke-width="2" stroke-linecap="butt"/>
<line x1="525.44" y1="2221.92" x2="535.94" y2="2221.92" stroke="#000" stroke-width="2" stroke-linecap="butt"/>
<line x1="525.44" y1="2253.92" x2="535.94" y2="2253.92" stroke="#000" stroke-width="2" stroke-linecap="butt"/>
<line x1="539.11" y1="2227.57" x2="539.11" y2="2257.69" stroke="#000" stroke-width="2" stroke-linecap="butt"/>
<line x1="533.86" y1="2227.57" x2="544.36" y2="2227.57" stroke="#000" stroke-width="2" stroke-linecap="butt"/>
<line x1="533.86" y1="2257.69" x2="544.36" y2="2257.69" stroke="#000" stroke-width="2" stroke-linecap="butt"/>
<line x1="547.52" y1="2232.59" x2="547.52" y2="2260.83" stroke="#000" stroke-width="2" stroke-linecap="butt"/>
<line x1="542.27" y1="2232.59" x2="552.77" y2="2232.59" stroke="#000" stroke-width="2" stroke-linecap="butt"/>
<line x1="542.27" y1="2260.83" x2="552.77" y2="2260.83" stroke="#000" stroke-width="2" stroke-linecap="butt"/>
<line x1="555.94" y1="2237.61" x2="555.94" y2="2263.96" stroke="#000" stroke-width="2" stroke-linecap="butt"/>
<line x1="550.69" y1="2237.61" x2="561.19" y2="2237.61" stroke="#000" stroke-width="2" stroke-linecap="butt"/>
<line x1="550.69" y1="2263.96" x2="561.19" y2="2263.96" stroke="#000" stroke-width="2" stroke-linecap="butt"/>
<line x1="564.35" y1="2242.63" x2="564.35" y2="2267.1" stroke="#000" stroke-width="2" stroke-linecap="butt"/>
<line x1="559.1" y1="2242.63" x2="569.6" y2="2242.63" stroke="#000" stroke-width="2" stroke-linecap="butt"/>
<line x1="559.1" y1="2267.1" x2="569.6" y2="2267.1" stroke="#000" stroke-width="2" stroke-linecap="butt"/>
<line x1="572.77" y1="2247.65" x2="572.77" y2="2270.24" stroke="#000" stroke-width="2" stroke-linecap="butt"/>
<line x1="567.52" y1="2247.65" x2="578.02" y2="2247.65" stroke="#000" stroke-width="2" stroke-linecap="butt"/>
<line x1="567.52" y1="2270.24" x2="578.02" y2="2270.24" stroke="#000" stroke-width="2" stroke-linecap="butt"/>
<line x1="581.18" y1="2252.35" x2="581.18" y2="2273.06" stroke="#000" stroke-width="2" stroke-linecap="butt"/>
<line x1="575.93" y1="2252.35" x2="586.43" y2="2252.35" stroke="#000" stroke-width="2" stroke-linecap="butt"/>
<line x1="575.93" y1="2273.06" x2="586.43" y2="2273.06" stroke="#000" stroke-width="2" stroke-linecap="butt"/>
<line x1="589.6" y1="2257.06" x2="589.6" y2="2275.89" stroke="#000" stroke-width="2" stroke-linecap="butt"/>
<line x1="584.35" y1="2257.06" x2="594.85" y2="2257.06" stroke="#000" stroke-width="2" stroke-linecap="butt"/>
<line x1="584.35" y1="2275.89" x2="594.85" y2="2275.89" stroke="#000" stroke-width="2" stroke-linecap="butt"/>
<line x1="598.01" y1="2260.95" x2="598.01" y2="2278.9" stroke="#000" stroke-width="2" stroke-linecap="butt"/>
<line x1="592.76" y1="2260.95" x2="603.26" y2="2260.95" stroke="#000" stroke-width="2" stroke-linecap="butt"/>
<line x1="592.76" y1="2278.9" x2="603.26" y2="2278.9" stroke="#000" stroke-width="2" stroke-linecap="butt"/>
<line x1="606.43" y1="2264.84" x2="606.43" y2="2281.91" stroke="#000" stroke-width="2" stroke-linecap="butt"/>
<line x1="601.18" y1="2264.84" x2="611.68" y2="2264.84" stroke="#000" stroke-width="2" stroke-linecap="butt"/>
<line x1="601.18" y1="2281.91" x2="611.68" y2="2281.91" stroke="#000" stroke-width="2" stroke-linecap="butt"/>
<line x1="614.84" y1="2268.42" x2="614.84" y2="2284.61" stroke="#000" stroke-width="2" stroke-linecap="butt"/>
<line x1="609.59" y1="2268.42" x2="620.09" y2="2268.42" stroke="#000" stroke-width="2" stroke-linecap="butt"/>
<line x1="609.59" y1="2284.61" x2="620.09" y2="2284.61" stroke="#000" stroke-width="2" stroke-linecap="butt"/>
<line x1="623.26" y1="2271.99" x2="623.26" y2="2287.31" stroke="#000" stroke-width="2" stroke-linecap="butt"/>
<line x1="618.01" y1="2271.99" x2="628.51" y2="2271.99" stroke="#000" stroke-width="2" stroke-linecap="butt"/>
<line x1="618.01" y1="2287.31" x2="628.51" y2="2287.31" stroke="#000" stroke-width="2" stroke-linecap="butt"/>
<line x1="631.67" y1="2275.57" x2="631.67" y2="2290" stroke="#000" stroke-width="2" stroke-linecap="butt"/>
<line x1="626.42" y1="2275.57" x2="636.92" y2="2275.57" stroke="#000" stroke-width="2" stroke-linecap="butt"/>
<line x1="626.42" y1="2290" x2="636.92" y2="2290" stroke="#000" stroke-width="2" stroke-linecap="butt"/>
<line x1="640.09" y1="2279.15" x2="640.09" y2="2292.7" stroke="#000" stroke-width="2" stroke-linecap="butt"/>
<line x1="634.84" y1="2279.15" x2="645.34" y2="2279.15" stroke="#000" stroke-width="2" stroke-linecap="butt"/>
<line x1="634.84" y1="2292.7" x2="645.34" y2="2292.7" stroke="#000" stroke-width="2" stroke-linecap="butt"/>
<line x1="648.5" y1="2282.72" x2="648.5" y2="2295.4" stroke="#000" stroke-width="2" stroke-linecap="butt"/>
<line x1="643.25" y1="2282.72" x2="653.75" y2="2282.72" stroke="#000" stroke-width="2" stroke-linecap="butt"/>
<line x1="643.25" y1="2295.4" x2="653.75" y2="2295.4" stroke="#000" stroke-width="2" stroke-linecap="butt"/>
<line x1="656.92" y1="2286.3" x2="656.92" y2="2298.1" stroke="#000" stroke-width="2" stroke-linecap="butt"/>
<line x1="651.67" y1="2286.3" x2="662.17" y2="2286.3" stroke="#000" stroke-width="2" stroke-linecap="butt"/>
<line x1="651.67" y1="2298.1" x2="662.17" y2="2298.1" stroke="#000" stroke-width="2" stroke-linecap="butt"/>
<line x1="665.33" y1="2289.88" x2="665.33" y2="2300.8" stroke="#000" stroke-width="2" stroke-linecap="butt"/>
<line x1="660.08" y1="2289.88" x2="670.58" y2="2289.88" stroke="#000" stroke-width="2" stroke-linecap="butt"/>
<line x1="660.08" y1="2300.8" x2="670.58" y2="2300.8" stroke="#000" stroke-width="2" stroke-linecap="butt"/>
<line x1="673.75" y1="2293.45" x2="673.75" y2="2303.49" stroke="#000" stroke-width="2" stroke-linecap="butt"/>
<line x1="668.5" y1="2293.45" x2="679" y2="2293.45" stroke="#000" stroke-width="2" stroke-linecap="butt"/>
<line x1="668.5" y1="2303.49" x2="679" y2="2303.49" stroke="#000" stroke-width="2" stroke-linecap="butt"/>
<polygon points="177.26,2307.46 184.06,2320.86 170.46,2320.86" fill="#3aae83"/>
<polygon points="185.68,2222.75 192.48,2236.15 178.88,2236.15" fill="#3aae83"/>
<polygon points="194.09,2040.15 200.9,2053.55 187.29,2053.55" fill="#3aae83"/>
<polygon points="202.51,1967.36 209.31,1980.76 195.71,1980.76" fill="#3aae83"/>
<polygon points="210.92,1980.54 217.72,1993.94 204.12,1993.94" fill="#3aae83"/>
<polygon points="219.34,2015.67 226.14,2029.08 212.54,2029.08" fill="#3aae83"/>
<polygon points="227.75,2059.6 234.56,2073 220.95,2073" fill="#3aae83"/>
<polygon points="236.17,2092.86 242.97,2106.26 229.37,2106.26" fill="#3aae83"/>
<polygon points="244.58,2121.1 251.38,2134.49 237.78,2134.49" fill="#3aae83"/>
<polygon points="253,2136.16 259.8,2149.55 246.2,2149.55" fill="#3aae83"/>
<polygon points="261.41,2150.59 268.21,2163.99 254.61,2163.99" fill="#3aae83"/>
<polygon points="269.83,2156.24 276.63,2169.63 263.03,2169.63" fill="#3aae83"/>
<polygon points="278.25,2158.75 285.05,2172.14 271.44,2172.14" fill="#3aae83"/>
<polygon points="286.66,2159.37 293.46,2172.77 279.86,2172.77" fill="#3aae83"/>
<polygon points="295.07,2158.75 301.88,2172.14 288.27,2172.14" fill="#3aae83"/>
<polygon points="303.49,2156.86 310.29,2170.26 296.69,2170.26" fill="#3aae83"/>
<polygon points="311.9,2153.73 318.7,2167.12 305.1,2167.12" fill="#3aae83"/>
<polygon points="320.32,2151.22 327.12,2164.61 313.52,2164.61" fill="#3aae83"/>
<polygon points="328.74,2149.96 335.54,2163.36 321.94,2163.36" fill="#3aae83"/>
<polygon points="337.15,2148.71 343.95,2162.11 330.35,2162.11" fill="#3aae83"/>
<polygon points="345.56,2148.71 352.36,2162.11 338.76,2162.11" fill="#3aae83"/>
<polygon points="353.98,2148.71 360.78,2162.11 347.18,2162.11" fill="#3aae83"/>
<polygon points="362.39,2149.65 369.19,2163.05 355.59,2163.05" fill="#3aae83"/>
<polygon points="370.81,2150.59 377.61,2163.99 364.01,2163.99" fill="#3aae83"/>
<polygon points="379.22,2152.78 386.02,2166.18 372.42,2166.18" fill="#3aae83"/>
<polygon points="387.64,2154.98 394.44,2168.38 380.84,2168.38" fill="#3aae83"/>
<polygon points="396.05,2158.43 402.85,2171.83 389.25,2171.83" fill="#3aae83"/>
<polygon points="404.47,2161.88 411.27,2175.28 397.67,2175.28" fill="#3aae83"/>
<polygon points="412.88,2166.59 419.69,2179.99 406.08,2179.99" fill="#3aae83"/>
<polygon points="421.3,2171.3 428.1,2184.69 414.5,2184.69" fill="#3aae83"/>
<polygon points="429.71,2176 436.51,2189.4 422.91,2189.4" fill="#3aae83"/>
<polygon points="438.13,2180.71 444.93,2194.11 431.33,2194.11" fill="#3aae83"/>
<polygon points="446.54,2185.1 453.34,2198.5 439.74,2198.5" fill="#3aae83"/>
<polygon points="454.96,2189.49 461.76,2202.89 448.16,2202.89" fill="#3aae83"/>
<polygon points="463.38,2194.2 470.18,2207.6 456.57,2207.6" fill="#3aae83"/>
<polygon points="471.79,2198.91 478.59,2212.3 464.99,2212.3" fill="#3aae83"/>
<polygon points="480.2,2203.93 487,2217.32 473.4,2217.32" fill="#3aae83"/>
<polygon points="488.62,2208.95 495.42,2222.34 481.82,2222.34" fill="#3aae83"/>
<polygon points="497.03,2213.02 503.83,2226.42 490.23,2226.42" fill="#3aae83"/>
<polygon points="505.45,2217.1 512.25,2230.5 498.65,2230.5" fill="#3aae83"/>
<polygon points="513.87,2221.81 520.66,2235.21 507.06,2235.21" fill="#3aae83"/>
<polygon points="522.28,2226.52 529.08,2239.91 515.48,2239.91" fill="#3aae83"/>
<polygon points="530.69,2231.22 537.49,2244.62 523.89,2244.62" fill="#3aae83"/>
<polygon points="539.11,2235.93 545.91,2249.33 532.31,2249.33" fill="#3aae83"/>
<polygon points="547.52,2240.01 554.32,2253.41 540.73,2253.41" fill="#3aae83"/>
<polygon points="555.94,2244.09 562.74,2257.49 549.14,2257.49" fill="#3aae83"/>
<polygon points="564.35,2248.16 571.15,2261.56 557.55,2261.56" fill="#3aae83"/>
<polygon points="572.77,2252.24 579.57,2265.64 565.97,2265.64" fill="#3aae83"/>
<polygon points="581.18,2256.01 587.98,2269.41 574.38,2269.41" fill="#3aae83"/>
<polygon points="589.6,2259.77 596.4,2273.17 582.8,2273.17" fill="#3aae83"/>
<polygon points="598.01,2263.22 604.81,2276.62 591.22,2276.62" fill="#3aae83"/>
<polygon points="606.43,2266.68 613.23,2280.07 599.63,2280.07" fill="#3aae83"/>
<polygon points="614.84,2269.81 621.64,2283.21 608.04,2283.21" fill="#3aae83"/>
<polygon points="623.26,2272.95 630.06,2286.35 616.46,2286.35" fill="#3aae83"/>
<polygon points="631.67,2276.09 638.47,2289.49 624.88,2289.49" fill="#3aae83"/>
<polygon points="640.09,2279.23 646.89,2292.62 633.29,2292.62" fill="#3aae83"/>
<polygon points="648.5,2282.36 655.3,2295.76 641.71,2295.76" fill="#3aae83"/>
<polygon points="656.92,2285.5 663.72,2298.9 650.12,2298.9" fill="#3aae83"/>
<polygon points="665.33,2288.64 672.13,2302.04 658.53,2302.04" fill="#3aae83"/>
<polygon points="673.75,2291.78 680.55,2305.17 666.95,2305.17" fill="#3aae83"/>
<circle cx="465.1" cy="1938.4" r="6.8" fill="#000"/>
<rect x="459.6" y="1979.6" width="13.6" height="13.6" fill="#027a56"/>
<polygon points="466.4,2027.1 473.3,2040.9 459.5,2040.9" fill="#3aae83"/>
<polygon points="466.4,2088.2 473.3,2075.4 459.5,2075.4" fill="#53298c"/>
<text x="516.5" y="1949.2" font-size="32.5" font-style="italic">GUS</text>
<text x="516.5" y="1997.1" font-size="32.5" font-style="italic">MIK2</text>
<text x="516.5" y="2045.1" font-size="32.5" font-style="italic">MIK2:EFR</text>
<text x="516.5" y="2093" font-size="32.5" font-style="italic">EFR:MIK2</text>
<text x="678" y="1891" font-size="43" font-weight="bold">h</text>
<line x1="815.8" y1="1902.3" x2="815.8" y2="2320.5" stroke="#000" stroke-width="4.2" stroke-linecap="butt"/>
<line x1="796.7" y1="2318.5" x2="1169" y2="2318.5" stroke="#000" stroke-width="4.2" stroke-linecap="butt"/>
<text x="795" y="2330" font-size="33" text-anchor="end">0</text>
<line x1="796.7" y1="2214.95" x2="815.8" y2="2214.95" stroke="#000" stroke-width="4.2" stroke-linecap="butt"/>
<text x="795" y="2226.45" font-size="33" text-anchor="end">1</text>
<line x1="796.7" y1="2111.4" x2="815.8" y2="2111.4" stroke="#000" stroke-width="4.2" stroke-linecap="butt"/>
<text x="795" y="2122.9" font-size="33" text-anchor="end">2</text>
<line x1="796.7" y1="2007.85" x2="815.8" y2="2007.85" stroke="#000" stroke-width="4.2" stroke-linecap="butt"/>
<text x="795" y="2019.35" font-size="33" text-anchor="end">3</text>
<line x1="796.7" y1="1904.3" x2="815.8" y2="1904.3" stroke="#000" stroke-width="4.2" stroke-linecap="butt"/>
<text x="795" y="1915.8" font-size="33" text-anchor="end">4</text>
<line x1="870.6" y1="2318.5" x2="870.6" y2="2335.5" stroke="#000" stroke-width="4.2" stroke-linecap="butt"/>
<line x1="950.8" y1="2318.5" x2="950.8" y2="2335.5" stroke="#000" stroke-width="4.2" stroke-linecap="butt"/>
<line x1="1031.8" y1="2318.5" x2="1031.8" y2="2335.5" stroke="#000" stroke-width="4.2" stroke-linecap="butt"/>
<line x1="1114.2" y1="2318.5" x2="1114.2" y2="2335.5" stroke="#000" stroke-width="4.2" stroke-linecap="butt"/>
<text transform="translate(881.6 2340) rotate(-90) scale(0.9680 1)" font-size="33" text-anchor="end" font-style="italic">GUS</text>
<text transform="translate(961.8 2340) rotate(-90)" font-size="33" text-anchor="end" font-style="italic">MIK2</text>
<text transform="translate(1042.8 2340) rotate(-90)" font-size="33" text-anchor="end" font-style="italic">MIK2:EFR</text>
<text transform="translate(1125.2 2340) rotate(-90)" font-size="33" text-anchor="end" font-style="italic">EFR:MIK2</text>
<text transform="translate(745.1 2112.8) rotate(-90) scale(0.9840 1)" font-size="33.3" text-anchor="middle">Cumulative RLU (x10<tspan font-size="19.3" dy="-11.2">5</tspan><tspan dy="11.2">)</tspan></text>
<text transform="translate(957.8 1901.2) rotate(-90) scale(0.9550 1)" font-size="28" text-anchor="middle">&lt;0.001</text>
<text transform="translate(1040 1901.2) rotate(-90) scale(0.9550 1)" font-size="28" text-anchor="middle">&lt;0.001</text>
<text transform="translate(1123.2 1908) rotate(-90)" font-size="28" text-anchor="middle">0.999</text>
<circle cx="869.3" cy="2294" r="8.6" fill="#000"/>
<circle cx="855" cy="2310" r="8.6" fill="#000"/>
<circle cx="862" cy="2312" r="8.6" fill="#000"/>
<circle cx="870" cy="2309" r="8.6" fill="#000"/>
<circle cx="878" cy="2312" r="8.6" fill="#000"/>
<circle cx="886" cy="2310" r="8.6" fill="#000"/>
<circle cx="858" cy="2314" r="8.6" fill="#000"/>
<circle cx="875" cy="2314" r="8.6" fill="#000"/>
<circle cx="884" cy="2315" r="8.6" fill="#000"/>
<circle cx="865" cy="2315" r="8.6" fill="#000"/>
<circle cx="850" cy="2313" r="8.6" fill="#000"/>
<circle cx="890" cy="2314" r="8.6" fill="#000"/>
<line x1="852" y1="2311" x2="889" y2="2311" stroke="#000" stroke-width="4" stroke-linecap="butt"/>
<rect x="942.2" y="2011.2" width="17.6" height="17.6" fill="#027a56"/>
<rect x="948.2" y="2038.9" width="17.6" height="17.6" fill="#027a56"/>
<rect x="936.3" y="2044.4" width="17.6" height="17.6" fill="#027a56"/>
<rect x="936.3" y="2072.4" width="17.6" height="17.6" fill="#027a56"/>
<rect x="948.2" y="2073.5" width="17.6" height="17.6" fill="#027a56"/>
<rect x="960.6" y="2074.7" width="17.6" height="17.6" fill="#027a56"/>
<rect x="924.3" y="2089.8" width="17.6" height="17.6" fill="#027a56"/>
<rect x="936.3" y="2092.8" width="17.6" height="17.6" fill="#027a56"/>
<rect x="948.2" y="2092.8" width="17.6" height="17.6" fill="#027a56"/>
<rect x="936.3" y="2132.3" width="17.6" height="17.6" fill="#027a56"/>
<rect x="948.2" y="2143.4" width="17.6" height="17.6" fill="#027a56"/>
<rect x="924.3" y="2153.2" width="17.6" height="17.6" fill="#027a56"/>
<rect x="936.3" y="2154.8" width="17.6" height="17.6" fill="#027a56"/>
<rect x="948.2" y="2163.8" width="17.6" height="17.6" fill="#027a56"/>
<rect x="924.3" y="2175.3" width="17.6" height="17.6" fill="#027a56"/>
<rect x="936.3" y="2173.5" width="17.6" height="17.6" fill="#027a56"/>
<rect x="936.3" y="2192.2" width="17.6" height="17.6" fill="#027a56"/>
<rect x="948.2" y="2189.7" width="17.6" height="17.6" fill="#027a56"/>
<rect x="948.2" y="2218.6" width="17.6" height="17.6" fill="#027a56"/>
<rect x="936.3" y="2231.2" width="17.6" height="17.6" fill="#027a56"/>
<rect x="960.6" y="2234.2" width="17.6" height="17.6" fill="#027a56"/>
<rect x="936.3" y="2250.8" width="17.6" height="17.6" fill="#027a56"/>
<rect x="948.2" y="2257.2" width="17.6" height="17.6" fill="#027a56"/>
<rect x="942.2" y="2276.4" width="17.6" height="17.6" fill="#027a56"/>
<line x1="924" y1="2156.5" x2="978.4" y2="2156.5" stroke="#000" stroke-width="5.6" stroke-linecap="butt"/>
<line x1="950.8" y1="2080.3" x2="950.8" y2="2233" stroke="#000" stroke-width="4.2" stroke-linecap="butt"/>
<line x1="944.5" y1="2080.3" x2="957.5" y2="2080.3" stroke="#000" stroke-width="4.2" stroke-linecap="round"/>
<line x1="944.5" y1="2233" x2="957.5" y2="2233" stroke="#000" stroke-width="4.2" stroke-linecap="round"/>
<polygon points="1031.8,1952.8 1040.4,1969.8 1023.2,1969.8" fill="#3aae83"/>
<polygon points="1031.8,2012.1 1040.4,2029.1 1023.2,2029.1" fill="#3aae83"/>
<polygon points="1031.8,2030.8 1040.4,2047.8 1023.2,2047.8" fill="#3aae83"/>
<polygon points="1023.4,2092.5 1032,2109.5 1014.8,2109.5" fill="#3aae83"/>
<polygon points="1014.5,2101 1023.1,2118 1005.9,2118" fill="#3aae83"/>
<polygon points="1050.5,2106.3 1059.1,2123.3 1041.9,2123.3" fill="#3aae83"/>
<polygon points="1041.5,2111.4 1050.1,2128.4 1032.9,2128.4" fill="#3aae83"/>
<polygon points="1032.5,2110.9 1041.1,2127.9 1023.9,2127.9" fill="#3aae83"/>
<polygon points="1023.4,2116.9 1032,2133.9 1014.8,2133.9" fill="#3aae83"/>
<polygon points="1023.4,2136.5 1032,2153.5 1014.8,2153.5" fill="#3aae83"/>
<polygon points="1041.5,2137.2 1050.1,2154.2 1032.9,2154.2" fill="#3aae83"/>
<polygon points="1032.5,2146.5 1041.1,2163.5 1023.9,2163.5" fill="#3aae83"/>
<polygon points="1032.5,2170.9 1041.1,2187.9 1023.9,2187.9" fill="#3aae83"/>
<polygon points="1041.5,2198.1 1050.1,2215.1 1032.9,2215.1" fill="#3aae83"/>
<polygon points="1050.5,2198.1 1059.1,2215.1 1041.9,2215.1" fill="#3aae83"/>
<polygon points="1023.4,2209.7 1032,2226.7 1014.8,2226.7" fill="#3aae83"/>
<polygon points="1032.5,2213.8 1041.1,2230.8 1023.9,2230.8" fill="#3aae83"/>
<polygon points="1018.4,2244.7 1027,2261.7 1009.8,2261.7" fill="#3aae83"/>
<polygon points="1036.6,2252.1 1045.2,2269.1 1028,2269.1" fill="#3aae83"/>
<polygon points="1027.8,2256.7 1036.4,2273.7 1019.2,2273.7" fill="#3aae83"/>
<polygon points="1045.8,2256.3 1054.4,2273.3 1037.2,2273.3" fill="#3aae83"/>
<polygon points="1032.5,2274.3 1041.1,2291.3 1023.9,2291.3" fill="#3aae83"/>
<polygon points="1023.4,2278.9 1032,2295.9 1014.8,2295.9" fill="#3aae83"/>
<polygon points="1041.5,2278.5 1050.1,2295.5 1032.9,2295.5" fill="#3aae83"/>
<line x1="1005.1" y1="2170" x2="1059.5" y2="2170" stroke="#000" stroke-width="5.6" stroke-linecap="butt"/>
<line x1="1031.8" y1="2080.7" x2="1031.8" y2="2259.8" stroke="#000" stroke-width="4.2" stroke-linecap="butt"/>
<line x1="1025" y1="2080.7" x2="1039.5" y2="2080.7" stroke="#000" stroke-width="4.2" stroke-linecap="round"/>
<line x1="1025" y1="2259.8" x2="1039.5" y2="2259.8" stroke="#000" stroke-width="4.2" stroke-linecap="round"/>
<polygon points="1114.2,2296.7 1122.7,2280.7 1105.7,2280.7" fill="#53298c"/>
<polygon points="1098.5,2305.5 1107,2289.5 1090,2289.5" fill="#53298c"/>
<polygon points="1130,2313 1138.5,2297 1121.5,2297" fill="#53298c"/>
<polygon points="1096,2321 1104.5,2305 1087.5,2305" fill="#53298c"/>
<polygon points="1105,2322 1113.5,2306 1096.5,2306" fill="#53298c"/>
<polygon points="1123,2322 1131.5,2306 1114.5,2306" fill="#53298c"/>
<polygon points="1137,2317 1145.5,2301 1128.5,2301" fill="#53298c"/>
<polygon points="1112,2314 1120.5,2298 1103.5,2298" fill="#53298c"/>
<polygon points="1090,2312 1098.5,2296 1081.5,2296" fill="#53298c"/>
<line x1="1087.5" y1="2309" x2="1139.6" y2="2309" stroke="#000" stroke-width="5.8" stroke-linecap="butt"/>
<line x1="1114.2" y1="2302" x2="1114.2" y2="2315" stroke="#000" stroke-width="4.2" stroke-linecap="butt"/>
<line x1="1106" y1="2302" x2="1122" y2="2302" stroke="#000" stroke-width="4.2" stroke-linecap="round"/>
<line x1="1106" y1="2315" x2="1122" y2="2315" stroke="#000" stroke-width="4.2" stroke-linecap="round"/>
</svg>
</body></html>
